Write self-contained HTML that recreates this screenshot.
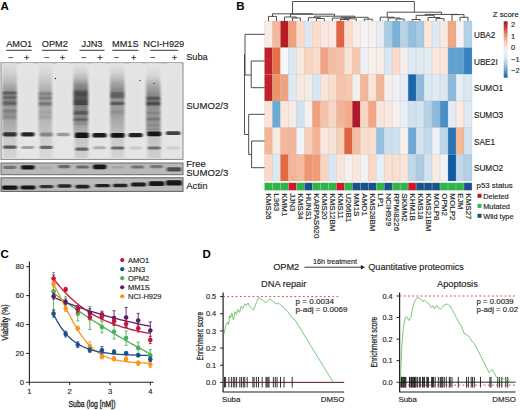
<!DOCTYPE html>
<html><head><meta charset="utf-8"><style>
html,body{margin:0;padding:0;background:#fff;width:520px;height:410px;overflow:hidden}
svg{display:block;font-family:"Liberation Sans", sans-serif}
</style></head><body>
<svg width="520" height="410" viewBox="0 0 520 410">
<rect width="520" height="410" fill="#fff"/>
<text x="0.6" y="9.7" font-size="11.5" text-anchor="start" font-weight="bold" fill="#000"  >A</text>
<text x="236.2" y="9.8" font-size="11.5" text-anchor="start" font-weight="bold" fill="#000"  >B</text>
<text x="0.6" y="258.3" font-size="11.5" text-anchor="start" font-weight="bold" fill="#000"  >C</text>
<text x="202.6" y="258.1" font-size="11.5" text-anchor="start" font-weight="bold" fill="#000"  >D</text>
<text x="19.2" y="47" font-size="9.2" text-anchor="middle" font-weight="normal" fill="#231f20" stroke="#231f20" stroke-width="0.15" >AMO1</text>
<line x1="6.20" y1="50.30" x2="31.70" y2="50.30" stroke="#231f20" stroke-width="0.9" />
<text x="54.8" y="47" font-size="9.2" text-anchor="middle" font-weight="normal" fill="#231f20" stroke="#231f20" stroke-width="0.15" >OPM2</text>
<line x1="41.90" y1="50.30" x2="67.70" y2="50.30" stroke="#231f20" stroke-width="0.9" />
<text x="92" y="47" font-size="9.2" text-anchor="middle" font-weight="normal" fill="#231f20" stroke="#231f20" stroke-width="0.15" >JJN3</text>
<line x1="79.50" y1="50.30" x2="104.50" y2="50.30" stroke="#231f20" stroke-width="0.9" />
<text x="125.3" y="47" font-size="9.2" text-anchor="middle" font-weight="normal" fill="#231f20" stroke="#231f20" stroke-width="0.15" >MM1S</text>
<line x1="112.30" y1="50.30" x2="138.40" y2="50.30" stroke="#231f20" stroke-width="0.9" />
<text x="163.8" y="47" font-size="9.2" text-anchor="middle" font-weight="normal" fill="#231f20" stroke="#231f20" stroke-width="0.15" >NCI-H929</text>
<line x1="150.20" y1="50.30" x2="177.90" y2="50.30" stroke="#231f20" stroke-width="0.9" />
<text x="10.8" y="60.8" font-size="9.2" text-anchor="middle" font-weight="normal" fill="#231f20" stroke="#231f20" stroke-width="0.15" >−</text>
<text x="26.8" y="60.8" font-size="9.2" text-anchor="middle" font-weight="normal" fill="#231f20" stroke="#231f20" stroke-width="0.15" >+</text>
<text x="46.6" y="60.8" font-size="9.2" text-anchor="middle" font-weight="normal" fill="#231f20" stroke="#231f20" stroke-width="0.15" >−</text>
<text x="62.5" y="60.8" font-size="9.2" text-anchor="middle" font-weight="normal" fill="#231f20" stroke="#231f20" stroke-width="0.15" >+</text>
<text x="83.75" y="60.8" font-size="9.2" text-anchor="middle" font-weight="normal" fill="#231f20" stroke="#231f20" stroke-width="0.15" >−</text>
<text x="100" y="60.8" font-size="9.2" text-anchor="middle" font-weight="normal" fill="#231f20" stroke="#231f20" stroke-width="0.15" >+</text>
<text x="116.4" y="60.8" font-size="9.2" text-anchor="middle" font-weight="normal" fill="#231f20" stroke="#231f20" stroke-width="0.15" >−</text>
<text x="133.7" y="60.8" font-size="9.2" text-anchor="middle" font-weight="normal" fill="#231f20" stroke="#231f20" stroke-width="0.15" >+</text>
<text x="152.8" y="60.8" font-size="9.2" text-anchor="middle" font-weight="normal" fill="#231f20" stroke="#231f20" stroke-width="0.15" >−</text>
<text x="174.4" y="60.8" font-size="9.2" text-anchor="middle" font-weight="normal" fill="#231f20" stroke="#231f20" stroke-width="0.15" >+</text>
<text x="186.2" y="59.5" font-size="9.2" text-anchor="start" font-weight="normal" fill="#231f20" stroke="#231f20" stroke-width="0.15" >Suba</text>
<text x="186.2" y="109" font-size="9.6" text-anchor="start" font-weight="normal" fill="#231f20" stroke="#231f20" stroke-width="0.15" >SUMO2/3</text>
<text x="186.2" y="166.6" font-size="9.6" text-anchor="start" font-weight="normal" fill="#231f20" stroke="#231f20" stroke-width="0.15" >Free</text>
<text x="186.2" y="176.3" font-size="9.6" text-anchor="start" font-weight="normal" fill="#231f20" stroke="#231f20" stroke-width="0.15" >SUMO2/3</text>
<text x="186.2" y="188.6" font-size="9.6" text-anchor="start" font-weight="normal" fill="#231f20" stroke="#231f20" stroke-width="0.15" >Actin</text>
<defs><filter id="bl1" x="-50%" y="-50%" width="200%" height="200%"><feGaussianBlur stdDeviation="0.8 0.6"/></filter><filter id="bls" x="-50%" y="-50%" width="200%" height="200%"><feGaussianBlur stdDeviation="1.1 0.4"/></filter><clipPath id="cpm"><rect x="1.5" y="63" width="181" height="96"/></clipPath><clipPath id="cpf"><rect x="1.5" y="163.5" width="181" height="10.8"/></clipPath><clipPath id="cpa"><rect x="1.5" y="178.3" width="181" height="12.5"/></clipPath></defs>
<rect x="1" y="62.8" width="182" height="96.6" fill="#e5e5e5" stroke="#8a8a8a" stroke-width="1"/>
<g clip-path="url(#cpm)">
<g filter="url(#bls)">
<rect x="21.3" y="63.00" width="13" height="2.05" fill="rgb(229,229,229)"/>
<rect x="21.3" y="65.00" width="13" height="2.05" fill="rgb(229,229,229)"/>
<rect x="21.3" y="67.00" width="13" height="2.05" fill="rgb(228,228,228)"/>
<rect x="21.3" y="69.00" width="13" height="2.05" fill="rgb(228,228,228)"/>
<rect x="21.3" y="71.00" width="13" height="2.05" fill="rgb(228,228,228)"/>
<rect x="21.3" y="73.00" width="13" height="2.05" fill="rgb(227,227,227)"/>
<rect x="21.3" y="75.00" width="13" height="2.05" fill="rgb(227,227,227)"/>
<rect x="21.3" y="77.00" width="13" height="2.05" fill="rgb(227,227,227)"/>
<rect x="21.3" y="79.00" width="13" height="2.05" fill="rgb(226,226,226)"/>
<rect x="21.3" y="81.00" width="13" height="2.05" fill="rgb(226,226,226)"/>
<rect x="21.3" y="83.00" width="13" height="2.05" fill="rgb(226,226,226)"/>
<rect x="21.3" y="85.00" width="13" height="2.05" fill="rgb(226,226,226)"/>
<rect x="21.3" y="87.00" width="13" height="2.05" fill="rgb(226,226,226)"/>
<rect x="21.3" y="89.00" width="13" height="2.05" fill="rgb(226,226,226)"/>
<rect x="21.3" y="91.00" width="13" height="2.05" fill="rgb(226,226,226)"/>
<rect x="21.3" y="93.00" width="13" height="2.05" fill="rgb(226,226,226)"/>
<rect x="21.3" y="95.00" width="13" height="2.05" fill="rgb(226,226,226)"/>
<rect x="21.3" y="97.00" width="13" height="2.05" fill="rgb(226,226,226)"/>
<rect x="21.3" y="99.00" width="13" height="2.05" fill="rgb(226,226,226)"/>
<rect x="21.3" y="101.00" width="13" height="2.05" fill="rgb(226,226,226)"/>
<rect x="21.3" y="103.00" width="13" height="2.05" fill="rgb(226,226,226)"/>
<rect x="21.3" y="105.00" width="13" height="2.05" fill="rgb(226,226,226)"/>
<rect x="21.3" y="107.00" width="13" height="2.05" fill="rgb(226,226,226)"/>
<rect x="21.3" y="109.00" width="13" height="2.05" fill="rgb(226,226,226)"/>
<rect x="21.3" y="111.00" width="13" height="2.05" fill="rgb(226,226,226)"/>
<rect x="21.3" y="113.00" width="13" height="2.05" fill="rgb(226,226,226)"/>
<rect x="21.3" y="115.00" width="13" height="2.05" fill="rgb(226,226,226)"/>
<rect x="21.3" y="117.00" width="13" height="2.05" fill="rgb(226,226,226)"/>
<rect x="21.3" y="119.00" width="13" height="2.05" fill="rgb(226,226,226)"/>
<rect x="21.3" y="121.00" width="13" height="2.05" fill="rgb(226,226,226)"/>
<rect x="21.3" y="123.00" width="13" height="2.05" fill="rgb(226,226,226)"/>
<rect x="21.3" y="125.00" width="13" height="2.05" fill="rgb(226,226,226)"/>
<rect x="21.3" y="127.00" width="13" height="2.05" fill="rgb(226,226,226)"/>
<rect x="21.3" y="129.00" width="13" height="2.05" fill="rgb(227,227,227)"/>
<rect x="21.3" y="131.00" width="13" height="2.05" fill="rgb(228,228,228)"/>
</g>
<g filter="url(#bls)">
<rect x="56.8" y="63.00" width="13" height="2.05" fill="rgb(229,229,229)"/>
<rect x="56.8" y="65.00" width="13" height="2.05" fill="rgb(229,229,229)"/>
<rect x="56.8" y="67.00" width="13" height="2.05" fill="rgb(228,228,228)"/>
<rect x="56.8" y="69.00" width="13" height="2.05" fill="rgb(228,228,228)"/>
<rect x="56.8" y="71.00" width="13" height="2.05" fill="rgb(228,228,228)"/>
<rect x="56.8" y="73.00" width="13" height="2.05" fill="rgb(227,227,227)"/>
<rect x="56.8" y="75.00" width="13" height="2.05" fill="rgb(227,227,227)"/>
<rect x="56.8" y="77.00" width="13" height="2.05" fill="rgb(227,227,227)"/>
<rect x="56.8" y="79.00" width="13" height="2.05" fill="rgb(226,226,226)"/>
<rect x="56.8" y="81.00" width="13" height="2.05" fill="rgb(226,226,226)"/>
<rect x="56.8" y="83.00" width="13" height="2.05" fill="rgb(226,226,226)"/>
<rect x="56.8" y="85.00" width="13" height="2.05" fill="rgb(226,226,226)"/>
<rect x="56.8" y="87.00" width="13" height="2.05" fill="rgb(226,226,226)"/>
<rect x="56.8" y="89.00" width="13" height="2.05" fill="rgb(226,226,226)"/>
<rect x="56.8" y="91.00" width="13" height="2.05" fill="rgb(226,226,226)"/>
<rect x="56.8" y="93.00" width="13" height="2.05" fill="rgb(226,226,226)"/>
<rect x="56.8" y="95.00" width="13" height="2.05" fill="rgb(226,226,226)"/>
<rect x="56.8" y="97.00" width="13" height="2.05" fill="rgb(226,226,226)"/>
<rect x="56.8" y="99.00" width="13" height="2.05" fill="rgb(226,226,226)"/>
<rect x="56.8" y="101.00" width="13" height="2.05" fill="rgb(226,226,226)"/>
<rect x="56.8" y="103.00" width="13" height="2.05" fill="rgb(226,226,226)"/>
<rect x="56.8" y="105.00" width="13" height="2.05" fill="rgb(226,226,226)"/>
<rect x="56.8" y="107.00" width="13" height="2.05" fill="rgb(226,226,226)"/>
<rect x="56.8" y="109.00" width="13" height="2.05" fill="rgb(226,226,226)"/>
<rect x="56.8" y="111.00" width="13" height="2.05" fill="rgb(226,226,226)"/>
<rect x="56.8" y="113.00" width="13" height="2.05" fill="rgb(226,226,226)"/>
<rect x="56.8" y="115.00" width="13" height="2.05" fill="rgb(226,226,226)"/>
<rect x="56.8" y="117.00" width="13" height="2.05" fill="rgb(226,226,226)"/>
<rect x="56.8" y="119.00" width="13" height="2.05" fill="rgb(226,226,226)"/>
<rect x="56.8" y="121.00" width="13" height="2.05" fill="rgb(226,226,226)"/>
<rect x="56.8" y="123.00" width="13" height="2.05" fill="rgb(226,226,226)"/>
<rect x="56.8" y="125.00" width="13" height="2.05" fill="rgb(226,226,226)"/>
<rect x="56.8" y="127.00" width="13" height="2.05" fill="rgb(226,226,226)"/>
<rect x="56.8" y="129.00" width="13" height="2.05" fill="rgb(227,227,227)"/>
<rect x="56.8" y="131.00" width="13" height="2.05" fill="rgb(228,228,228)"/>
</g>
<g filter="url(#bls)">
<rect x="93.0" y="63.00" width="13" height="2.05" fill="rgb(229,229,229)"/>
<rect x="93.0" y="65.00" width="13" height="2.05" fill="rgb(229,229,229)"/>
<rect x="93.0" y="67.00" width="13" height="2.05" fill="rgb(228,228,228)"/>
<rect x="93.0" y="69.00" width="13" height="2.05" fill="rgb(228,228,228)"/>
<rect x="93.0" y="71.00" width="13" height="2.05" fill="rgb(228,228,228)"/>
<rect x="93.0" y="73.00" width="13" height="2.05" fill="rgb(227,227,227)"/>
<rect x="93.0" y="75.00" width="13" height="2.05" fill="rgb(227,227,227)"/>
<rect x="93.0" y="77.00" width="13" height="2.05" fill="rgb(227,227,227)"/>
<rect x="93.0" y="79.00" width="13" height="2.05" fill="rgb(226,226,226)"/>
<rect x="93.0" y="81.00" width="13" height="2.05" fill="rgb(226,226,226)"/>
<rect x="93.0" y="83.00" width="13" height="2.05" fill="rgb(226,226,226)"/>
<rect x="93.0" y="85.00" width="13" height="2.05" fill="rgb(226,226,226)"/>
<rect x="93.0" y="87.00" width="13" height="2.05" fill="rgb(226,226,226)"/>
<rect x="93.0" y="89.00" width="13" height="2.05" fill="rgb(226,226,226)"/>
<rect x="93.0" y="91.00" width="13" height="2.05" fill="rgb(226,226,226)"/>
<rect x="93.0" y="93.00" width="13" height="2.05" fill="rgb(226,226,226)"/>
<rect x="93.0" y="95.00" width="13" height="2.05" fill="rgb(226,226,226)"/>
<rect x="93.0" y="97.00" width="13" height="2.05" fill="rgb(226,226,226)"/>
<rect x="93.0" y="99.00" width="13" height="2.05" fill="rgb(226,226,226)"/>
<rect x="93.0" y="101.00" width="13" height="2.05" fill="rgb(226,226,226)"/>
<rect x="93.0" y="103.00" width="13" height="2.05" fill="rgb(226,226,226)"/>
<rect x="93.0" y="105.00" width="13" height="2.05" fill="rgb(226,226,226)"/>
<rect x="93.0" y="107.00" width="13" height="2.05" fill="rgb(226,226,226)"/>
<rect x="93.0" y="109.00" width="13" height="2.05" fill="rgb(226,226,226)"/>
<rect x="93.0" y="111.00" width="13" height="2.05" fill="rgb(226,226,226)"/>
<rect x="93.0" y="113.00" width="13" height="2.05" fill="rgb(226,226,226)"/>
<rect x="93.0" y="115.00" width="13" height="2.05" fill="rgb(226,226,226)"/>
<rect x="93.0" y="117.00" width="13" height="2.05" fill="rgb(226,226,226)"/>
<rect x="93.0" y="119.00" width="13" height="2.05" fill="rgb(226,226,226)"/>
<rect x="93.0" y="121.00" width="13" height="2.05" fill="rgb(226,226,226)"/>
<rect x="93.0" y="123.00" width="13" height="2.05" fill="rgb(226,226,226)"/>
<rect x="93.0" y="125.00" width="13" height="2.05" fill="rgb(226,226,226)"/>
<rect x="93.0" y="127.00" width="13" height="2.05" fill="rgb(226,226,226)"/>
<rect x="93.0" y="129.00" width="13" height="2.05" fill="rgb(227,227,227)"/>
<rect x="93.0" y="131.00" width="13" height="2.05" fill="rgb(228,228,228)"/>
</g>
<g filter="url(#bls)">
<rect x="129.1" y="63.00" width="13" height="2.05" fill="rgb(229,229,229)"/>
<rect x="129.1" y="65.00" width="13" height="2.05" fill="rgb(229,229,229)"/>
<rect x="129.1" y="67.00" width="13" height="2.05" fill="rgb(228,228,228)"/>
<rect x="129.1" y="69.00" width="13" height="2.05" fill="rgb(228,228,228)"/>
<rect x="129.1" y="71.00" width="13" height="2.05" fill="rgb(228,228,228)"/>
<rect x="129.1" y="73.00" width="13" height="2.05" fill="rgb(227,227,227)"/>
<rect x="129.1" y="75.00" width="13" height="2.05" fill="rgb(227,227,227)"/>
<rect x="129.1" y="77.00" width="13" height="2.05" fill="rgb(227,227,227)"/>
<rect x="129.1" y="79.00" width="13" height="2.05" fill="rgb(226,226,226)"/>
<rect x="129.1" y="81.00" width="13" height="2.05" fill="rgb(226,226,226)"/>
<rect x="129.1" y="83.00" width="13" height="2.05" fill="rgb(226,226,226)"/>
<rect x="129.1" y="85.00" width="13" height="2.05" fill="rgb(226,226,226)"/>
<rect x="129.1" y="87.00" width="13" height="2.05" fill="rgb(226,226,226)"/>
<rect x="129.1" y="89.00" width="13" height="2.05" fill="rgb(226,226,226)"/>
<rect x="129.1" y="91.00" width="13" height="2.05" fill="rgb(226,226,226)"/>
<rect x="129.1" y="93.00" width="13" height="2.05" fill="rgb(226,226,226)"/>
<rect x="129.1" y="95.00" width="13" height="2.05" fill="rgb(226,226,226)"/>
<rect x="129.1" y="97.00" width="13" height="2.05" fill="rgb(226,226,226)"/>
<rect x="129.1" y="99.00" width="13" height="2.05" fill="rgb(226,226,226)"/>
<rect x="129.1" y="101.00" width="13" height="2.05" fill="rgb(226,226,226)"/>
<rect x="129.1" y="103.00" width="13" height="2.05" fill="rgb(226,226,226)"/>
<rect x="129.1" y="105.00" width="13" height="2.05" fill="rgb(226,226,226)"/>
<rect x="129.1" y="107.00" width="13" height="2.05" fill="rgb(226,226,226)"/>
<rect x="129.1" y="109.00" width="13" height="2.05" fill="rgb(226,226,226)"/>
<rect x="129.1" y="111.00" width="13" height="2.05" fill="rgb(226,226,226)"/>
<rect x="129.1" y="113.00" width="13" height="2.05" fill="rgb(226,226,226)"/>
<rect x="129.1" y="115.00" width="13" height="2.05" fill="rgb(226,226,226)"/>
<rect x="129.1" y="117.00" width="13" height="2.05" fill="rgb(226,226,226)"/>
<rect x="129.1" y="119.00" width="13" height="2.05" fill="rgb(226,226,226)"/>
<rect x="129.1" y="121.00" width="13" height="2.05" fill="rgb(226,226,226)"/>
<rect x="129.1" y="123.00" width="13" height="2.05" fill="rgb(226,226,226)"/>
<rect x="129.1" y="125.00" width="13" height="2.05" fill="rgb(226,226,226)"/>
<rect x="129.1" y="127.00" width="13" height="2.05" fill="rgb(226,226,226)"/>
<rect x="129.1" y="129.00" width="13" height="2.05" fill="rgb(227,227,227)"/>
<rect x="129.1" y="131.00" width="13" height="2.05" fill="rgb(228,228,228)"/>
</g>
<g filter="url(#bls)">
<rect x="166.7" y="63.00" width="13" height="2.05" fill="rgb(229,229,229)"/>
<rect x="166.7" y="65.00" width="13" height="2.05" fill="rgb(229,229,229)"/>
<rect x="166.7" y="67.00" width="13" height="2.05" fill="rgb(228,228,228)"/>
<rect x="166.7" y="69.00" width="13" height="2.05" fill="rgb(228,228,228)"/>
<rect x="166.7" y="71.00" width="13" height="2.05" fill="rgb(228,228,228)"/>
<rect x="166.7" y="73.00" width="13" height="2.05" fill="rgb(227,227,227)"/>
<rect x="166.7" y="75.00" width="13" height="2.05" fill="rgb(227,227,227)"/>
<rect x="166.7" y="77.00" width="13" height="2.05" fill="rgb(227,227,227)"/>
<rect x="166.7" y="79.00" width="13" height="2.05" fill="rgb(226,226,226)"/>
<rect x="166.7" y="81.00" width="13" height="2.05" fill="rgb(226,226,226)"/>
<rect x="166.7" y="83.00" width="13" height="2.05" fill="rgb(226,226,226)"/>
<rect x="166.7" y="85.00" width="13" height="2.05" fill="rgb(226,226,226)"/>
<rect x="166.7" y="87.00" width="13" height="2.05" fill="rgb(226,226,226)"/>
<rect x="166.7" y="89.00" width="13" height="2.05" fill="rgb(226,226,226)"/>
<rect x="166.7" y="91.00" width="13" height="2.05" fill="rgb(226,226,226)"/>
<rect x="166.7" y="93.00" width="13" height="2.05" fill="rgb(226,226,226)"/>
<rect x="166.7" y="95.00" width="13" height="2.05" fill="rgb(226,226,226)"/>
<rect x="166.7" y="97.00" width="13" height="2.05" fill="rgb(226,226,226)"/>
<rect x="166.7" y="99.00" width="13" height="2.05" fill="rgb(226,226,226)"/>
<rect x="166.7" y="101.00" width="13" height="2.05" fill="rgb(226,226,226)"/>
<rect x="166.7" y="103.00" width="13" height="2.05" fill="rgb(226,226,226)"/>
<rect x="166.7" y="105.00" width="13" height="2.05" fill="rgb(226,226,226)"/>
<rect x="166.7" y="107.00" width="13" height="2.05" fill="rgb(226,226,226)"/>
<rect x="166.7" y="109.00" width="13" height="2.05" fill="rgb(226,226,226)"/>
<rect x="166.7" y="111.00" width="13" height="2.05" fill="rgb(226,226,226)"/>
<rect x="166.7" y="113.00" width="13" height="2.05" fill="rgb(226,226,226)"/>
<rect x="166.7" y="115.00" width="13" height="2.05" fill="rgb(226,226,226)"/>
<rect x="166.7" y="117.00" width="13" height="2.05" fill="rgb(226,226,226)"/>
<rect x="166.7" y="119.00" width="13" height="2.05" fill="rgb(226,226,226)"/>
<rect x="166.7" y="121.00" width="13" height="2.05" fill="rgb(226,226,226)"/>
<rect x="166.7" y="123.00" width="13" height="2.05" fill="rgb(226,226,226)"/>
<rect x="166.7" y="125.00" width="13" height="2.05" fill="rgb(226,226,226)"/>
<rect x="166.7" y="127.00" width="13" height="2.05" fill="rgb(226,226,226)"/>
<rect x="166.7" y="129.00" width="13" height="2.05" fill="rgb(227,227,227)"/>
<rect x="166.7" y="131.00" width="13" height="2.05" fill="rgb(228,228,228)"/>
</g>
<g filter="url(#bls)">
<rect x="2.3" y="63.00" width="14.5" height="0.55" fill="rgb(222,222,222)"/>
<rect x="2.3" y="63.50" width="14.5" height="0.55" fill="rgb(221,221,221)"/>
<rect x="2.3" y="64.00" width="14.5" height="0.55" fill="rgb(220,220,220)"/>
<rect x="2.3" y="64.50" width="14.5" height="0.55" fill="rgb(219,219,219)"/>
<rect x="2.3" y="65.00" width="14.5" height="0.55" fill="rgb(218,218,218)"/>
<rect x="2.3" y="65.50" width="14.5" height="0.55" fill="rgb(217,217,217)"/>
<rect x="2.3" y="66.00" width="14.5" height="0.55" fill="rgb(216,216,216)"/>
<rect x="2.3" y="66.50" width="14.5" height="0.55" fill="rgb(215,215,215)"/>
<rect x="2.3" y="67.00" width="14.5" height="0.55" fill="rgb(214,214,214)"/>
<rect x="2.3" y="67.50" width="14.5" height="0.55" fill="rgb(213,213,213)"/>
<rect x="2.3" y="68.00" width="14.5" height="0.55" fill="rgb(212,212,212)"/>
<rect x="2.3" y="68.50" width="14.5" height="0.55" fill="rgb(211,211,211)"/>
<rect x="2.3" y="69.00" width="14.5" height="0.55" fill="rgb(210,210,210)"/>
<rect x="2.3" y="69.50" width="14.5" height="0.55" fill="rgb(209,209,209)"/>
<rect x="2.3" y="70.00" width="14.5" height="0.55" fill="rgb(208,208,208)"/>
<rect x="2.3" y="70.50" width="14.5" height="0.55" fill="rgb(207,207,207)"/>
<rect x="2.3" y="71.00" width="14.5" height="0.55" fill="rgb(206,206,206)"/>
<rect x="2.3" y="71.50" width="14.5" height="0.55" fill="rgb(205,205,205)"/>
<rect x="2.3" y="72.00" width="14.5" height="0.55" fill="rgb(204,204,204)"/>
<rect x="2.3" y="72.50" width="14.5" height="0.55" fill="rgb(203,203,203)"/>
<rect x="2.3" y="73.00" width="14.5" height="0.55" fill="rgb(201,201,201)"/>
<rect x="2.3" y="73.50" width="14.5" height="0.55" fill="rgb(200,200,200)"/>
<rect x="2.3" y="74.00" width="14.5" height="0.55" fill="rgb(198,198,198)"/>
<rect x="2.3" y="74.50" width="14.5" height="0.55" fill="rgb(197,197,197)"/>
<rect x="2.3" y="75.00" width="14.5" height="0.55" fill="rgb(196,196,196)"/>
<rect x="2.3" y="75.50" width="14.5" height="0.55" fill="rgb(194,194,194)"/>
<rect x="2.3" y="76.00" width="14.5" height="0.55" fill="rgb(193,193,193)"/>
<rect x="2.3" y="76.50" width="14.5" height="0.55" fill="rgb(191,191,191)"/>
<rect x="2.3" y="77.00" width="14.5" height="0.55" fill="rgb(190,190,190)"/>
<rect x="2.3" y="77.50" width="14.5" height="0.55" fill="rgb(188,188,188)"/>
<rect x="2.3" y="78.00" width="14.5" height="0.55" fill="rgb(186,186,186)"/>
<rect x="2.3" y="78.50" width="14.5" height="0.55" fill="rgb(185,185,185)"/>
<rect x="2.3" y="79.00" width="14.5" height="0.55" fill="rgb(183,183,183)"/>
<rect x="2.3" y="79.50" width="14.5" height="0.55" fill="rgb(181,181,181)"/>
<rect x="2.3" y="80.00" width="14.5" height="0.55" fill="rgb(180,180,180)"/>
<rect x="2.3" y="80.50" width="14.5" height="0.55" fill="rgb(178,178,178)"/>
<rect x="2.3" y="81.00" width="14.5" height="0.55" fill="rgb(176,176,176)"/>
<rect x="2.3" y="81.50" width="14.5" height="0.55" fill="rgb(174,174,174)"/>
<rect x="2.3" y="82.00" width="14.5" height="0.55" fill="rgb(171,171,171)"/>
<rect x="2.3" y="82.50" width="14.5" height="0.55" fill="rgb(168,168,168)"/>
<rect x="2.3" y="83.00" width="14.5" height="0.55" fill="rgb(166,166,166)"/>
<rect x="2.3" y="83.50" width="14.5" height="0.55" fill="rgb(164,164,164)"/>
<rect x="2.3" y="84.00" width="14.5" height="0.55" fill="rgb(161,161,161)"/>
<rect x="2.3" y="84.50" width="14.5" height="0.55" fill="rgb(158,158,158)"/>
<rect x="2.3" y="85.00" width="14.5" height="0.55" fill="rgb(156,156,156)"/>
<rect x="2.3" y="85.50" width="14.5" height="0.55" fill="rgb(154,154,154)"/>
<rect x="2.3" y="86.00" width="14.5" height="0.55" fill="rgb(151,151,151)"/>
<rect x="2.3" y="86.50" width="14.5" height="0.55" fill="rgb(148,148,148)"/>
<rect x="2.3" y="87.00" width="14.5" height="0.55" fill="rgb(146,146,146)"/>
<rect x="2.3" y="87.50" width="14.5" height="0.55" fill="rgb(144,144,144)"/>
<rect x="2.3" y="88.00" width="14.5" height="0.55" fill="rgb(141,141,141)"/>
<rect x="2.3" y="88.50" width="14.5" height="0.55" fill="rgb(139,139,139)"/>
<rect x="2.3" y="89.00" width="14.5" height="0.55" fill="rgb(137,137,137)"/>
<rect x="2.3" y="89.50" width="14.5" height="0.55" fill="rgb(135,135,135)"/>
<rect x="2.3" y="90.00" width="14.5" height="0.55" fill="rgb(132,132,132)"/>
<rect x="2.3" y="90.50" width="14.5" height="0.55" fill="rgb(130,130,130)"/>
<rect x="2.3" y="91.00" width="14.5" height="0.55" fill="rgb(107,107,107)"/>
<rect x="2.3" y="91.50" width="14.5" height="0.55" fill="rgb(84,84,84)"/>
<rect x="2.3" y="92.00" width="14.5" height="0.55" fill="rgb(66,66,66)"/>
<rect x="2.3" y="92.50" width="14.5" height="0.55" fill="rgb(57,57,57)"/>
<rect x="2.3" y="93.00" width="14.5" height="0.55" fill="rgb(48,48,48)"/>
<rect x="2.3" y="93.50" width="14.5" height="0.55" fill="rgb(62,62,62)"/>
<rect x="2.3" y="94.00" width="14.5" height="0.55" fill="rgb(76,76,76)"/>
<rect x="2.3" y="94.50" width="14.5" height="0.55" fill="rgb(90,90,90)"/>
<rect x="2.3" y="95.00" width="14.5" height="0.55" fill="rgb(95,95,95)"/>
<rect x="2.3" y="95.50" width="14.5" height="0.55" fill="rgb(100,100,100)"/>
<rect x="2.3" y="96.00" width="14.5" height="0.55" fill="rgb(87,87,87)"/>
<rect x="2.3" y="96.50" width="14.5" height="0.55" fill="rgb(74,74,74)"/>
<rect x="2.3" y="97.00" width="14.5" height="0.55" fill="rgb(61,61,61)"/>
<rect x="2.3" y="97.50" width="14.5" height="0.55" fill="rgb(62,62,62)"/>
<rect x="2.3" y="98.00" width="14.5" height="0.55" fill="rgb(73,73,73)"/>
<rect x="2.3" y="98.50" width="14.5" height="0.55" fill="rgb(84,84,84)"/>
<rect x="2.3" y="99.00" width="14.5" height="0.55" fill="rgb(93,93,93)"/>
<rect x="2.3" y="99.50" width="14.5" height="0.55" fill="rgb(102,102,102)"/>
<rect x="2.3" y="100.00" width="14.5" height="0.55" fill="rgb(110,110,110)"/>
<rect x="2.3" y="100.50" width="14.5" height="0.55" fill="rgb(100,100,100)"/>
<rect x="2.3" y="101.00" width="14.5" height="0.55" fill="rgb(90,90,90)"/>
<rect x="2.3" y="101.50" width="14.5" height="0.55" fill="rgb(80,80,80)"/>
<rect x="2.3" y="102.00" width="14.5" height="0.55" fill="rgb(72,72,72)"/>
<rect x="2.3" y="102.50" width="14.5" height="0.55" fill="rgb(64,64,64)"/>
<rect x="2.3" y="103.00" width="14.5" height="0.55" fill="rgb(56,56,56)"/>
<rect x="2.3" y="103.50" width="14.5" height="0.55" fill="rgb(64,64,64)"/>
<rect x="2.3" y="104.00" width="14.5" height="0.55" fill="rgb(71,71,71)"/>
<rect x="2.3" y="104.50" width="14.5" height="0.55" fill="rgb(79,79,79)"/>
<rect x="2.3" y="105.00" width="14.5" height="0.55" fill="rgb(95,95,95)"/>
<rect x="2.3" y="105.50" width="14.5" height="0.55" fill="rgb(114,114,114)"/>
<rect x="2.3" y="106.00" width="14.5" height="0.55" fill="rgb(126,126,126)"/>
<rect x="2.3" y="106.50" width="14.5" height="0.55" fill="rgb(129,129,129)"/>
<rect x="2.3" y="107.00" width="14.5" height="0.55" fill="rgb(132,132,132)"/>
<rect x="2.3" y="107.50" width="14.5" height="0.55" fill="rgb(135,135,135)"/>
<rect x="2.3" y="108.00" width="14.5" height="0.55" fill="rgb(138,138,138)"/>
<rect x="2.3" y="108.50" width="14.5" height="0.55" fill="rgb(130,130,130)"/>
<rect x="2.3" y="109.00" width="14.5" height="0.55" fill="rgb(122,122,122)"/>
<rect x="2.3" y="109.50" width="14.5" height="0.55" fill="rgb(113,113,113)"/>
<rect x="2.3" y="110.00" width="14.5" height="0.55" fill="rgb(105,105,105)"/>
<rect x="2.3" y="110.50" width="14.5" height="0.55" fill="rgb(101,101,101)"/>
<rect x="2.3" y="111.00" width="14.5" height="0.55" fill="rgb(98,98,98)"/>
<rect x="2.3" y="111.50" width="14.5" height="0.55" fill="rgb(100,100,100)"/>
<rect x="2.3" y="112.00" width="14.5" height="0.55" fill="rgb(106,106,106)"/>
<rect x="2.3" y="112.50" width="14.5" height="0.55" fill="rgb(111,111,111)"/>
<rect x="2.3" y="113.00" width="14.5" height="0.55" fill="rgb(117,117,117)"/>
<rect x="2.3" y="113.50" width="14.5" height="0.55" fill="rgb(123,123,123)"/>
<rect x="2.3" y="114.00" width="14.5" height="0.55" fill="rgb(128,128,128)"/>
<rect x="2.3" y="114.50" width="14.5" height="0.55" fill="rgb(124,124,124)"/>
<rect x="2.3" y="115.00" width="14.5" height="0.55" fill="rgb(121,121,121)"/>
<rect x="2.3" y="115.50" width="14.5" height="0.55" fill="rgb(117,117,117)"/>
<rect x="2.3" y="116.00" width="14.5" height="0.55" fill="rgb(113,113,113)"/>
<rect x="2.3" y="116.50" width="14.5" height="0.55" fill="rgb(110,110,110)"/>
<rect x="2.3" y="117.00" width="14.5" height="0.55" fill="rgb(106,106,106)"/>
<rect x="2.3" y="117.50" width="14.5" height="0.55" fill="rgb(112,112,112)"/>
<rect x="2.3" y="118.00" width="14.5" height="0.55" fill="rgb(119,119,119)"/>
<rect x="2.3" y="118.50" width="14.5" height="0.55" fill="rgb(125,125,125)"/>
<rect x="2.3" y="119.00" width="14.5" height="0.55" fill="rgb(133,133,133)"/>
<rect x="2.3" y="119.50" width="14.5" height="0.55" fill="rgb(142,142,142)"/>
<rect x="2.3" y="120.00" width="14.5" height="0.55" fill="rgb(150,150,150)"/>
<rect x="2.3" y="120.50" width="14.5" height="0.55" fill="rgb(151,151,151)"/>
<rect x="2.3" y="121.00" width="14.5" height="0.55" fill="rgb(152,152,152)"/>
<rect x="2.3" y="121.50" width="14.5" height="0.55" fill="rgb(152,152,152)"/>
<rect x="2.3" y="122.00" width="14.5" height="0.55" fill="rgb(153,153,153)"/>
<rect x="2.3" y="122.50" width="14.5" height="0.55" fill="rgb(154,154,154)"/>
<rect x="2.3" y="123.00" width="14.5" height="0.55" fill="rgb(155,155,155)"/>
<rect x="2.3" y="123.50" width="14.5" height="0.55" fill="rgb(156,156,156)"/>
<rect x="2.3" y="124.00" width="14.5" height="0.55" fill="rgb(157,157,157)"/>
<rect x="2.3" y="124.50" width="14.5" height="0.55" fill="rgb(158,158,158)"/>
<rect x="2.3" y="125.00" width="14.5" height="0.55" fill="rgb(158,158,158)"/>
<rect x="2.3" y="125.50" width="14.5" height="0.55" fill="rgb(159,159,159)"/>
<rect x="2.3" y="126.00" width="14.5" height="0.55" fill="rgb(160,160,160)"/>
<rect x="2.3" y="126.50" width="14.5" height="0.55" fill="rgb(161,161,161)"/>
<rect x="2.3" y="127.00" width="14.5" height="0.55" fill="rgb(162,162,162)"/>
<rect x="2.3" y="127.50" width="14.5" height="0.55" fill="rgb(162,162,162)"/>
<rect x="2.3" y="128.00" width="14.5" height="0.55" fill="rgb(163,163,163)"/>
<rect x="2.3" y="128.50" width="14.5" height="0.55" fill="rgb(164,164,164)"/>
<rect x="2.3" y="129.00" width="14.5" height="0.55" fill="rgb(165,165,165)"/>
<rect x="2.3" y="129.50" width="14.5" height="0.55" fill="rgb(166,166,166)"/>
<rect x="2.3" y="130.00" width="14.5" height="0.55" fill="rgb(166,166,166)"/>
<rect x="2.3" y="130.50" width="14.5" height="0.55" fill="rgb(167,167,167)"/>
<rect x="2.3" y="131.00" width="14.5" height="0.55" fill="rgb(168,168,168)"/>
<rect x="2.3" y="131.50" width="14.5" height="0.55" fill="rgb(169,169,169)"/>
<rect x="2.3" y="132.00" width="14.5" height="0.55" fill="rgb(170,170,170)"/>
<rect x="2.3" y="132.50" width="14.5" height="0.55" fill="rgb(171,171,171)"/>
</g>
<g filter="url(#bls)">
<rect x="38.5" y="63.00" width="13.5" height="0.55" fill="rgb(226,226,226)"/>
<rect x="38.5" y="63.50" width="13.5" height="0.55" fill="rgb(225,225,225)"/>
<rect x="38.5" y="64.00" width="13.5" height="0.55" fill="rgb(224,224,224)"/>
<rect x="38.5" y="64.50" width="13.5" height="0.55" fill="rgb(224,224,224)"/>
<rect x="38.5" y="65.00" width="13.5" height="0.55" fill="rgb(223,223,223)"/>
<rect x="38.5" y="65.50" width="13.5" height="0.55" fill="rgb(222,222,222)"/>
<rect x="38.5" y="66.00" width="13.5" height="0.55" fill="rgb(221,221,221)"/>
<rect x="38.5" y="66.50" width="13.5" height="0.55" fill="rgb(220,220,220)"/>
<rect x="38.5" y="67.00" width="13.5" height="0.55" fill="rgb(220,220,220)"/>
<rect x="38.5" y="67.50" width="13.5" height="0.55" fill="rgb(219,219,219)"/>
<rect x="38.5" y="68.00" width="13.5" height="0.55" fill="rgb(218,218,218)"/>
<rect x="38.5" y="68.50" width="13.5" height="0.55" fill="rgb(217,217,217)"/>
<rect x="38.5" y="69.00" width="13.5" height="0.55" fill="rgb(217,217,217)"/>
<rect x="38.5" y="69.50" width="13.5" height="0.55" fill="rgb(216,216,216)"/>
<rect x="38.5" y="70.00" width="13.5" height="0.55" fill="rgb(215,215,215)"/>
<rect x="38.5" y="70.50" width="13.5" height="0.55" fill="rgb(214,214,214)"/>
<rect x="38.5" y="71.00" width="13.5" height="0.55" fill="rgb(213,213,213)"/>
<rect x="38.5" y="71.50" width="13.5" height="0.55" fill="rgb(212,212,212)"/>
<rect x="38.5" y="72.00" width="13.5" height="0.55" fill="rgb(211,211,211)"/>
<rect x="38.5" y="72.50" width="13.5" height="0.55" fill="rgb(210,210,210)"/>
<rect x="38.5" y="73.00" width="13.5" height="0.55" fill="rgb(209,209,209)"/>
<rect x="38.5" y="73.50" width="13.5" height="0.55" fill="rgb(208,208,208)"/>
<rect x="38.5" y="74.00" width="13.5" height="0.55" fill="rgb(206,206,206)"/>
<rect x="38.5" y="74.50" width="13.5" height="0.55" fill="rgb(205,205,205)"/>
<rect x="38.5" y="75.00" width="13.5" height="0.55" fill="rgb(204,204,204)"/>
<rect x="38.5" y="75.50" width="13.5" height="0.55" fill="rgb(203,203,203)"/>
<rect x="38.5" y="76.00" width="13.5" height="0.55" fill="rgb(202,202,202)"/>
<rect x="38.5" y="76.50" width="13.5" height="0.55" fill="rgb(201,201,201)"/>
<rect x="38.5" y="77.00" width="13.5" height="0.55" fill="rgb(200,200,200)"/>
<rect x="38.5" y="77.50" width="13.5" height="0.55" fill="rgb(198,198,198)"/>
<rect x="38.5" y="78.00" width="13.5" height="0.55" fill="rgb(197,197,197)"/>
<rect x="38.5" y="78.50" width="13.5" height="0.55" fill="rgb(196,196,196)"/>
<rect x="38.5" y="79.00" width="13.5" height="0.55" fill="rgb(194,194,194)"/>
<rect x="38.5" y="79.50" width="13.5" height="0.55" fill="rgb(192,192,192)"/>
<rect x="38.5" y="80.00" width="13.5" height="0.55" fill="rgb(191,191,191)"/>
<rect x="38.5" y="80.50" width="13.5" height="0.55" fill="rgb(190,190,190)"/>
<rect x="38.5" y="81.00" width="13.5" height="0.55" fill="rgb(188,188,188)"/>
<rect x="38.5" y="81.50" width="13.5" height="0.55" fill="rgb(186,186,186)"/>
<rect x="38.5" y="82.00" width="13.5" height="0.55" fill="rgb(185,185,185)"/>
<rect x="38.5" y="82.50" width="13.5" height="0.55" fill="rgb(183,183,183)"/>
<rect x="38.5" y="83.00" width="13.5" height="0.55" fill="rgb(181,181,181)"/>
<rect x="38.5" y="83.50" width="13.5" height="0.55" fill="rgb(179,179,179)"/>
<rect x="38.5" y="84.00" width="13.5" height="0.55" fill="rgb(178,178,178)"/>
<rect x="38.5" y="84.50" width="13.5" height="0.55" fill="rgb(176,176,176)"/>
<rect x="38.5" y="85.00" width="13.5" height="0.55" fill="rgb(174,174,174)"/>
<rect x="38.5" y="85.50" width="13.5" height="0.55" fill="rgb(172,172,172)"/>
<rect x="38.5" y="86.00" width="13.5" height="0.55" fill="rgb(170,170,170)"/>
<rect x="38.5" y="86.50" width="13.5" height="0.55" fill="rgb(169,169,169)"/>
<rect x="38.5" y="87.00" width="13.5" height="0.55" fill="rgb(168,168,168)"/>
<rect x="38.5" y="87.50" width="13.5" height="0.55" fill="rgb(167,167,167)"/>
<rect x="38.5" y="88.00" width="13.5" height="0.55" fill="rgb(166,166,166)"/>
<rect x="38.5" y="88.50" width="13.5" height="0.55" fill="rgb(164,164,164)"/>
<rect x="38.5" y="89.00" width="13.5" height="0.55" fill="rgb(163,163,163)"/>
<rect x="38.5" y="89.50" width="13.5" height="0.55" fill="rgb(162,162,162)"/>
<rect x="38.5" y="90.00" width="13.5" height="0.55" fill="rgb(161,161,161)"/>
<rect x="38.5" y="90.50" width="13.5" height="0.55" fill="rgb(160,160,160)"/>
<rect x="38.5" y="91.00" width="13.5" height="0.55" fill="rgb(150,150,150)"/>
<rect x="38.5" y="91.50" width="13.5" height="0.55" fill="rgb(140,140,140)"/>
<rect x="38.5" y="92.00" width="13.5" height="0.55" fill="rgb(130,130,130)"/>
<rect x="38.5" y="92.50" width="13.5" height="0.55" fill="rgb(120,120,120)"/>
<rect x="38.5" y="93.00" width="13.5" height="0.55" fill="rgb(111,111,111)"/>
<rect x="38.5" y="93.50" width="13.5" height="0.55" fill="rgb(102,102,102)"/>
<rect x="38.5" y="94.00" width="13.5" height="0.55" fill="rgb(101,101,101)"/>
<rect x="38.5" y="94.50" width="13.5" height="0.55" fill="rgb(112,112,112)"/>
<rect x="38.5" y="95.00" width="13.5" height="0.55" fill="rgb(123,123,123)"/>
<rect x="38.5" y="95.50" width="13.5" height="0.55" fill="rgb(128,128,128)"/>
<rect x="38.5" y="96.00" width="13.5" height="0.55" fill="rgb(123,123,123)"/>
<rect x="38.5" y="96.50" width="13.5" height="0.55" fill="rgb(118,118,118)"/>
<rect x="38.5" y="97.00" width="13.5" height="0.55" fill="rgb(108,108,108)"/>
<rect x="38.5" y="97.50" width="13.5" height="0.55" fill="rgb(98,98,98)"/>
<rect x="38.5" y="98.00" width="13.5" height="0.55" fill="rgb(88,88,88)"/>
<rect x="38.5" y="98.50" width="13.5" height="0.55" fill="rgb(100,100,100)"/>
<rect x="38.5" y="99.00" width="13.5" height="0.55" fill="rgb(111,111,111)"/>
<rect x="38.5" y="99.50" width="13.5" height="0.55" fill="rgb(123,123,123)"/>
<rect x="38.5" y="100.00" width="13.5" height="0.55" fill="rgb(129,129,129)"/>
<rect x="38.5" y="100.50" width="13.5" height="0.55" fill="rgb(135,135,135)"/>
<rect x="38.5" y="101.00" width="13.5" height="0.55" fill="rgb(140,140,140)"/>
<rect x="38.5" y="101.50" width="13.5" height="0.55" fill="rgb(125,125,125)"/>
<rect x="38.5" y="102.00" width="13.5" height="0.55" fill="rgb(111,111,111)"/>
<rect x="38.5" y="102.50" width="13.5" height="0.55" fill="rgb(100,100,100)"/>
<rect x="38.5" y="103.00" width="13.5" height="0.55" fill="rgb(91,91,91)"/>
<rect x="38.5" y="103.50" width="13.5" height="0.55" fill="rgb(82,82,82)"/>
<rect x="38.5" y="104.00" width="13.5" height="0.55" fill="rgb(89,89,89)"/>
<rect x="38.5" y="104.50" width="13.5" height="0.55" fill="rgb(100,100,100)"/>
<rect x="38.5" y="105.00" width="13.5" height="0.55" fill="rgb(111,111,111)"/>
<rect x="38.5" y="105.50" width="13.5" height="0.55" fill="rgb(123,123,123)"/>
<rect x="38.5" y="106.00" width="13.5" height="0.55" fill="rgb(137,137,137)"/>
<rect x="38.5" y="106.50" width="13.5" height="0.55" fill="rgb(150,150,150)"/>
<rect x="38.5" y="107.00" width="13.5" height="0.55" fill="rgb(153,153,153)"/>
<rect x="38.5" y="107.50" width="13.5" height="0.55" fill="rgb(157,157,157)"/>
<rect x="38.5" y="108.00" width="13.5" height="0.55" fill="rgb(160,160,160)"/>
<rect x="38.5" y="108.50" width="13.5" height="0.55" fill="rgb(159,159,159)"/>
<rect x="38.5" y="109.00" width="13.5" height="0.55" fill="rgb(157,157,157)"/>
<rect x="38.5" y="109.50" width="13.5" height="0.55" fill="rgb(156,156,156)"/>
<rect x="38.5" y="110.00" width="13.5" height="0.55" fill="rgb(155,155,155)"/>
<rect x="38.5" y="110.50" width="13.5" height="0.55" fill="rgb(153,153,153)"/>
<rect x="38.5" y="111.00" width="13.5" height="0.55" fill="rgb(152,152,152)"/>
<rect x="38.5" y="111.50" width="13.5" height="0.55" fill="rgb(147,147,147)"/>
<rect x="38.5" y="112.00" width="13.5" height="0.55" fill="rgb(143,143,143)"/>
<rect x="38.5" y="112.50" width="13.5" height="0.55" fill="rgb(143,143,143)"/>
<rect x="38.5" y="113.00" width="13.5" height="0.55" fill="rgb(149,149,149)"/>
<rect x="38.5" y="113.50" width="13.5" height="0.55" fill="rgb(155,155,155)"/>
<rect x="38.5" y="114.00" width="13.5" height="0.55" fill="rgb(154,154,154)"/>
<rect x="38.5" y="114.50" width="13.5" height="0.55" fill="rgb(153,153,153)"/>
<rect x="38.5" y="115.00" width="13.5" height="0.55" fill="rgb(152,152,152)"/>
<rect x="38.5" y="115.50" width="13.5" height="0.55" fill="rgb(151,151,151)"/>
<rect x="38.5" y="116.00" width="13.5" height="0.55" fill="rgb(150,150,150)"/>
<rect x="38.5" y="116.50" width="13.5" height="0.55" fill="rgb(147,147,147)"/>
<rect x="38.5" y="117.00" width="13.5" height="0.55" fill="rgb(143,143,143)"/>
<rect x="38.5" y="117.50" width="13.5" height="0.55" fill="rgb(146,146,146)"/>
<rect x="38.5" y="118.00" width="13.5" height="0.55" fill="rgb(152,152,152)"/>
<rect x="38.5" y="118.50" width="13.5" height="0.55" fill="rgb(158,158,158)"/>
<rect x="38.5" y="119.00" width="13.5" height="0.55" fill="rgb(162,162,162)"/>
<rect x="38.5" y="119.50" width="13.5" height="0.55" fill="rgb(164,164,164)"/>
<rect x="38.5" y="120.00" width="13.5" height="0.55" fill="rgb(167,167,167)"/>
<rect x="38.5" y="120.50" width="13.5" height="0.55" fill="rgb(169,169,169)"/>
<rect x="38.5" y="121.00" width="13.5" height="0.55" fill="rgb(172,172,172)"/>
<rect x="38.5" y="121.50" width="13.5" height="0.55" fill="rgb(172,172,172)"/>
<rect x="38.5" y="122.00" width="13.5" height="0.55" fill="rgb(173,173,173)"/>
<rect x="38.5" y="122.50" width="13.5" height="0.55" fill="rgb(173,173,173)"/>
<rect x="38.5" y="123.00" width="13.5" height="0.55" fill="rgb(174,174,174)"/>
<rect x="38.5" y="123.50" width="13.5" height="0.55" fill="rgb(174,174,174)"/>
<rect x="38.5" y="124.00" width="13.5" height="0.55" fill="rgb(175,175,175)"/>
<rect x="38.5" y="124.50" width="13.5" height="0.55" fill="rgb(175,175,175)"/>
<rect x="38.5" y="125.00" width="13.5" height="0.55" fill="rgb(175,175,175)"/>
<rect x="38.5" y="125.50" width="13.5" height="0.55" fill="rgb(176,176,176)"/>
<rect x="38.5" y="126.00" width="13.5" height="0.55" fill="rgb(176,176,176)"/>
<rect x="38.5" y="126.50" width="13.5" height="0.55" fill="rgb(177,177,177)"/>
<rect x="38.5" y="127.00" width="13.5" height="0.55" fill="rgb(177,177,177)"/>
<rect x="38.5" y="127.50" width="13.5" height="0.55" fill="rgb(178,178,178)"/>
<rect x="38.5" y="128.00" width="13.5" height="0.55" fill="rgb(178,178,178)"/>
<rect x="38.5" y="128.50" width="13.5" height="0.55" fill="rgb(178,178,178)"/>
<rect x="38.5" y="129.00" width="13.5" height="0.55" fill="rgb(179,179,179)"/>
<rect x="38.5" y="129.50" width="13.5" height="0.55" fill="rgb(179,179,179)"/>
<rect x="38.5" y="130.00" width="13.5" height="0.55" fill="rgb(180,180,180)"/>
<rect x="38.5" y="130.50" width="13.5" height="0.55" fill="rgb(180,180,180)"/>
<rect x="38.5" y="131.00" width="13.5" height="0.55" fill="rgb(180,180,180)"/>
<rect x="38.5" y="131.50" width="13.5" height="0.55" fill="rgb(181,181,181)"/>
<rect x="38.5" y="132.00" width="13.5" height="0.55" fill="rgb(181,181,181)"/>
<rect x="38.5" y="132.50" width="13.5" height="0.55" fill="rgb(182,182,182)"/>
</g>
<g filter="url(#bls)">
<rect x="73.5" y="63.00" width="14.6" height="0.55" fill="rgb(226,226,226)"/>
<rect x="73.5" y="63.50" width="14.6" height="0.55" fill="rgb(225,225,225)"/>
<rect x="73.5" y="64.00" width="14.6" height="0.55" fill="rgb(224,224,224)"/>
<rect x="73.5" y="64.50" width="14.6" height="0.55" fill="rgb(223,223,223)"/>
<rect x="73.5" y="65.00" width="14.6" height="0.55" fill="rgb(222,222,222)"/>
<rect x="73.5" y="65.50" width="14.6" height="0.55" fill="rgb(221,221,221)"/>
<rect x="73.5" y="66.00" width="14.6" height="0.55" fill="rgb(220,220,220)"/>
<rect x="73.5" y="66.50" width="14.6" height="0.55" fill="rgb(219,219,219)"/>
<rect x="73.5" y="67.00" width="14.6" height="0.55" fill="rgb(218,218,218)"/>
<rect x="73.5" y="67.50" width="14.6" height="0.55" fill="rgb(217,217,217)"/>
<rect x="73.5" y="68.00" width="14.6" height="0.55" fill="rgb(215,215,215)"/>
<rect x="73.5" y="68.50" width="14.6" height="0.55" fill="rgb(214,214,214)"/>
<rect x="73.5" y="69.00" width="14.6" height="0.55" fill="rgb(213,213,213)"/>
<rect x="73.5" y="69.50" width="14.6" height="0.55" fill="rgb(212,212,212)"/>
<rect x="73.5" y="70.00" width="14.6" height="0.55" fill="rgb(211,211,211)"/>
<rect x="73.5" y="70.50" width="14.6" height="0.55" fill="rgb(210,210,210)"/>
<rect x="73.5" y="71.00" width="14.6" height="0.55" fill="rgb(208,208,208)"/>
<rect x="73.5" y="71.50" width="14.6" height="0.55" fill="rgb(206,206,206)"/>
<rect x="73.5" y="72.00" width="14.6" height="0.55" fill="rgb(204,204,204)"/>
<rect x="73.5" y="72.50" width="14.6" height="0.55" fill="rgb(201,201,201)"/>
<rect x="73.5" y="73.00" width="14.6" height="0.55" fill="rgb(199,199,199)"/>
<rect x="73.5" y="73.50" width="14.6" height="0.55" fill="rgb(197,197,197)"/>
<rect x="73.5" y="74.00" width="14.6" height="0.55" fill="rgb(195,195,195)"/>
<rect x="73.5" y="74.50" width="14.6" height="0.55" fill="rgb(192,192,192)"/>
<rect x="73.5" y="75.00" width="14.6" height="0.55" fill="rgb(190,190,190)"/>
<rect x="73.5" y="75.50" width="14.6" height="0.55" fill="rgb(187,187,187)"/>
<rect x="73.5" y="76.00" width="14.6" height="0.55" fill="rgb(184,184,184)"/>
<rect x="73.5" y="76.50" width="14.6" height="0.55" fill="rgb(181,181,181)"/>
<rect x="73.5" y="77.00" width="14.6" height="0.55" fill="rgb(178,178,178)"/>
<rect x="73.5" y="77.50" width="14.6" height="0.55" fill="rgb(174,174,174)"/>
<rect x="73.5" y="78.00" width="14.6" height="0.55" fill="rgb(171,171,171)"/>
<rect x="73.5" y="78.50" width="14.6" height="0.55" fill="rgb(168,168,168)"/>
<rect x="73.5" y="79.00" width="14.6" height="0.55" fill="rgb(165,165,165)"/>
<rect x="73.5" y="79.50" width="14.6" height="0.55" fill="rgb(161,161,161)"/>
<rect x="73.5" y="80.00" width="14.6" height="0.55" fill="rgb(157,157,157)"/>
<rect x="73.5" y="80.50" width="14.6" height="0.55" fill="rgb(152,152,152)"/>
<rect x="73.5" y="81.00" width="14.6" height="0.55" fill="rgb(148,148,148)"/>
<rect x="73.5" y="81.50" width="14.6" height="0.55" fill="rgb(144,144,144)"/>
<rect x="73.5" y="82.00" width="14.6" height="0.55" fill="rgb(140,140,140)"/>
<rect x="73.5" y="82.50" width="14.6" height="0.55" fill="rgb(134,134,134)"/>
<rect x="73.5" y="83.00" width="14.6" height="0.55" fill="rgb(129,129,129)"/>
<rect x="73.5" y="83.50" width="14.6" height="0.55" fill="rgb(124,124,124)"/>
<rect x="73.5" y="84.00" width="14.6" height="0.55" fill="rgb(118,118,118)"/>
<rect x="73.5" y="84.50" width="14.6" height="0.55" fill="rgb(116,116,116)"/>
<rect x="73.5" y="85.00" width="14.6" height="0.55" fill="rgb(114,114,114)"/>
<rect x="73.5" y="85.50" width="14.6" height="0.55" fill="rgb(112,112,112)"/>
<rect x="73.5" y="86.00" width="14.6" height="0.55" fill="rgb(110,110,110)"/>
<rect x="73.5" y="86.50" width="14.6" height="0.55" fill="rgb(107,107,107)"/>
<rect x="73.5" y="87.00" width="14.6" height="0.55" fill="rgb(105,105,105)"/>
<rect x="73.5" y="87.50" width="14.6" height="0.55" fill="rgb(102,102,102)"/>
<rect x="73.5" y="88.00" width="14.6" height="0.55" fill="rgb(100,100,100)"/>
<rect x="73.5" y="88.50" width="14.6" height="0.55" fill="rgb(97,97,97)"/>
<rect x="73.5" y="89.00" width="14.6" height="0.55" fill="rgb(93,93,93)"/>
<rect x="73.5" y="89.50" width="14.6" height="0.55" fill="rgb(84,84,84)"/>
<rect x="73.5" y="90.00" width="14.6" height="0.55" fill="rgb(74,74,74)"/>
<rect x="73.5" y="90.50" width="14.6" height="0.55" fill="rgb(65,65,65)"/>
<rect x="73.5" y="91.00" width="14.6" height="0.55" fill="rgb(56,56,56)"/>
<rect x="73.5" y="91.50" width="14.6" height="0.55" fill="rgb(48,48,48)"/>
<rect x="73.5" y="92.00" width="14.6" height="0.55" fill="rgb(41,41,41)"/>
<rect x="73.5" y="92.50" width="14.6" height="0.55" fill="rgb(35,35,35)"/>
<rect x="73.5" y="93.00" width="14.6" height="0.55" fill="rgb(29,29,29)"/>
<rect x="73.5" y="93.50" width="14.6" height="0.55" fill="rgb(31,31,31)"/>
<rect x="73.5" y="94.00" width="14.6" height="0.55" fill="rgb(34,34,34)"/>
<rect x="73.5" y="94.50" width="14.6" height="0.55" fill="rgb(38,38,38)"/>
<rect x="73.5" y="95.00" width="14.6" height="0.55" fill="rgb(33,33,33)"/>
<rect x="73.5" y="95.50" width="14.6" height="0.55" fill="rgb(29,29,29)"/>
<rect x="73.5" y="96.00" width="14.6" height="0.55" fill="rgb(34,34,34)"/>
<rect x="73.5" y="96.50" width="14.6" height="0.55" fill="rgb(42,42,42)"/>
<rect x="73.5" y="97.00" width="14.6" height="0.55" fill="rgb(49,49,49)"/>
<rect x="73.5" y="97.50" width="14.6" height="0.55" fill="rgb(54,54,54)"/>
<rect x="73.5" y="98.00" width="14.6" height="0.55" fill="rgb(48,48,48)"/>
<rect x="73.5" y="98.50" width="14.6" height="0.55" fill="rgb(43,43,43)"/>
<rect x="73.5" y="99.00" width="14.6" height="0.55" fill="rgb(38,38,38)"/>
<rect x="73.5" y="99.50" width="14.6" height="0.55" fill="rgb(40,40,40)"/>
<rect x="73.5" y="100.00" width="14.6" height="0.55" fill="rgb(41,41,41)"/>
<rect x="73.5" y="100.50" width="14.6" height="0.55" fill="rgb(35,35,35)"/>
<rect x="73.5" y="101.00" width="14.6" height="0.55" fill="rgb(30,30,30)"/>
<rect x="73.5" y="101.50" width="14.6" height="0.55" fill="rgb(28,28,28)"/>
<rect x="73.5" y="102.00" width="14.6" height="0.55" fill="rgb(27,27,27)"/>
<rect x="73.5" y="102.50" width="14.6" height="0.55" fill="rgb(25,25,25)"/>
<rect x="73.5" y="103.00" width="14.6" height="0.55" fill="rgb(24,24,24)"/>
<rect x="73.5" y="103.50" width="14.6" height="0.55" fill="rgb(27,27,27)"/>
<rect x="73.5" y="104.00" width="14.6" height="0.55" fill="rgb(29,29,29)"/>
<rect x="73.5" y="104.50" width="14.6" height="0.55" fill="rgb(31,31,31)"/>
<rect x="73.5" y="105.00" width="14.6" height="0.55" fill="rgb(66,66,66)"/>
<rect x="73.5" y="105.50" width="14.6" height="0.55" fill="rgb(101,101,101)"/>
<rect x="73.5" y="106.00" width="14.6" height="0.55" fill="rgb(102,102,102)"/>
<rect x="73.5" y="106.50" width="14.6" height="0.55" fill="rgb(104,104,104)"/>
<rect x="73.5" y="107.00" width="14.6" height="0.55" fill="rgb(105,105,105)"/>
<rect x="73.5" y="107.50" width="14.6" height="0.55" fill="rgb(107,107,107)"/>
<rect x="73.5" y="108.00" width="14.6" height="0.55" fill="rgb(108,108,108)"/>
<rect x="73.5" y="108.50" width="14.6" height="0.55" fill="rgb(106,106,106)"/>
<rect x="73.5" y="109.00" width="14.6" height="0.55" fill="rgb(104,104,104)"/>
<rect x="73.5" y="109.50" width="14.6" height="0.55" fill="rgb(103,103,103)"/>
<rect x="73.5" y="110.00" width="14.6" height="0.55" fill="rgb(101,101,101)"/>
<rect x="73.5" y="110.50" width="14.6" height="0.55" fill="rgb(87,87,87)"/>
<rect x="73.5" y="111.00" width="14.6" height="0.55" fill="rgb(64,64,64)"/>
<rect x="73.5" y="111.50" width="14.6" height="0.55" fill="rgb(52,52,52)"/>
<rect x="73.5" y="112.00" width="14.6" height="0.55" fill="rgb(47,47,47)"/>
<rect x="73.5" y="112.50" width="14.6" height="0.55" fill="rgb(42,42,42)"/>
<rect x="73.5" y="113.00" width="14.6" height="0.55" fill="rgb(44,44,44)"/>
<rect x="73.5" y="113.50" width="14.6" height="0.55" fill="rgb(51,51,51)"/>
<rect x="73.5" y="114.00" width="14.6" height="0.55" fill="rgb(57,57,57)"/>
<rect x="73.5" y="114.50" width="14.6" height="0.55" fill="rgb(78,78,78)"/>
<rect x="73.5" y="115.00" width="14.6" height="0.55" fill="rgb(108,108,108)"/>
<rect x="73.5" y="115.50" width="14.6" height="0.55" fill="rgb(109,109,109)"/>
<rect x="73.5" y="116.00" width="14.6" height="0.55" fill="rgb(110,110,110)"/>
<rect x="73.5" y="116.50" width="14.6" height="0.55" fill="rgb(111,111,111)"/>
<rect x="73.5" y="117.00" width="14.6" height="0.55" fill="rgb(112,112,112)"/>
<rect x="73.5" y="117.50" width="14.6" height="0.55" fill="rgb(100,100,100)"/>
<rect x="73.5" y="118.00" width="14.6" height="0.55" fill="rgb(89,89,89)"/>
<rect x="73.5" y="118.50" width="14.6" height="0.55" fill="rgb(77,77,77)"/>
<rect x="73.5" y="119.00" width="14.6" height="0.55" fill="rgb(64,64,64)"/>
<rect x="73.5" y="119.50" width="14.6" height="0.55" fill="rgb(51,51,51)"/>
<rect x="73.5" y="120.00" width="14.6" height="0.55" fill="rgb(65,65,65)"/>
<rect x="73.5" y="120.50" width="14.6" height="0.55" fill="rgb(86,86,86)"/>
<rect x="73.5" y="121.00" width="14.6" height="0.55" fill="rgb(98,98,98)"/>
<rect x="73.5" y="121.50" width="14.6" height="0.55" fill="rgb(109,109,109)"/>
<rect x="73.5" y="122.00" width="14.6" height="0.55" fill="rgb(119,119,119)"/>
<rect x="73.5" y="122.50" width="14.6" height="0.55" fill="rgb(130,130,130)"/>
<rect x="73.5" y="123.00" width="14.6" height="0.55" fill="rgb(120,120,120)"/>
<rect x="73.5" y="123.50" width="14.6" height="0.55" fill="rgb(110,110,110)"/>
<rect x="73.5" y="124.00" width="14.6" height="0.55" fill="rgb(116,116,116)"/>
<rect x="73.5" y="124.50" width="14.6" height="0.55" fill="rgb(126,126,126)"/>
<rect x="73.5" y="125.00" width="14.6" height="0.55" fill="rgb(135,135,135)"/>
<rect x="73.5" y="125.50" width="14.6" height="0.55" fill="rgb(145,145,145)"/>
<rect x="73.5" y="126.00" width="14.6" height="0.55" fill="rgb(147,147,147)"/>
<rect x="73.5" y="126.50" width="14.6" height="0.55" fill="rgb(148,148,148)"/>
<rect x="73.5" y="127.00" width="14.6" height="0.55" fill="rgb(150,150,150)"/>
<rect x="73.5" y="127.50" width="14.6" height="0.55" fill="rgb(152,152,152)"/>
<rect x="73.5" y="128.00" width="14.6" height="0.55" fill="rgb(153,153,153)"/>
<rect x="73.5" y="128.50" width="14.6" height="0.55" fill="rgb(155,155,155)"/>
<rect x="73.5" y="129.00" width="14.6" height="0.55" fill="rgb(157,157,157)"/>
<rect x="73.5" y="129.50" width="14.6" height="0.55" fill="rgb(158,158,158)"/>
<rect x="73.5" y="130.00" width="14.6" height="0.55" fill="rgb(160,160,160)"/>
<rect x="73.5" y="130.50" width="14.6" height="0.55" fill="rgb(161,161,161)"/>
<rect x="73.5" y="131.00" width="14.6" height="0.55" fill="rgb(163,163,163)"/>
<rect x="73.5" y="131.50" width="14.6" height="0.55" fill="rgb(164,164,164)"/>
<rect x="73.5" y="132.00" width="14.6" height="0.55" fill="rgb(165,165,165)"/>
<rect x="73.5" y="132.50" width="14.6" height="0.55" fill="rgb(167,167,167)"/>
</g>
<g filter="url(#bls)">
<rect x="110.2" y="63.00" width="14.2" height="0.55" fill="rgb(228,228,228)"/>
<rect x="110.2" y="63.50" width="14.2" height="0.55" fill="rgb(227,227,227)"/>
<rect x="110.2" y="64.00" width="14.2" height="0.55" fill="rgb(226,226,226)"/>
<rect x="110.2" y="64.50" width="14.2" height="0.55" fill="rgb(225,225,225)"/>
<rect x="110.2" y="65.00" width="14.2" height="0.55" fill="rgb(224,224,224)"/>
<rect x="110.2" y="65.50" width="14.2" height="0.55" fill="rgb(223,223,223)"/>
<rect x="110.2" y="66.00" width="14.2" height="0.55" fill="rgb(222,222,222)"/>
<rect x="110.2" y="66.50" width="14.2" height="0.55" fill="rgb(220,220,220)"/>
<rect x="110.2" y="67.00" width="14.2" height="0.55" fill="rgb(219,219,219)"/>
<rect x="110.2" y="67.50" width="14.2" height="0.55" fill="rgb(218,218,218)"/>
<rect x="110.2" y="68.00" width="14.2" height="0.55" fill="rgb(217,217,217)"/>
<rect x="110.2" y="68.50" width="14.2" height="0.55" fill="rgb(216,216,216)"/>
<rect x="110.2" y="69.00" width="14.2" height="0.55" fill="rgb(215,215,215)"/>
<rect x="110.2" y="69.50" width="14.2" height="0.55" fill="rgb(214,214,214)"/>
<rect x="110.2" y="70.00" width="14.2" height="0.55" fill="rgb(213,213,213)"/>
<rect x="110.2" y="70.50" width="14.2" height="0.55" fill="rgb(212,212,212)"/>
<rect x="110.2" y="71.00" width="14.2" height="0.55" fill="rgb(211,211,211)"/>
<rect x="110.2" y="71.50" width="14.2" height="0.55" fill="rgb(210,210,210)"/>
<rect x="110.2" y="72.00" width="14.2" height="0.55" fill="rgb(209,209,209)"/>
<rect x="110.2" y="72.50" width="14.2" height="0.55" fill="rgb(207,207,207)"/>
<rect x="110.2" y="73.00" width="14.2" height="0.55" fill="rgb(205,205,205)"/>
<rect x="110.2" y="73.50" width="14.2" height="0.55" fill="rgb(202,202,202)"/>
<rect x="110.2" y="74.00" width="14.2" height="0.55" fill="rgb(200,200,200)"/>
<rect x="110.2" y="74.50" width="14.2" height="0.55" fill="rgb(197,197,197)"/>
<rect x="110.2" y="75.00" width="14.2" height="0.55" fill="rgb(195,195,195)"/>
<rect x="110.2" y="75.50" width="14.2" height="0.55" fill="rgb(192,192,192)"/>
<rect x="110.2" y="76.00" width="14.2" height="0.55" fill="rgb(190,190,190)"/>
<rect x="110.2" y="76.50" width="14.2" height="0.55" fill="rgb(187,187,187)"/>
<rect x="110.2" y="77.00" width="14.2" height="0.55" fill="rgb(185,185,185)"/>
<rect x="110.2" y="77.50" width="14.2" height="0.55" fill="rgb(182,182,182)"/>
<rect x="110.2" y="78.00" width="14.2" height="0.55" fill="rgb(180,180,180)"/>
<rect x="110.2" y="78.50" width="14.2" height="0.55" fill="rgb(177,177,177)"/>
<rect x="110.2" y="79.00" width="14.2" height="0.55" fill="rgb(173,173,173)"/>
<rect x="110.2" y="79.50" width="14.2" height="0.55" fill="rgb(170,170,170)"/>
<rect x="110.2" y="80.00" width="14.2" height="0.55" fill="rgb(167,167,167)"/>
<rect x="110.2" y="80.50" width="14.2" height="0.55" fill="rgb(163,163,163)"/>
<rect x="110.2" y="81.00" width="14.2" height="0.55" fill="rgb(160,160,160)"/>
<rect x="110.2" y="81.50" width="14.2" height="0.55" fill="rgb(157,157,157)"/>
<rect x="110.2" y="82.00" width="14.2" height="0.55" fill="rgb(153,153,153)"/>
<rect x="110.2" y="82.50" width="14.2" height="0.55" fill="rgb(150,150,150)"/>
<rect x="110.2" y="83.00" width="14.2" height="0.55" fill="rgb(147,147,147)"/>
<rect x="110.2" y="83.50" width="14.2" height="0.55" fill="rgb(143,143,143)"/>
<rect x="110.2" y="84.00" width="14.2" height="0.55" fill="rgb(140,140,140)"/>
<rect x="110.2" y="84.50" width="14.2" height="0.55" fill="rgb(138,138,138)"/>
<rect x="110.2" y="85.00" width="14.2" height="0.55" fill="rgb(136,136,136)"/>
<rect x="110.2" y="85.50" width="14.2" height="0.55" fill="rgb(134,134,134)"/>
<rect x="110.2" y="86.00" width="14.2" height="0.55" fill="rgb(132,132,132)"/>
<rect x="110.2" y="86.50" width="14.2" height="0.55" fill="rgb(131,131,131)"/>
<rect x="110.2" y="87.00" width="14.2" height="0.55" fill="rgb(129,129,129)"/>
<rect x="110.2" y="87.50" width="14.2" height="0.55" fill="rgb(127,127,127)"/>
<rect x="110.2" y="88.00" width="14.2" height="0.55" fill="rgb(125,125,125)"/>
<rect x="110.2" y="88.50" width="14.2" height="0.55" fill="rgb(122,122,122)"/>
<rect x="110.2" y="89.00" width="14.2" height="0.55" fill="rgb(119,119,119)"/>
<rect x="110.2" y="89.50" width="14.2" height="0.55" fill="rgb(116,116,116)"/>
<rect x="110.2" y="90.00" width="14.2" height="0.55" fill="rgb(113,113,113)"/>
<rect x="110.2" y="90.50" width="14.2" height="0.55" fill="rgb(110,110,110)"/>
<rect x="110.2" y="91.00" width="14.2" height="0.55" fill="rgb(107,107,107)"/>
<rect x="110.2" y="91.50" width="14.2" height="0.55" fill="rgb(99,99,99)"/>
<rect x="110.2" y="92.00" width="14.2" height="0.55" fill="rgb(85,85,85)"/>
<rect x="110.2" y="92.50" width="14.2" height="0.55" fill="rgb(70,70,70)"/>
<rect x="110.2" y="93.00" width="14.2" height="0.55" fill="rgb(67,67,67)"/>
<rect x="110.2" y="93.50" width="14.2" height="0.55" fill="rgb(64,64,64)"/>
<rect x="110.2" y="94.00" width="14.2" height="0.55" fill="rgb(61,61,61)"/>
<rect x="110.2" y="94.50" width="14.2" height="0.55" fill="rgb(58,58,58)"/>
<rect x="110.2" y="95.00" width="14.2" height="0.55" fill="rgb(55,55,55)"/>
<rect x="110.2" y="95.50" width="14.2" height="0.55" fill="rgb(58,58,58)"/>
<rect x="110.2" y="96.00" width="14.2" height="0.55" fill="rgb(61,61,61)"/>
<rect x="110.2" y="96.50" width="14.2" height="0.55" fill="rgb(64,64,64)"/>
<rect x="110.2" y="97.00" width="14.2" height="0.55" fill="rgb(67,67,67)"/>
<rect x="110.2" y="97.50" width="14.2" height="0.55" fill="rgb(74,74,74)"/>
<rect x="110.2" y="98.00" width="14.2" height="0.55" fill="rgb(92,92,92)"/>
<rect x="110.2" y="98.50" width="14.2" height="0.55" fill="rgb(110,110,110)"/>
<rect x="110.2" y="99.00" width="14.2" height="0.55" fill="rgb(128,128,128)"/>
<rect x="110.2" y="99.50" width="14.2" height="0.55" fill="rgb(127,127,127)"/>
<rect x="110.2" y="100.00" width="14.2" height="0.55" fill="rgb(126,126,126)"/>
<rect x="110.2" y="100.50" width="14.2" height="0.55" fill="rgb(126,126,126)"/>
<rect x="110.2" y="101.00" width="14.2" height="0.55" fill="rgb(125,125,125)"/>
<rect x="110.2" y="101.50" width="14.2" height="0.55" fill="rgb(93,93,93)"/>
<rect x="110.2" y="102.00" width="14.2" height="0.55" fill="rgb(73,73,73)"/>
<rect x="110.2" y="102.50" width="14.2" height="0.55" fill="rgb(61,61,61)"/>
<rect x="110.2" y="103.00" width="14.2" height="0.55" fill="rgb(49,49,49)"/>
<rect x="110.2" y="103.50" width="14.2" height="0.55" fill="rgb(46,46,46)"/>
<rect x="110.2" y="104.00" width="14.2" height="0.55" fill="rgb(56,56,56)"/>
<rect x="110.2" y="104.50" width="14.2" height="0.55" fill="rgb(66,66,66)"/>
<rect x="110.2" y="105.00" width="14.2" height="0.55" fill="rgb(94,94,94)"/>
<rect x="110.2" y="105.50" width="14.2" height="0.55" fill="rgb(135,135,135)"/>
<rect x="110.2" y="106.00" width="14.2" height="0.55" fill="rgb(136,136,136)"/>
<rect x="110.2" y="106.50" width="14.2" height="0.55" fill="rgb(136,136,136)"/>
<rect x="110.2" y="107.00" width="14.2" height="0.55" fill="rgb(137,137,137)"/>
<rect x="110.2" y="107.50" width="14.2" height="0.55" fill="rgb(137,137,137)"/>
<rect x="110.2" y="108.00" width="14.2" height="0.55" fill="rgb(138,138,138)"/>
<rect x="110.2" y="108.50" width="14.2" height="0.55" fill="rgb(136,136,136)"/>
<rect x="110.2" y="109.00" width="14.2" height="0.55" fill="rgb(133,133,133)"/>
<rect x="110.2" y="109.50" width="14.2" height="0.55" fill="rgb(131,131,131)"/>
<rect x="110.2" y="110.00" width="14.2" height="0.55" fill="rgb(129,129,129)"/>
<rect x="110.2" y="110.50" width="14.2" height="0.55" fill="rgb(126,126,126)"/>
<rect x="110.2" y="111.00" width="14.2" height="0.55" fill="rgb(124,124,124)"/>
<rect x="110.2" y="111.50" width="14.2" height="0.55" fill="rgb(121,121,121)"/>
<rect x="110.2" y="112.00" width="14.2" height="0.55" fill="rgb(118,118,118)"/>
<rect x="110.2" y="112.50" width="14.2" height="0.55" fill="rgb(121,121,121)"/>
<rect x="110.2" y="113.00" width="14.2" height="0.55" fill="rgb(125,125,125)"/>
<rect x="110.2" y="113.50" width="14.2" height="0.55" fill="rgb(128,128,128)"/>
<rect x="110.2" y="114.00" width="14.2" height="0.55" fill="rgb(132,132,132)"/>
<rect x="110.2" y="114.50" width="14.2" height="0.55" fill="rgb(135,135,135)"/>
<rect x="110.2" y="115.00" width="14.2" height="0.55" fill="rgb(137,137,137)"/>
<rect x="110.2" y="115.50" width="14.2" height="0.55" fill="rgb(139,139,139)"/>
<rect x="110.2" y="116.00" width="14.2" height="0.55" fill="rgb(141,141,141)"/>
<rect x="110.2" y="116.50" width="14.2" height="0.55" fill="rgb(144,144,144)"/>
<rect x="110.2" y="117.00" width="14.2" height="0.55" fill="rgb(146,146,146)"/>
<rect x="110.2" y="117.50" width="14.2" height="0.55" fill="rgb(148,148,148)"/>
<rect x="110.2" y="118.00" width="14.2" height="0.55" fill="rgb(150,150,150)"/>
<rect x="110.2" y="118.50" width="14.2" height="0.55" fill="rgb(151,151,151)"/>
<rect x="110.2" y="119.00" width="14.2" height="0.55" fill="rgb(151,151,151)"/>
<rect x="110.2" y="119.50" width="14.2" height="0.55" fill="rgb(152,152,152)"/>
<rect x="110.2" y="120.00" width="14.2" height="0.55" fill="rgb(152,152,152)"/>
<rect x="110.2" y="120.50" width="14.2" height="0.55" fill="rgb(153,153,153)"/>
<rect x="110.2" y="121.00" width="14.2" height="0.55" fill="rgb(154,154,154)"/>
<rect x="110.2" y="121.50" width="14.2" height="0.55" fill="rgb(154,154,154)"/>
<rect x="110.2" y="122.00" width="14.2" height="0.55" fill="rgb(155,155,155)"/>
<rect x="110.2" y="122.50" width="14.2" height="0.55" fill="rgb(156,156,156)"/>
<rect x="110.2" y="123.00" width="14.2" height="0.55" fill="rgb(158,158,158)"/>
<rect x="110.2" y="123.50" width="14.2" height="0.55" fill="rgb(159,159,159)"/>
<rect x="110.2" y="124.00" width="14.2" height="0.55" fill="rgb(160,160,160)"/>
<rect x="110.2" y="124.50" width="14.2" height="0.55" fill="rgb(161,161,161)"/>
<rect x="110.2" y="125.00" width="14.2" height="0.55" fill="rgb(162,162,162)"/>
<rect x="110.2" y="125.50" width="14.2" height="0.55" fill="rgb(164,164,164)"/>
<rect x="110.2" y="126.00" width="14.2" height="0.55" fill="rgb(165,165,165)"/>
<rect x="110.2" y="126.50" width="14.2" height="0.55" fill="rgb(166,166,166)"/>
<rect x="110.2" y="127.00" width="14.2" height="0.55" fill="rgb(167,167,167)"/>
<rect x="110.2" y="127.50" width="14.2" height="0.55" fill="rgb(168,168,168)"/>
<rect x="110.2" y="128.00" width="14.2" height="0.55" fill="rgb(169,169,169)"/>
<rect x="110.2" y="128.50" width="14.2" height="0.55" fill="rgb(170,170,170)"/>
<rect x="110.2" y="129.00" width="14.2" height="0.55" fill="rgb(171,171,171)"/>
<rect x="110.2" y="129.50" width="14.2" height="0.55" fill="rgb(172,172,172)"/>
<rect x="110.2" y="130.00" width="14.2" height="0.55" fill="rgb(172,172,172)"/>
<rect x="110.2" y="130.50" width="14.2" height="0.55" fill="rgb(173,173,173)"/>
<rect x="110.2" y="131.00" width="14.2" height="0.55" fill="rgb(174,174,174)"/>
<rect x="110.2" y="131.50" width="14.2" height="0.55" fill="rgb(175,175,175)"/>
<rect x="110.2" y="132.00" width="14.2" height="0.55" fill="rgb(176,176,176)"/>
<rect x="110.2" y="132.50" width="14.2" height="0.55" fill="rgb(177,177,177)"/>
</g>
<g filter="url(#bls)">
<rect x="146.2" y="63.00" width="14.2" height="0.55" fill="rgb(229,229,229)"/>
<rect x="146.2" y="63.50" width="14.2" height="0.55" fill="rgb(228,228,228)"/>
<rect x="146.2" y="64.00" width="14.2" height="0.55" fill="rgb(228,228,228)"/>
<rect x="146.2" y="64.50" width="14.2" height="0.55" fill="rgb(227,227,227)"/>
<rect x="146.2" y="65.00" width="14.2" height="0.55" fill="rgb(226,226,226)"/>
<rect x="146.2" y="65.50" width="14.2" height="0.55" fill="rgb(226,226,226)"/>
<rect x="146.2" y="66.00" width="14.2" height="0.55" fill="rgb(225,225,225)"/>
<rect x="146.2" y="66.50" width="14.2" height="0.55" fill="rgb(225,225,225)"/>
<rect x="146.2" y="67.00" width="14.2" height="0.55" fill="rgb(224,224,224)"/>
<rect x="146.2" y="67.50" width="14.2" height="0.55" fill="rgb(223,223,223)"/>
<rect x="146.2" y="68.00" width="14.2" height="0.55" fill="rgb(223,223,223)"/>
<rect x="146.2" y="68.50" width="14.2" height="0.55" fill="rgb(222,222,222)"/>
<rect x="146.2" y="69.00" width="14.2" height="0.55" fill="rgb(221,221,221)"/>
<rect x="146.2" y="69.50" width="14.2" height="0.55" fill="rgb(221,221,221)"/>
<rect x="146.2" y="70.00" width="14.2" height="0.55" fill="rgb(220,220,220)"/>
<rect x="146.2" y="70.50" width="14.2" height="0.55" fill="rgb(219,219,219)"/>
<rect x="146.2" y="71.00" width="14.2" height="0.55" fill="rgb(219,219,219)"/>
<rect x="146.2" y="71.50" width="14.2" height="0.55" fill="rgb(218,218,218)"/>
<rect x="146.2" y="72.00" width="14.2" height="0.55" fill="rgb(218,218,218)"/>
<rect x="146.2" y="72.50" width="14.2" height="0.55" fill="rgb(217,217,217)"/>
<rect x="146.2" y="73.00" width="14.2" height="0.55" fill="rgb(216,216,216)"/>
<rect x="146.2" y="73.50" width="14.2" height="0.55" fill="rgb(216,216,216)"/>
<rect x="146.2" y="74.00" width="14.2" height="0.55" fill="rgb(215,215,215)"/>
<rect x="146.2" y="74.50" width="14.2" height="0.55" fill="rgb(213,213,213)"/>
<rect x="146.2" y="75.00" width="14.2" height="0.55" fill="rgb(211,211,211)"/>
<rect x="146.2" y="75.50" width="14.2" height="0.55" fill="rgb(209,209,209)"/>
<rect x="146.2" y="76.00" width="14.2" height="0.55" fill="rgb(207,207,207)"/>
<rect x="146.2" y="76.50" width="14.2" height="0.55" fill="rgb(205,205,205)"/>
<rect x="146.2" y="77.00" width="14.2" height="0.55" fill="rgb(203,203,203)"/>
<rect x="146.2" y="77.50" width="14.2" height="0.55" fill="rgb(201,201,201)"/>
<rect x="146.2" y="78.00" width="14.2" height="0.55" fill="rgb(199,199,199)"/>
<rect x="146.2" y="78.50" width="14.2" height="0.55" fill="rgb(197,197,197)"/>
<rect x="146.2" y="79.00" width="14.2" height="0.55" fill="rgb(195,195,195)"/>
<rect x="146.2" y="79.50" width="14.2" height="0.55" fill="rgb(192,192,192)"/>
<rect x="146.2" y="80.00" width="14.2" height="0.55" fill="rgb(188,188,188)"/>
<rect x="146.2" y="80.50" width="14.2" height="0.55" fill="rgb(184,184,184)"/>
<rect x="146.2" y="81.00" width="14.2" height="0.55" fill="rgb(181,181,181)"/>
<rect x="146.2" y="81.50" width="14.2" height="0.55" fill="rgb(178,178,178)"/>
<rect x="146.2" y="82.00" width="14.2" height="0.55" fill="rgb(174,174,174)"/>
<rect x="146.2" y="82.50" width="14.2" height="0.55" fill="rgb(170,170,170)"/>
<rect x="146.2" y="83.00" width="14.2" height="0.55" fill="rgb(167,167,167)"/>
<rect x="146.2" y="83.50" width="14.2" height="0.55" fill="rgb(164,164,164)"/>
<rect x="146.2" y="84.00" width="14.2" height="0.55" fill="rgb(160,160,160)"/>
<rect x="146.2" y="84.50" width="14.2" height="0.55" fill="rgb(158,158,158)"/>
<rect x="146.2" y="85.00" width="14.2" height="0.55" fill="rgb(155,155,155)"/>
<rect x="146.2" y="85.50" width="14.2" height="0.55" fill="rgb(152,152,152)"/>
<rect x="146.2" y="86.00" width="14.2" height="0.55" fill="rgb(150,150,150)"/>
<rect x="146.2" y="86.50" width="14.2" height="0.55" fill="rgb(148,148,148)"/>
<rect x="146.2" y="87.00" width="14.2" height="0.55" fill="rgb(145,145,145)"/>
<rect x="146.2" y="87.50" width="14.2" height="0.55" fill="rgb(142,142,142)"/>
<rect x="146.2" y="88.00" width="14.2" height="0.55" fill="rgb(140,140,140)"/>
<rect x="146.2" y="88.50" width="14.2" height="0.55" fill="rgb(138,138,138)"/>
<rect x="146.2" y="89.00" width="14.2" height="0.55" fill="rgb(136,136,136)"/>
<rect x="146.2" y="89.50" width="14.2" height="0.55" fill="rgb(134,134,134)"/>
<rect x="146.2" y="90.00" width="14.2" height="0.55" fill="rgb(132,132,132)"/>
<rect x="146.2" y="90.50" width="14.2" height="0.55" fill="rgb(131,131,131)"/>
<rect x="146.2" y="91.00" width="14.2" height="0.55" fill="rgb(129,129,129)"/>
<rect x="146.2" y="91.50" width="14.2" height="0.55" fill="rgb(127,127,127)"/>
<rect x="146.2" y="92.00" width="14.2" height="0.55" fill="rgb(125,125,125)"/>
<rect x="146.2" y="92.50" width="14.2" height="0.55" fill="rgb(123,123,123)"/>
<rect x="146.2" y="93.00" width="14.2" height="0.55" fill="rgb(121,121,121)"/>
<rect x="146.2" y="93.50" width="14.2" height="0.55" fill="rgb(119,119,119)"/>
<rect x="146.2" y="94.00" width="14.2" height="0.55" fill="rgb(116,116,116)"/>
<rect x="146.2" y="94.50" width="14.2" height="0.55" fill="rgb(114,114,114)"/>
<rect x="146.2" y="95.00" width="14.2" height="0.55" fill="rgb(112,112,112)"/>
<rect x="146.2" y="95.50" width="14.2" height="0.55" fill="rgb(110,110,110)"/>
<rect x="146.2" y="96.00" width="14.2" height="0.55" fill="rgb(94,94,94)"/>
<rect x="146.2" y="96.50" width="14.2" height="0.55" fill="rgb(80,80,80)"/>
<rect x="146.2" y="97.00" width="14.2" height="0.55" fill="rgb(66,66,66)"/>
<rect x="146.2" y="97.50" width="14.2" height="0.55" fill="rgb(53,53,53)"/>
<rect x="146.2" y="98.00" width="14.2" height="0.55" fill="rgb(40,40,40)"/>
<rect x="146.2" y="98.50" width="14.2" height="0.55" fill="rgb(47,47,47)"/>
<rect x="146.2" y="99.00" width="14.2" height="0.55" fill="rgb(55,55,55)"/>
<rect x="146.2" y="99.50" width="14.2" height="0.55" fill="rgb(62,62,62)"/>
<rect x="146.2" y="100.00" width="14.2" height="0.55" fill="rgb(76,76,76)"/>
<rect x="146.2" y="100.50" width="14.2" height="0.55" fill="rgb(95,95,95)"/>
<rect x="146.2" y="101.00" width="14.2" height="0.55" fill="rgb(80,80,80)"/>
<rect x="146.2" y="101.50" width="14.2" height="0.55" fill="rgb(64,64,64)"/>
<rect x="146.2" y="102.00" width="14.2" height="0.55" fill="rgb(51,51,51)"/>
<rect x="146.2" y="102.50" width="14.2" height="0.55" fill="rgb(41,41,41)"/>
<rect x="146.2" y="103.00" width="14.2" height="0.55" fill="rgb(32,32,32)"/>
<rect x="146.2" y="103.50" width="14.2" height="0.55" fill="rgb(22,22,22)"/>
<rect x="146.2" y="104.00" width="14.2" height="0.55" fill="rgb(32,32,32)"/>
<rect x="146.2" y="104.50" width="14.2" height="0.55" fill="rgb(43,43,43)"/>
<rect x="146.2" y="105.00" width="14.2" height="0.55" fill="rgb(53,53,53)"/>
<rect x="146.2" y="105.50" width="14.2" height="0.55" fill="rgb(92,92,92)"/>
<rect x="146.2" y="106.00" width="14.2" height="0.55" fill="rgb(120,120,120)"/>
<rect x="146.2" y="106.50" width="14.2" height="0.55" fill="rgb(121,121,121)"/>
<rect x="146.2" y="107.00" width="14.2" height="0.55" fill="rgb(122,122,122)"/>
<rect x="146.2" y="107.50" width="14.2" height="0.55" fill="rgb(123,123,123)"/>
<rect x="146.2" y="108.00" width="14.2" height="0.55" fill="rgb(124,124,124)"/>
<rect x="146.2" y="108.50" width="14.2" height="0.55" fill="rgb(125,125,125)"/>
<rect x="146.2" y="109.00" width="14.2" height="0.55" fill="rgb(126,126,126)"/>
<rect x="146.2" y="109.50" width="14.2" height="0.55" fill="rgb(127,127,127)"/>
<rect x="146.2" y="110.00" width="14.2" height="0.55" fill="rgb(128,128,128)"/>
<rect x="146.2" y="110.50" width="14.2" height="0.55" fill="rgb(125,125,125)"/>
<rect x="146.2" y="111.00" width="14.2" height="0.55" fill="rgb(122,122,122)"/>
<rect x="146.2" y="111.50" width="14.2" height="0.55" fill="rgb(118,118,118)"/>
<rect x="146.2" y="112.00" width="14.2" height="0.55" fill="rgb(115,115,115)"/>
<rect x="146.2" y="112.50" width="14.2" height="0.55" fill="rgb(105,105,105)"/>
<rect x="146.2" y="113.00" width="14.2" height="0.55" fill="rgb(95,95,95)"/>
<rect x="146.2" y="113.50" width="14.2" height="0.55" fill="rgb(106,106,106)"/>
<rect x="146.2" y="114.00" width="14.2" height="0.55" fill="rgb(118,118,118)"/>
<rect x="146.2" y="114.50" width="14.2" height="0.55" fill="rgb(121,121,121)"/>
<rect x="146.2" y="115.00" width="14.2" height="0.55" fill="rgb(124,124,124)"/>
<rect x="146.2" y="115.50" width="14.2" height="0.55" fill="rgb(127,127,127)"/>
<rect x="146.2" y="116.00" width="14.2" height="0.55" fill="rgb(130,130,130)"/>
<rect x="146.2" y="116.50" width="14.2" height="0.55" fill="rgb(122,122,122)"/>
<rect x="146.2" y="117.00" width="14.2" height="0.55" fill="rgb(115,115,115)"/>
<rect x="146.2" y="117.50" width="14.2" height="0.55" fill="rgb(108,108,108)"/>
<rect x="146.2" y="118.00" width="14.2" height="0.55" fill="rgb(100,100,100)"/>
<rect x="146.2" y="118.50" width="14.2" height="0.55" fill="rgb(90,90,90)"/>
<rect x="146.2" y="119.00" width="14.2" height="0.55" fill="rgb(80,80,80)"/>
<rect x="146.2" y="119.50" width="14.2" height="0.55" fill="rgb(91,91,91)"/>
<rect x="146.2" y="120.00" width="14.2" height="0.55" fill="rgb(101,101,101)"/>
<rect x="146.2" y="120.50" width="14.2" height="0.55" fill="rgb(111,111,111)"/>
<rect x="146.2" y="121.00" width="14.2" height="0.55" fill="rgb(117,117,117)"/>
<rect x="146.2" y="121.50" width="14.2" height="0.55" fill="rgb(124,124,124)"/>
<rect x="146.2" y="122.00" width="14.2" height="0.55" fill="rgb(130,130,130)"/>
<rect x="146.2" y="122.50" width="14.2" height="0.55" fill="rgb(127,127,127)"/>
<rect x="146.2" y="123.00" width="14.2" height="0.55" fill="rgb(124,124,124)"/>
<rect x="146.2" y="123.50" width="14.2" height="0.55" fill="rgb(120,120,120)"/>
<rect x="146.2" y="124.00" width="14.2" height="0.55" fill="rgb(117,117,117)"/>
<rect x="146.2" y="124.50" width="14.2" height="0.55" fill="rgb(114,114,114)"/>
<rect x="146.2" y="125.00" width="14.2" height="0.55" fill="rgb(111,111,111)"/>
<rect x="146.2" y="125.50" width="14.2" height="0.55" fill="rgb(109,109,109)"/>
<rect x="146.2" y="126.00" width="14.2" height="0.55" fill="rgb(117,117,117)"/>
<rect x="146.2" y="126.50" width="14.2" height="0.55" fill="rgb(124,124,124)"/>
<rect x="146.2" y="127.00" width="14.2" height="0.55" fill="rgb(132,132,132)"/>
<rect x="146.2" y="127.50" width="14.2" height="0.55" fill="rgb(129,129,129)"/>
<rect x="146.2" y="128.00" width="14.2" height="0.55" fill="rgb(125,125,125)"/>
<rect x="146.2" y="128.50" width="14.2" height="0.55" fill="rgb(122,122,122)"/>
<rect x="146.2" y="129.00" width="14.2" height="0.55" fill="rgb(118,118,118)"/>
<rect x="146.2" y="129.50" width="14.2" height="0.55" fill="rgb(115,115,115)"/>
<rect x="146.2" y="130.00" width="14.2" height="0.55" fill="rgb(125,125,125)"/>
<rect x="146.2" y="130.50" width="14.2" height="0.55" fill="rgb(135,135,135)"/>
<rect x="146.2" y="131.00" width="14.2" height="0.55" fill="rgb(145,145,145)"/>
<rect x="146.2" y="131.50" width="14.2" height="0.55" fill="rgb(149,149,149)"/>
<rect x="146.2" y="132.00" width="14.2" height="0.55" fill="rgb(152,152,152)"/>
<rect x="146.2" y="132.50" width="14.2" height="0.55" fill="rgb(156,156,156)"/>
</g>
<g filter="url(#bls)">
<rect x="3.1" y="133.00" width="13.5" height="1.05" fill="rgb(200,200,200)"/>
<rect x="3.1" y="134.00" width="13.5" height="1.05" fill="rgb(200,200,200)"/>
<rect x="3.1" y="135.00" width="13.5" height="1.05" fill="rgb(201,201,201)"/>
<rect x="3.1" y="136.00" width="13.5" height="1.05" fill="rgb(201,201,201)"/>
<rect x="3.1" y="137.00" width="13.5" height="1.05" fill="rgb(202,202,202)"/>
<rect x="3.1" y="138.00" width="13.5" height="1.05" fill="rgb(202,202,202)"/>
<rect x="3.1" y="139.00" width="13.5" height="1.05" fill="rgb(202,202,202)"/>
<rect x="3.1" y="140.00" width="13.5" height="1.05" fill="rgb(203,203,203)"/>
<rect x="3.1" y="141.00" width="13.5" height="1.05" fill="rgb(203,203,203)"/>
<rect x="3.1" y="142.00" width="13.5" height="1.05" fill="rgb(204,204,204)"/>
<rect x="3.1" y="143.00" width="13.5" height="1.05" fill="rgb(204,204,204)"/>
<rect x="3.1" y="144.00" width="13.5" height="1.05" fill="rgb(205,205,205)"/>
<rect x="3.1" y="145.00" width="13.5" height="1.05" fill="rgb(205,205,205)"/>
<rect x="3.1" y="146.00" width="13.5" height="1.05" fill="rgb(206,206,206)"/>
<rect x="3.1" y="147.00" width="13.5" height="1.05" fill="rgb(206,206,206)"/>
<rect x="3.1" y="148.00" width="13.5" height="1.05" fill="rgb(207,207,207)"/>
<rect x="3.1" y="149.00" width="13.5" height="1.05" fill="rgb(208,208,208)"/>
<rect x="3.1" y="150.00" width="13.5" height="1.05" fill="rgb(209,209,209)"/>
<rect x="3.1" y="151.00" width="13.5" height="1.05" fill="rgb(209,209,209)"/>
<rect x="3.1" y="152.00" width="13.5" height="1.05" fill="rgb(210,210,210)"/>
<rect x="3.1" y="153.00" width="13.5" height="1.05" fill="rgb(210,210,210)"/>
<rect x="3.1" y="154.00" width="13.5" height="1.05" fill="rgb(211,211,211)"/>
<rect x="3.1" y="155.00" width="13.5" height="1.05" fill="rgb(211,211,211)"/>
<rect x="3.1" y="156.00" width="13.5" height="1.05" fill="rgb(211,211,211)"/>
<rect x="3.1" y="157.00" width="13.5" height="1.05" fill="rgb(212,212,212)"/>
</g>
<g filter="url(#bls)">
<rect x="39.8" y="133.00" width="12.5" height="1.05" fill="rgb(205,205,205)"/>
<rect x="39.8" y="134.00" width="12.5" height="1.05" fill="rgb(205,205,205)"/>
<rect x="39.8" y="135.00" width="12.5" height="1.05" fill="rgb(206,206,206)"/>
<rect x="39.8" y="136.00" width="12.5" height="1.05" fill="rgb(206,206,206)"/>
<rect x="39.8" y="137.00" width="12.5" height="1.05" fill="rgb(207,207,207)"/>
<rect x="39.8" y="138.00" width="12.5" height="1.05" fill="rgb(207,207,207)"/>
<rect x="39.8" y="139.00" width="12.5" height="1.05" fill="rgb(208,208,208)"/>
<rect x="39.8" y="140.00" width="12.5" height="1.05" fill="rgb(208,208,208)"/>
<rect x="39.8" y="141.00" width="12.5" height="1.05" fill="rgb(208,208,208)"/>
<rect x="39.8" y="142.00" width="12.5" height="1.05" fill="rgb(209,209,209)"/>
<rect x="39.8" y="143.00" width="12.5" height="1.05" fill="rgb(209,209,209)"/>
<rect x="39.8" y="144.00" width="12.5" height="1.05" fill="rgb(210,210,210)"/>
<rect x="39.8" y="145.00" width="12.5" height="1.05" fill="rgb(210,210,210)"/>
<rect x="39.8" y="146.00" width="12.5" height="1.05" fill="rgb(211,211,211)"/>
<rect x="39.8" y="147.00" width="12.5" height="1.05" fill="rgb(211,211,211)"/>
<rect x="39.8" y="148.00" width="12.5" height="1.05" fill="rgb(212,212,212)"/>
<rect x="39.8" y="149.00" width="12.5" height="1.05" fill="rgb(213,213,213)"/>
<rect x="39.8" y="150.00" width="12.5" height="1.05" fill="rgb(214,214,214)"/>
<rect x="39.8" y="151.00" width="12.5" height="1.05" fill="rgb(214,214,214)"/>
<rect x="39.8" y="152.00" width="12.5" height="1.05" fill="rgb(215,215,215)"/>
<rect x="39.8" y="153.00" width="12.5" height="1.05" fill="rgb(215,215,215)"/>
<rect x="39.8" y="154.00" width="12.5" height="1.05" fill="rgb(216,216,216)"/>
<rect x="39.8" y="155.00" width="12.5" height="1.05" fill="rgb(216,216,216)"/>
<rect x="39.8" y="156.00" width="12.5" height="1.05" fill="rgb(216,216,216)"/>
<rect x="39.8" y="157.00" width="12.5" height="1.05" fill="rgb(217,217,217)"/>
</g>
<g filter="url(#bls)">
<rect x="74.8" y="133.00" width="13.5" height="1.05" fill="rgb(195,195,195)"/>
<rect x="74.8" y="134.00" width="13.5" height="1.05" fill="rgb(195,195,195)"/>
<rect x="74.8" y="135.00" width="13.5" height="1.05" fill="rgb(196,196,196)"/>
<rect x="74.8" y="136.00" width="13.5" height="1.05" fill="rgb(196,196,196)"/>
<rect x="74.8" y="137.00" width="13.5" height="1.05" fill="rgb(197,197,197)"/>
<rect x="74.8" y="138.00" width="13.5" height="1.05" fill="rgb(197,197,197)"/>
<rect x="74.8" y="139.00" width="13.5" height="1.05" fill="rgb(198,198,198)"/>
<rect x="74.8" y="140.00" width="13.5" height="1.05" fill="rgb(198,198,198)"/>
<rect x="74.8" y="141.00" width="13.5" height="1.05" fill="rgb(198,198,198)"/>
<rect x="74.8" y="142.00" width="13.5" height="1.05" fill="rgb(199,199,199)"/>
<rect x="74.8" y="143.00" width="13.5" height="1.05" fill="rgb(199,199,199)"/>
<rect x="74.8" y="144.00" width="13.5" height="1.05" fill="rgb(200,200,200)"/>
<rect x="74.8" y="145.00" width="13.5" height="1.05" fill="rgb(200,200,200)"/>
<rect x="74.8" y="146.00" width="13.5" height="1.05" fill="rgb(201,201,201)"/>
<rect x="74.8" y="147.00" width="13.5" height="1.05" fill="rgb(201,201,201)"/>
<rect x="74.8" y="148.00" width="13.5" height="1.05" fill="rgb(202,202,202)"/>
<rect x="74.8" y="149.00" width="13.5" height="1.05" fill="rgb(203,203,203)"/>
<rect x="74.8" y="150.00" width="13.5" height="1.05" fill="rgb(204,204,204)"/>
<rect x="74.8" y="151.00" width="13.5" height="1.05" fill="rgb(204,204,204)"/>
<rect x="74.8" y="152.00" width="13.5" height="1.05" fill="rgb(205,205,205)"/>
<rect x="74.8" y="153.00" width="13.5" height="1.05" fill="rgb(205,205,205)"/>
<rect x="74.8" y="154.00" width="13.5" height="1.05" fill="rgb(206,206,206)"/>
<rect x="74.8" y="155.00" width="13.5" height="1.05" fill="rgb(206,206,206)"/>
<rect x="74.8" y="156.00" width="13.5" height="1.05" fill="rgb(206,206,206)"/>
<rect x="74.8" y="157.00" width="13.5" height="1.05" fill="rgb(207,207,207)"/>
</g>
<g filter="url(#bls)">
<rect x="110.9" y="133.00" width="13.3" height="1.05" fill="rgb(200,200,200)"/>
<rect x="110.9" y="134.00" width="13.3" height="1.05" fill="rgb(200,200,200)"/>
<rect x="110.9" y="135.00" width="13.3" height="1.05" fill="rgb(201,201,201)"/>
<rect x="110.9" y="136.00" width="13.3" height="1.05" fill="rgb(201,201,201)"/>
<rect x="110.9" y="137.00" width="13.3" height="1.05" fill="rgb(202,202,202)"/>
<rect x="110.9" y="138.00" width="13.3" height="1.05" fill="rgb(202,202,202)"/>
<rect x="110.9" y="139.00" width="13.3" height="1.05" fill="rgb(202,202,202)"/>
<rect x="110.9" y="140.00" width="13.3" height="1.05" fill="rgb(203,203,203)"/>
<rect x="110.9" y="141.00" width="13.3" height="1.05" fill="rgb(203,203,203)"/>
<rect x="110.9" y="142.00" width="13.3" height="1.05" fill="rgb(204,204,204)"/>
<rect x="110.9" y="143.00" width="13.3" height="1.05" fill="rgb(204,204,204)"/>
<rect x="110.9" y="144.00" width="13.3" height="1.05" fill="rgb(205,205,205)"/>
<rect x="110.9" y="145.00" width="13.3" height="1.05" fill="rgb(205,205,205)"/>
<rect x="110.9" y="146.00" width="13.3" height="1.05" fill="rgb(206,206,206)"/>
<rect x="110.9" y="147.00" width="13.3" height="1.05" fill="rgb(206,206,206)"/>
<rect x="110.9" y="148.00" width="13.3" height="1.05" fill="rgb(207,207,207)"/>
<rect x="110.9" y="149.00" width="13.3" height="1.05" fill="rgb(208,208,208)"/>
<rect x="110.9" y="150.00" width="13.3" height="1.05" fill="rgb(209,209,209)"/>
<rect x="110.9" y="151.00" width="13.3" height="1.05" fill="rgb(209,209,209)"/>
<rect x="110.9" y="152.00" width="13.3" height="1.05" fill="rgb(210,210,210)"/>
<rect x="110.9" y="153.00" width="13.3" height="1.05" fill="rgb(210,210,210)"/>
<rect x="110.9" y="154.00" width="13.3" height="1.05" fill="rgb(211,211,211)"/>
<rect x="110.9" y="155.00" width="13.3" height="1.05" fill="rgb(211,211,211)"/>
<rect x="110.9" y="156.00" width="13.3" height="1.05" fill="rgb(211,211,211)"/>
<rect x="110.9" y="157.00" width="13.3" height="1.05" fill="rgb(212,212,212)"/>
</g>
<g filter="url(#bls)">
<rect x="147.5" y="133.00" width="13.3" height="1.05" fill="rgb(195,195,195)"/>
<rect x="147.5" y="134.00" width="13.3" height="1.05" fill="rgb(195,195,195)"/>
<rect x="147.5" y="135.00" width="13.3" height="1.05" fill="rgb(196,196,196)"/>
<rect x="147.5" y="136.00" width="13.3" height="1.05" fill="rgb(196,196,196)"/>
<rect x="147.5" y="137.00" width="13.3" height="1.05" fill="rgb(197,197,197)"/>
<rect x="147.5" y="138.00" width="13.3" height="1.05" fill="rgb(197,197,197)"/>
<rect x="147.5" y="139.00" width="13.3" height="1.05" fill="rgb(198,198,198)"/>
<rect x="147.5" y="140.00" width="13.3" height="1.05" fill="rgb(198,198,198)"/>
<rect x="147.5" y="141.00" width="13.3" height="1.05" fill="rgb(198,198,198)"/>
<rect x="147.5" y="142.00" width="13.3" height="1.05" fill="rgb(199,199,199)"/>
<rect x="147.5" y="143.00" width="13.3" height="1.05" fill="rgb(199,199,199)"/>
<rect x="147.5" y="144.00" width="13.3" height="1.05" fill="rgb(200,200,200)"/>
<rect x="147.5" y="145.00" width="13.3" height="1.05" fill="rgb(200,200,200)"/>
<rect x="147.5" y="146.00" width="13.3" height="1.05" fill="rgb(201,201,201)"/>
<rect x="147.5" y="147.00" width="13.3" height="1.05" fill="rgb(201,201,201)"/>
<rect x="147.5" y="148.00" width="13.3" height="1.05" fill="rgb(202,202,202)"/>
<rect x="147.5" y="149.00" width="13.3" height="1.05" fill="rgb(203,203,203)"/>
<rect x="147.5" y="150.00" width="13.3" height="1.05" fill="rgb(204,204,204)"/>
<rect x="147.5" y="151.00" width="13.3" height="1.05" fill="rgb(204,204,204)"/>
<rect x="147.5" y="152.00" width="13.3" height="1.05" fill="rgb(205,205,205)"/>
<rect x="147.5" y="153.00" width="13.3" height="1.05" fill="rgb(205,205,205)"/>
<rect x="147.5" y="154.00" width="13.3" height="1.05" fill="rgb(206,206,206)"/>
<rect x="147.5" y="155.00" width="13.3" height="1.05" fill="rgb(206,206,206)"/>
<rect x="147.5" y="156.00" width="13.3" height="1.05" fill="rgb(206,206,206)"/>
<rect x="147.5" y="157.00" width="13.3" height="1.05" fill="rgb(207,207,207)"/>
</g>
<rect x="2.80" y="132.20" width="14" height="4.2" rx="1.6" fill="rgb(50,50,50)" opacity="1" filter="url(#bl1)"/>
<rect x="21.05" y="132.20" width="13.5" height="4.2" rx="1.6" fill="rgb(40,40,40)" opacity="1" filter="url(#bl1)"/>
<rect x="39.70" y="132.60" width="13" height="3.8" rx="1.6" fill="rgb(135,135,135)" opacity="1" filter="url(#bl1)"/>
<rect x="56.80" y="132.70" width="13" height="3.6" rx="1.6" fill="rgb(155,155,155)" opacity="1" filter="url(#bl1)"/>
<rect x="74.80" y="132.40" width="14" height="5.6" rx="1.6" fill="rgb(22,22,22)" opacity="1" filter="url(#bl1)"/>
<rect x="92.50" y="133.10" width="14" height="4.4" rx="1.6" fill="rgb(28,28,28)" opacity="1" filter="url(#bl1)"/>
<rect x="110.60" y="132.90" width="14" height="4.8" rx="1.6" fill="rgb(25,25,25)" opacity="1" filter="url(#bl1)"/>
<rect x="128.60" y="133.10" width="14" height="4.2" rx="1.6" fill="rgb(35,35,35)" opacity="1" filter="url(#bl1)"/>
<rect x="147.20" y="131.60" width="14" height="4.6" rx="1.6" fill="rgb(22,22,22)" opacity="1" filter="url(#bl1)"/>
<rect x="165.95" y="131.30" width="14.5" height="3.8" rx="1.6" fill="rgb(65,65,65)" opacity="1" filter="url(#bl1)"/>
<rect x="3.05" y="145.60" width="13.5" height="3.2" rx="1.6" fill="rgb(90,90,90)" opacity="1" filter="url(#bl1)"/>
<rect x="21.30" y="146.10" width="13" height="2.8" rx="1.6" fill="rgb(160,160,160)" opacity="1" filter="url(#bl1)"/>
<rect x="39.70" y="145.70" width="13" height="3.2" rx="1.6" fill="rgb(105,105,105)" opacity="1" filter="url(#bl1)"/>
<rect x="75.30" y="147.60" width="13" height="3.2" rx="1.6" fill="rgb(100,100,100)" opacity="1" filter="url(#bl1)"/>
<rect x="93.00" y="146.30" width="13" height="3" rx="1.6" fill="rgb(175,175,175)" opacity="1" filter="url(#bl1)"/>
<rect x="110.95" y="146.40" width="13.3" height="3.2" rx="1.6" fill="rgb(105,105,105)" opacity="1" filter="url(#bl1)"/>
<rect x="129.10" y="146.50" width="13" height="3" rx="1.6" fill="rgb(200,200,200)" opacity="1" filter="url(#bl1)"/>
<rect x="147.55" y="146.40" width="13.3" height="3.2" rx="1.6" fill="rgb(110,110,110)" opacity="1" filter="url(#bl1)"/>
<rect x="166.70" y="146.50" width="13" height="3" rx="1.6" fill="rgb(205,205,205)" opacity="1" filter="url(#bl1)"/>
<circle cx="55.5" cy="78.5" r="0.65" fill="#1a1a1a"/>
<circle cx="140" cy="80.6" r="0.65" fill="#1a1a1a"/>
<circle cx="154" cy="83.3" r="0.65" fill="#1a1a1a"/>
</g>
<rect x="1" y="163" width="182" height="11.7" fill="#b9b9b9" stroke="#6a6a6a" stroke-width="1"/>
<g clip-path="url(#cpf)">
<rect x="3.30" y="165.70" width="13" height="3.2" rx="1.6" fill="rgb(115,115,115)" opacity="1" filter="url(#bl1)"/>
<rect x="21.05" y="165.20" width="13.5" height="4.2" rx="1.6" fill="rgb(25,25,25)" opacity="1" filter="url(#bl1)"/>
<rect x="40.20" y="166.45" width="12" height="2.5" rx="1.6" fill="rgb(168,168,168)" opacity="1" filter="url(#bl1)"/>
<rect x="58.20" y="165.00" width="12" height="3.2" rx="1.6" fill="rgb(105,105,105)" opacity="1" filter="url(#bl1)"/>
<rect x="76.00" y="165.40" width="13" height="3.2" rx="1.6" fill="rgb(105,105,105)" opacity="1" filter="url(#bl1)"/>
<rect x="92.95" y="164.60" width="13.5" height="4.6" rx="1.6" fill="rgb(22,22,22)" opacity="1" filter="url(#bl1)"/>
<rect x="112.00" y="165.95" width="12" height="2.5" rx="1.6" fill="rgb(162,162,162)" opacity="1" filter="url(#bl1)"/>
<rect x="131.00" y="165.40" width="13" height="3.2" rx="1.6" fill="rgb(112,112,112)" opacity="1" filter="url(#bl1)"/>
<rect x="150.00" y="165.00" width="13" height="3.2" rx="1.6" fill="rgb(120,120,120)" opacity="1" filter="url(#bl1)"/>
<rect x="166.75" y="167.20" width="14.5" height="4.2" rx="1.6" fill="rgb(75,75,75)" opacity="1" filter="url(#bl1)"/>
</g>
<rect x="1" y="177.8" width="182" height="13.6" fill="#bababa" stroke="#5e5e5e" stroke-width="1"/>
<g clip-path="url(#cpa)">
<rect x="1.80" y="185.50" width="16" height="4.2" rx="1.6" fill="rgb(22,22,22)" opacity="1" filter="url(#bl1)"/>
<rect x="20.50" y="185.40" width="15" height="4.0" rx="1.6" fill="rgb(25,25,25)" opacity="1" filter="url(#bl1)"/>
<rect x="39.50" y="185.00" width="14" height="3.2" rx="1.6" fill="rgb(50,50,50)" opacity="1" filter="url(#bl1)"/>
<rect x="57.50" y="184.15" width="14" height="3.5" rx="1.6" fill="rgb(40,40,40)" opacity="1" filter="url(#bl1)"/>
<rect x="75.50" y="184.85" width="14" height="3.7" rx="1.6" fill="rgb(35,35,35)" opacity="1" filter="url(#bl1)"/>
<rect x="95.00" y="184.05" width="15" height="3.3" rx="1.6" fill="rgb(35,35,35)" opacity="1" filter="url(#bl1)"/>
<rect x="113.05" y="183.75" width="14.5" height="3.5" rx="1.6" fill="rgb(35,35,35)" opacity="1" filter="url(#bl1)"/>
<rect x="131.00" y="182.45" width="15" height="4.1" rx="1.6" fill="rgb(28,28,28)" opacity="1" filter="url(#bl1)"/>
<rect x="148.85" y="181.20" width="15.5" height="4.8" rx="1.6" fill="rgb(22,22,22)" opacity="1" filter="url(#bl1)"/>
<rect x="166.00" y="180.20" width="16" height="5.4" rx="1.6" fill="rgb(18,18,18)" opacity="1" filter="url(#bl1)"/>
</g>
<rect x="264.50" y="21.00" width="7.98" height="26.67" fill="#f7ebe6" stroke="#a8a8a8" stroke-opacity="0.35" stroke-width="0.5"/>
<rect x="272.48" y="21.00" width="7.98" height="26.67" fill="#f6b89a" stroke="#a8a8a8" stroke-opacity="0.35" stroke-width="0.5"/>
<rect x="280.46" y="21.00" width="7.98" height="26.67" fill="#b71b25" stroke="#a8a8a8" stroke-opacity="0.35" stroke-width="0.5"/>
<rect x="288.44" y="21.00" width="7.98" height="26.67" fill="#f3a07e" stroke="#a8a8a8" stroke-opacity="0.35" stroke-width="0.5"/>
<rect x="296.42" y="21.00" width="7.98" height="26.67" fill="#fbd9c8" stroke="#a8a8a8" stroke-opacity="0.35" stroke-width="0.5"/>
<rect x="304.40" y="21.00" width="7.98" height="26.67" fill="#dde8f3" stroke="#a8a8a8" stroke-opacity="0.35" stroke-width="0.5"/>
<rect x="312.38" y="21.00" width="7.98" height="26.67" fill="#fcdccb" stroke="#a8a8a8" stroke-opacity="0.35" stroke-width="0.5"/>
<rect x="320.36" y="21.00" width="7.98" height="26.67" fill="#fae6dc" stroke="#a8a8a8" stroke-opacity="0.35" stroke-width="0.5"/>
<rect x="328.34" y="21.00" width="7.98" height="26.67" fill="#f9e9e1" stroke="#a8a8a8" stroke-opacity="0.35" stroke-width="0.5"/>
<rect x="336.32" y="21.00" width="7.98" height="26.67" fill="#e0643f" stroke="#a8a8a8" stroke-opacity="0.35" stroke-width="0.5"/>
<rect x="344.30" y="21.00" width="7.98" height="26.67" fill="#fbdccd" stroke="#a8a8a8" stroke-opacity="0.35" stroke-width="0.5"/>
<rect x="352.28" y="21.00" width="7.98" height="26.67" fill="#f7ece7" stroke="#a8a8a8" stroke-opacity="0.35" stroke-width="0.5"/>
<rect x="360.26" y="21.00" width="7.98" height="26.67" fill="#f5f3f3" stroke="#a8a8a8" stroke-opacity="0.35" stroke-width="0.5"/>
<rect x="368.24" y="21.00" width="7.98" height="26.67" fill="#f6f0ee" stroke="#a8a8a8" stroke-opacity="0.35" stroke-width="0.5"/>
<rect x="376.22" y="21.00" width="7.98" height="26.67" fill="#e4edf4" stroke="#a8a8a8" stroke-opacity="0.35" stroke-width="0.5"/>
<rect x="384.20" y="21.00" width="7.98" height="26.67" fill="#a9cbe3" stroke="#a8a8a8" stroke-opacity="0.35" stroke-width="0.5"/>
<rect x="392.18" y="21.00" width="7.98" height="26.67" fill="#79b1d8" stroke="#a8a8a8" stroke-opacity="0.35" stroke-width="0.5"/>
<rect x="400.16" y="21.00" width="7.98" height="26.67" fill="#b6d3e8" stroke="#a8a8a8" stroke-opacity="0.35" stroke-width="0.5"/>
<rect x="408.14" y="21.00" width="7.98" height="26.67" fill="#94c0df" stroke="#a8a8a8" stroke-opacity="0.35" stroke-width="0.5"/>
<rect x="416.12" y="21.00" width="7.98" height="26.67" fill="#a7cae3" stroke="#a8a8a8" stroke-opacity="0.35" stroke-width="0.5"/>
<rect x="424.10" y="21.00" width="7.98" height="26.67" fill="#fbe8dd" stroke="#a8a8a8" stroke-opacity="0.35" stroke-width="0.5"/>
<rect x="432.08" y="21.00" width="7.98" height="26.67" fill="#dde9f3" stroke="#a8a8a8" stroke-opacity="0.35" stroke-width="0.5"/>
<rect x="440.06" y="21.00" width="7.98" height="26.67" fill="#fae9e0" stroke="#a8a8a8" stroke-opacity="0.35" stroke-width="0.5"/>
<rect x="448.04" y="21.00" width="7.98" height="26.67" fill="#f3a785" stroke="#a8a8a8" stroke-opacity="0.35" stroke-width="0.5"/>
<rect x="456.02" y="21.00" width="7.98" height="26.67" fill="#f6f4f4" stroke="#a8a8a8" stroke-opacity="0.35" stroke-width="0.5"/>
<rect x="464.00" y="21.00" width="7.98" height="26.67" fill="#b1d1e7" stroke="#a8a8a8" stroke-opacity="0.35" stroke-width="0.5"/>
<rect x="264.50" y="47.67" width="7.98" height="26.67" fill="#c0212a" stroke="#a8a8a8" stroke-opacity="0.35" stroke-width="0.5"/>
<rect x="272.48" y="47.67" width="7.98" height="26.67" fill="#e86e44" stroke="#a8a8a8" stroke-opacity="0.35" stroke-width="0.5"/>
<rect x="280.46" y="47.67" width="7.98" height="26.67" fill="#f7f7f7" stroke="#a8a8a8" stroke-opacity="0.35" stroke-width="0.5"/>
<rect x="288.44" y="47.67" width="7.98" height="26.67" fill="#dbe8f3" stroke="#a8a8a8" stroke-opacity="0.35" stroke-width="0.5"/>
<rect x="296.42" y="47.67" width="7.98" height="26.67" fill="#f7e8e0" stroke="#a8a8a8" stroke-opacity="0.35" stroke-width="0.5"/>
<rect x="304.40" y="47.67" width="7.98" height="26.67" fill="#fbd2bd" stroke="#a8a8a8" stroke-opacity="0.35" stroke-width="0.5"/>
<rect x="312.38" y="47.67" width="7.98" height="26.67" fill="#f9dccd" stroke="#a8a8a8" stroke-opacity="0.35" stroke-width="0.5"/>
<rect x="320.36" y="47.67" width="7.98" height="26.67" fill="#f1a283" stroke="#a8a8a8" stroke-opacity="0.35" stroke-width="0.5"/>
<rect x="328.34" y="47.67" width="7.98" height="26.67" fill="#f5bda3" stroke="#a8a8a8" stroke-opacity="0.35" stroke-width="0.5"/>
<rect x="336.32" y="47.67" width="7.98" height="26.67" fill="#f6c1a8" stroke="#a8a8a8" stroke-opacity="0.35" stroke-width="0.5"/>
<rect x="344.30" y="47.67" width="7.98" height="26.67" fill="#f9e3d8" stroke="#a8a8a8" stroke-opacity="0.35" stroke-width="0.5"/>
<rect x="352.28" y="47.67" width="7.98" height="26.67" fill="#f7c6ad" stroke="#a8a8a8" stroke-opacity="0.35" stroke-width="0.5"/>
<rect x="360.26" y="47.67" width="7.98" height="26.67" fill="#eef1f5" stroke="#a8a8a8" stroke-opacity="0.35" stroke-width="0.5"/>
<rect x="368.24" y="47.67" width="7.98" height="26.67" fill="#f8eeea" stroke="#a8a8a8" stroke-opacity="0.35" stroke-width="0.5"/>
<rect x="376.22" y="47.67" width="7.98" height="26.67" fill="#f8ede8" stroke="#a8a8a8" stroke-opacity="0.35" stroke-width="0.5"/>
<rect x="384.20" y="47.67" width="7.98" height="26.67" fill="#d8e7f2" stroke="#a8a8a8" stroke-opacity="0.35" stroke-width="0.5"/>
<rect x="392.18" y="47.67" width="7.98" height="26.67" fill="#fbdac9" stroke="#a8a8a8" stroke-opacity="0.35" stroke-width="0.5"/>
<rect x="400.16" y="47.67" width="7.98" height="26.67" fill="#f7efed" stroke="#a8a8a8" stroke-opacity="0.35" stroke-width="0.5"/>
<rect x="408.14" y="47.67" width="7.98" height="26.67" fill="#dde9f3" stroke="#a8a8a8" stroke-opacity="0.35" stroke-width="0.5"/>
<rect x="416.12" y="47.67" width="7.98" height="26.67" fill="#dfeaf3" stroke="#a8a8a8" stroke-opacity="0.35" stroke-width="0.5"/>
<rect x="424.10" y="47.67" width="7.98" height="26.67" fill="#e2ecf3" stroke="#a8a8a8" stroke-opacity="0.35" stroke-width="0.5"/>
<rect x="432.08" y="47.67" width="7.98" height="26.67" fill="#fae8de" stroke="#a8a8a8" stroke-opacity="0.35" stroke-width="0.5"/>
<rect x="440.06" y="47.67" width="7.98" height="26.67" fill="#f9e5da" stroke="#a8a8a8" stroke-opacity="0.35" stroke-width="0.5"/>
<rect x="448.04" y="47.67" width="7.98" height="26.67" fill="#5fa2d1" stroke="#a8a8a8" stroke-opacity="0.35" stroke-width="0.5"/>
<rect x="456.02" y="47.67" width="7.98" height="26.67" fill="#5fa2d1" stroke="#a8a8a8" stroke-opacity="0.35" stroke-width="0.5"/>
<rect x="464.00" y="47.67" width="7.98" height="26.67" fill="#3783c1" stroke="#a8a8a8" stroke-opacity="0.35" stroke-width="0.5"/>
<rect x="264.50" y="74.34" width="7.98" height="26.67" fill="#c0212a" stroke="#a8a8a8" stroke-opacity="0.35" stroke-width="0.5"/>
<rect x="272.48" y="74.34" width="7.98" height="26.67" fill="#ee9268" stroke="#a8a8a8" stroke-opacity="0.35" stroke-width="0.5"/>
<rect x="280.46" y="74.34" width="7.98" height="26.67" fill="#f1a283" stroke="#a8a8a8" stroke-opacity="0.35" stroke-width="0.5"/>
<rect x="288.44" y="74.34" width="7.98" height="26.67" fill="#dde9f3" stroke="#a8a8a8" stroke-opacity="0.35" stroke-width="0.5"/>
<rect x="296.42" y="74.34" width="7.98" height="26.67" fill="#f7e8e0" stroke="#a8a8a8" stroke-opacity="0.35" stroke-width="0.5"/>
<rect x="304.40" y="74.34" width="7.98" height="26.67" fill="#f5ebe6" stroke="#a8a8a8" stroke-opacity="0.35" stroke-width="0.5"/>
<rect x="312.38" y="74.34" width="7.98" height="26.67" fill="#d6e6f2" stroke="#a8a8a8" stroke-opacity="0.35" stroke-width="0.5"/>
<rect x="320.36" y="74.34" width="7.98" height="26.67" fill="#fbe5da" stroke="#a8a8a8" stroke-opacity="0.35" stroke-width="0.5"/>
<rect x="328.34" y="74.34" width="7.98" height="26.67" fill="#f9ddce" stroke="#a8a8a8" stroke-opacity="0.35" stroke-width="0.5"/>
<rect x="336.32" y="74.34" width="7.98" height="26.67" fill="#f7c3aa" stroke="#a8a8a8" stroke-opacity="0.35" stroke-width="0.5"/>
<rect x="344.30" y="74.34" width="7.98" height="26.67" fill="#f7c8b0" stroke="#a8a8a8" stroke-opacity="0.35" stroke-width="0.5"/>
<rect x="352.28" y="74.34" width="7.98" height="26.67" fill="#f5eeea" stroke="#a8a8a8" stroke-opacity="0.35" stroke-width="0.5"/>
<rect x="360.26" y="74.34" width="7.98" height="26.67" fill="#f4b799" stroke="#a8a8a8" stroke-opacity="0.35" stroke-width="0.5"/>
<rect x="368.24" y="74.34" width="7.98" height="26.67" fill="#fae3d7" stroke="#a8a8a8" stroke-opacity="0.35" stroke-width="0.5"/>
<rect x="376.22" y="74.34" width="7.98" height="26.67" fill="#f4b496" stroke="#a8a8a8" stroke-opacity="0.35" stroke-width="0.5"/>
<rect x="384.20" y="74.34" width="7.98" height="26.67" fill="#f6efec" stroke="#a8a8a8" stroke-opacity="0.35" stroke-width="0.5"/>
<rect x="392.18" y="74.34" width="7.98" height="26.67" fill="#f0f1f4" stroke="#a8a8a8" stroke-opacity="0.35" stroke-width="0.5"/>
<rect x="400.16" y="74.34" width="7.98" height="26.67" fill="#e6edf4" stroke="#a8a8a8" stroke-opacity="0.35" stroke-width="0.5"/>
<rect x="408.14" y="74.34" width="7.98" height="26.67" fill="#1c66ab" stroke="#a8a8a8" stroke-opacity="0.35" stroke-width="0.5"/>
<rect x="416.12" y="74.34" width="7.98" height="26.67" fill="#8ebbdc" stroke="#a8a8a8" stroke-opacity="0.35" stroke-width="0.5"/>
<rect x="424.10" y="74.34" width="7.98" height="26.67" fill="#dae8f2" stroke="#a8a8a8" stroke-opacity="0.35" stroke-width="0.5"/>
<rect x="432.08" y="74.34" width="7.98" height="26.67" fill="#e0ebf3" stroke="#a8a8a8" stroke-opacity="0.35" stroke-width="0.5"/>
<rect x="440.06" y="74.34" width="7.98" height="26.67" fill="#d9e7f2" stroke="#a8a8a8" stroke-opacity="0.35" stroke-width="0.5"/>
<rect x="448.04" y="74.34" width="7.98" height="26.67" fill="#8dbadc" stroke="#a8a8a8" stroke-opacity="0.35" stroke-width="0.5"/>
<rect x="456.02" y="74.34" width="7.98" height="26.67" fill="#e7eef5" stroke="#a8a8a8" stroke-opacity="0.35" stroke-width="0.5"/>
<rect x="464.00" y="74.34" width="7.98" height="26.67" fill="#dbe8f3" stroke="#a8a8a8" stroke-opacity="0.35" stroke-width="0.5"/>
<rect x="264.50" y="101.01" width="7.98" height="26.67" fill="#fbe3d6" stroke="#a8a8a8" stroke-opacity="0.35" stroke-width="0.5"/>
<rect x="272.48" y="101.01" width="7.98" height="26.67" fill="#6aaad6" stroke="#a8a8a8" stroke-opacity="0.35" stroke-width="0.5"/>
<rect x="280.46" y="101.01" width="7.98" height="26.67" fill="#fbe6dc" stroke="#a8a8a8" stroke-opacity="0.35" stroke-width="0.5"/>
<rect x="288.44" y="101.01" width="7.98" height="26.67" fill="#f8ebe5" stroke="#a8a8a8" stroke-opacity="0.35" stroke-width="0.5"/>
<rect x="296.42" y="101.01" width="7.98" height="26.67" fill="#cfe2f1" stroke="#a8a8a8" stroke-opacity="0.35" stroke-width="0.5"/>
<rect x="304.40" y="101.01" width="7.98" height="26.67" fill="#f6f1ef" stroke="#a8a8a8" stroke-opacity="0.35" stroke-width="0.5"/>
<rect x="312.38" y="101.01" width="7.98" height="26.67" fill="#f2a07c" stroke="#a8a8a8" stroke-opacity="0.35" stroke-width="0.5"/>
<rect x="320.36" y="101.01" width="7.98" height="26.67" fill="#f7c2a8" stroke="#a8a8a8" stroke-opacity="0.35" stroke-width="0.5"/>
<rect x="328.34" y="101.01" width="7.98" height="26.67" fill="#f9d6c3" stroke="#a8a8a8" stroke-opacity="0.35" stroke-width="0.5"/>
<rect x="336.32" y="101.01" width="7.98" height="26.67" fill="#f4b496" stroke="#a8a8a8" stroke-opacity="0.35" stroke-width="0.5"/>
<rect x="344.30" y="101.01" width="7.98" height="26.67" fill="#f3ab8a" stroke="#a8a8a8" stroke-opacity="0.35" stroke-width="0.5"/>
<rect x="352.28" y="101.01" width="7.98" height="26.67" fill="#b2182b" stroke="#a8a8a8" stroke-opacity="0.35" stroke-width="0.5"/>
<rect x="360.26" y="101.01" width="7.98" height="26.67" fill="#f9d6c3" stroke="#a8a8a8" stroke-opacity="0.35" stroke-width="0.5"/>
<rect x="368.24" y="101.01" width="7.98" height="26.67" fill="#f4a582" stroke="#a8a8a8" stroke-opacity="0.35" stroke-width="0.5"/>
<rect x="376.22" y="101.01" width="7.98" height="26.67" fill="#f9e5db" stroke="#a8a8a8" stroke-opacity="0.35" stroke-width="0.5"/>
<rect x="384.20" y="101.01" width="7.98" height="26.67" fill="#f8e8e0" stroke="#a8a8a8" stroke-opacity="0.35" stroke-width="0.5"/>
<rect x="392.18" y="101.01" width="7.98" height="26.67" fill="#f6f0ee" stroke="#a8a8a8" stroke-opacity="0.35" stroke-width="0.5"/>
<rect x="400.16" y="101.01" width="7.98" height="26.67" fill="#e8eff5" stroke="#a8a8a8" stroke-opacity="0.35" stroke-width="0.5"/>
<rect x="408.14" y="101.01" width="7.98" height="26.67" fill="#cfe2f0" stroke="#a8a8a8" stroke-opacity="0.35" stroke-width="0.5"/>
<rect x="416.12" y="101.01" width="7.98" height="26.67" fill="#d3e4f1" stroke="#a8a8a8" stroke-opacity="0.35" stroke-width="0.5"/>
<rect x="424.10" y="101.01" width="7.98" height="26.67" fill="#b4d2e7" stroke="#a8a8a8" stroke-opacity="0.35" stroke-width="0.5"/>
<rect x="432.08" y="101.01" width="7.98" height="26.67" fill="#8dbadc" stroke="#a8a8a8" stroke-opacity="0.35" stroke-width="0.5"/>
<rect x="440.06" y="101.01" width="7.98" height="26.67" fill="#4a8fc6" stroke="#a8a8a8" stroke-opacity="0.35" stroke-width="0.5"/>
<rect x="448.04" y="101.01" width="7.98" height="26.67" fill="#e4edf5" stroke="#a8a8a8" stroke-opacity="0.35" stroke-width="0.5"/>
<rect x="456.02" y="101.01" width="7.98" height="26.67" fill="#faeae2" stroke="#a8a8a8" stroke-opacity="0.35" stroke-width="0.5"/>
<rect x="464.00" y="101.01" width="7.98" height="26.67" fill="#dde9f3" stroke="#a8a8a8" stroke-opacity="0.35" stroke-width="0.5"/>
<rect x="264.50" y="127.68" width="7.98" height="26.67" fill="#f4b496" stroke="#a8a8a8" stroke-opacity="0.35" stroke-width="0.5"/>
<rect x="272.48" y="127.68" width="7.98" height="26.67" fill="#f9e8e0" stroke="#a8a8a8" stroke-opacity="0.35" stroke-width="0.5"/>
<rect x="280.46" y="127.68" width="7.98" height="26.67" fill="#f5b89b" stroke="#a8a8a8" stroke-opacity="0.35" stroke-width="0.5"/>
<rect x="288.44" y="127.68" width="7.98" height="26.67" fill="#f4b496" stroke="#a8a8a8" stroke-opacity="0.35" stroke-width="0.5"/>
<rect x="296.42" y="127.68" width="7.98" height="26.67" fill="#f0f3f7" stroke="#a8a8a8" stroke-opacity="0.35" stroke-width="0.5"/>
<rect x="304.40" y="127.68" width="7.98" height="26.67" fill="#f9cfb9" stroke="#a8a8a8" stroke-opacity="0.35" stroke-width="0.5"/>
<rect x="312.38" y="127.68" width="7.98" height="26.67" fill="#f4b496" stroke="#a8a8a8" stroke-opacity="0.35" stroke-width="0.5"/>
<rect x="320.36" y="127.68" width="7.98" height="26.67" fill="#f9e6dc" stroke="#a8a8a8" stroke-opacity="0.35" stroke-width="0.5"/>
<rect x="328.34" y="127.68" width="7.98" height="26.67" fill="#f9e3d6" stroke="#a8a8a8" stroke-opacity="0.35" stroke-width="0.5"/>
<rect x="336.32" y="127.68" width="7.98" height="26.67" fill="#f8cfb9" stroke="#a8a8a8" stroke-opacity="0.35" stroke-width="0.5"/>
<rect x="344.30" y="127.68" width="7.98" height="26.67" fill="#e0643f" stroke="#a8a8a8" stroke-opacity="0.35" stroke-width="0.5"/>
<rect x="352.28" y="127.68" width="7.98" height="26.67" fill="#f5bea3" stroke="#a8a8a8" stroke-opacity="0.35" stroke-width="0.5"/>
<rect x="360.26" y="127.68" width="7.98" height="26.67" fill="#f9dccd" stroke="#a8a8a8" stroke-opacity="0.35" stroke-width="0.5"/>
<rect x="368.24" y="127.68" width="7.98" height="26.67" fill="#fbe0d2" stroke="#a8a8a8" stroke-opacity="0.35" stroke-width="0.5"/>
<rect x="376.22" y="127.68" width="7.98" height="26.67" fill="#95c0df" stroke="#a8a8a8" stroke-opacity="0.35" stroke-width="0.5"/>
<rect x="384.20" y="127.68" width="7.98" height="26.67" fill="#cce0ef" stroke="#a8a8a8" stroke-opacity="0.35" stroke-width="0.5"/>
<rect x="392.18" y="127.68" width="7.98" height="26.67" fill="#cfe2f0" stroke="#a8a8a8" stroke-opacity="0.35" stroke-width="0.5"/>
<rect x="400.16" y="127.68" width="7.98" height="26.67" fill="#f7f0ee" stroke="#a8a8a8" stroke-opacity="0.35" stroke-width="0.5"/>
<rect x="408.14" y="127.68" width="7.98" height="26.67" fill="#6ea9d4" stroke="#a8a8a8" stroke-opacity="0.35" stroke-width="0.5"/>
<rect x="416.12" y="127.68" width="7.98" height="26.67" fill="#d3e4f1" stroke="#a8a8a8" stroke-opacity="0.35" stroke-width="0.5"/>
<rect x="424.10" y="127.68" width="7.98" height="26.67" fill="#c4dbec" stroke="#a8a8a8" stroke-opacity="0.35" stroke-width="0.5"/>
<rect x="432.08" y="127.68" width="7.98" height="26.67" fill="#eef1f6" stroke="#a8a8a8" stroke-opacity="0.35" stroke-width="0.5"/>
<rect x="440.06" y="127.68" width="7.98" height="26.67" fill="#bcd7ea" stroke="#a8a8a8" stroke-opacity="0.35" stroke-width="0.5"/>
<rect x="448.04" y="127.68" width="7.98" height="26.67" fill="#2a74b4" stroke="#a8a8a8" stroke-opacity="0.35" stroke-width="0.5"/>
<rect x="456.02" y="127.68" width="7.98" height="26.67" fill="#f6b898" stroke="#a8a8a8" stroke-opacity="0.35" stroke-width="0.5"/>
<rect x="464.00" y="127.68" width="7.98" height="26.67" fill="#d3e4f1" stroke="#a8a8a8" stroke-opacity="0.35" stroke-width="0.5"/>
<rect x="264.50" y="154.35" width="7.98" height="26.67" fill="#fad9c6" stroke="#a8a8a8" stroke-opacity="0.35" stroke-width="0.5"/>
<rect x="272.48" y="154.35" width="7.98" height="26.67" fill="#dce9f3" stroke="#a8a8a8" stroke-opacity="0.35" stroke-width="0.5"/>
<rect x="280.46" y="154.35" width="7.98" height="26.67" fill="#e3673f" stroke="#a8a8a8" stroke-opacity="0.35" stroke-width="0.5"/>
<rect x="288.44" y="154.35" width="7.98" height="26.67" fill="#f4b496" stroke="#a8a8a8" stroke-opacity="0.35" stroke-width="0.5"/>
<rect x="296.42" y="154.35" width="7.98" height="26.67" fill="#f5bb9e" stroke="#a8a8a8" stroke-opacity="0.35" stroke-width="0.5"/>
<rect x="304.40" y="154.35" width="7.98" height="26.67" fill="#ef9670" stroke="#a8a8a8" stroke-opacity="0.35" stroke-width="0.5"/>
<rect x="312.38" y="154.35" width="7.98" height="26.67" fill="#f09c76" stroke="#a8a8a8" stroke-opacity="0.35" stroke-width="0.5"/>
<rect x="320.36" y="154.35" width="7.98" height="26.67" fill="#f9d4be" stroke="#a8a8a8" stroke-opacity="0.35" stroke-width="0.5"/>
<rect x="328.34" y="154.35" width="7.98" height="26.67" fill="#d8e7f2" stroke="#a8a8a8" stroke-opacity="0.35" stroke-width="0.5"/>
<rect x="336.32" y="154.35" width="7.98" height="26.67" fill="#f9e5db" stroke="#a8a8a8" stroke-opacity="0.35" stroke-width="0.5"/>
<rect x="344.30" y="154.35" width="7.98" height="26.67" fill="#f5f0ee" stroke="#a8a8a8" stroke-opacity="0.35" stroke-width="0.5"/>
<rect x="352.28" y="154.35" width="7.98" height="26.67" fill="#fae6dd" stroke="#a8a8a8" stroke-opacity="0.35" stroke-width="0.5"/>
<rect x="360.26" y="154.35" width="7.98" height="26.67" fill="#f2f2f3" stroke="#a8a8a8" stroke-opacity="0.35" stroke-width="0.5"/>
<rect x="368.24" y="154.35" width="7.98" height="26.67" fill="#fbd8c4" stroke="#a8a8a8" stroke-opacity="0.35" stroke-width="0.5"/>
<rect x="376.22" y="154.35" width="7.98" height="26.67" fill="#e6eff6" stroke="#a8a8a8" stroke-opacity="0.35" stroke-width="0.5"/>
<rect x="384.20" y="154.35" width="7.98" height="26.67" fill="#fae0d2" stroke="#a8a8a8" stroke-opacity="0.35" stroke-width="0.5"/>
<rect x="392.18" y="154.35" width="7.98" height="26.67" fill="#f9dfd1" stroke="#a8a8a8" stroke-opacity="0.35" stroke-width="0.5"/>
<rect x="400.16" y="154.35" width="7.98" height="26.67" fill="#f9e4d9" stroke="#a8a8a8" stroke-opacity="0.35" stroke-width="0.5"/>
<rect x="408.14" y="154.35" width="7.98" height="26.67" fill="#c0d9eb" stroke="#a8a8a8" stroke-opacity="0.35" stroke-width="0.5"/>
<rect x="416.12" y="154.35" width="7.98" height="26.67" fill="#abcce4" stroke="#a8a8a8" stroke-opacity="0.35" stroke-width="0.5"/>
<rect x="424.10" y="154.35" width="7.98" height="26.67" fill="#d1e3f0" stroke="#a8a8a8" stroke-opacity="0.35" stroke-width="0.5"/>
<rect x="432.08" y="154.35" width="7.98" height="26.67" fill="#f9ebe4" stroke="#a8a8a8" stroke-opacity="0.35" stroke-width="0.5"/>
<rect x="440.06" y="154.35" width="7.98" height="26.67" fill="#eff2f6" stroke="#a8a8a8" stroke-opacity="0.35" stroke-width="0.5"/>
<rect x="448.04" y="154.35" width="7.98" height="26.67" fill="#115ba3" stroke="#a8a8a8" stroke-opacity="0.35" stroke-width="0.5"/>
<rect x="456.02" y="154.35" width="7.98" height="26.67" fill="#c0d8eb" stroke="#a8a8a8" stroke-opacity="0.35" stroke-width="0.5"/>
<rect x="464.00" y="154.35" width="7.98" height="26.67" fill="#b2d1e6" stroke="#a8a8a8" stroke-opacity="0.35" stroke-width="0.5"/>
<rect x="264.50" y="182.8" width="7.98" height="7.5" fill="#2fb34a" stroke="#b0d8b8" stroke-opacity="0.6" stroke-width="0.5"/>
<rect x="272.48" y="182.8" width="7.98" height="7.5" fill="#2fb34a" stroke="#b0d8b8" stroke-opacity="0.6" stroke-width="0.5"/>
<rect x="280.46" y="182.8" width="7.98" height="7.5" fill="#2fb34a" stroke="#b0d8b8" stroke-opacity="0.6" stroke-width="0.5"/>
<rect x="288.44" y="182.8" width="7.98" height="7.5" fill="#d2152b" stroke="#b0d8b8" stroke-opacity="0.6" stroke-width="0.5"/>
<rect x="296.42" y="182.8" width="7.98" height="7.5" fill="#2fb34a" stroke="#b0d8b8" stroke-opacity="0.6" stroke-width="0.5"/>
<rect x="304.40" y="182.8" width="7.98" height="7.5" fill="#1c4f8a" stroke="#b0d8b8" stroke-opacity="0.6" stroke-width="0.5"/>
<rect x="312.38" y="182.8" width="7.98" height="7.5" fill="#2fb34a" stroke="#b0d8b8" stroke-opacity="0.6" stroke-width="0.5"/>
<rect x="320.36" y="182.8" width="7.98" height="7.5" fill="#2fb34a" stroke="#b0d8b8" stroke-opacity="0.6" stroke-width="0.5"/>
<rect x="328.34" y="182.8" width="7.98" height="7.5" fill="#2fb34a" stroke="#b0d8b8" stroke-opacity="0.6" stroke-width="0.5"/>
<rect x="336.32" y="182.8" width="7.98" height="7.5" fill="#d2152b" stroke="#b0d8b8" stroke-opacity="0.6" stroke-width="0.5"/>
<rect x="344.30" y="182.8" width="7.98" height="7.5" fill="#2fb34a" stroke="#b0d8b8" stroke-opacity="0.6" stroke-width="0.5"/>
<rect x="352.28" y="182.8" width="7.98" height="7.5" fill="#1c4f8a" stroke="#b0d8b8" stroke-opacity="0.6" stroke-width="0.5"/>
<rect x="360.26" y="182.8" width="7.98" height="7.5" fill="#1c4f8a" stroke="#b0d8b8" stroke-opacity="0.6" stroke-width="0.5"/>
<rect x="368.24" y="182.8" width="7.98" height="7.5" fill="#1c4f8a" stroke="#b0d8b8" stroke-opacity="0.6" stroke-width="0.5"/>
<rect x="376.22" y="182.8" width="7.98" height="7.5" fill="#2fb34a" stroke="#b0d8b8" stroke-opacity="0.6" stroke-width="0.5"/>
<rect x="384.20" y="182.8" width="7.98" height="7.5" fill="#1c4f8a" stroke="#b0d8b8" stroke-opacity="0.6" stroke-width="0.5"/>
<rect x="392.18" y="182.8" width="7.98" height="7.5" fill="#2fb34a" stroke="#b0d8b8" stroke-opacity="0.6" stroke-width="0.5"/>
<rect x="400.16" y="182.8" width="7.98" height="7.5" fill="#2fb34a" stroke="#b0d8b8" stroke-opacity="0.6" stroke-width="0.5"/>
<rect x="408.14" y="182.8" width="7.98" height="7.5" fill="#d2152b" stroke="#b0d8b8" stroke-opacity="0.6" stroke-width="0.5"/>
<rect x="416.12" y="182.8" width="7.98" height="7.5" fill="#1c4f8a" stroke="#b0d8b8" stroke-opacity="0.6" stroke-width="0.5"/>
<rect x="424.10" y="182.8" width="7.98" height="7.5" fill="#1c4f8a" stroke="#b0d8b8" stroke-opacity="0.6" stroke-width="0.5"/>
<rect x="432.08" y="182.8" width="7.98" height="7.5" fill="#1c4f8a" stroke="#b0d8b8" stroke-opacity="0.6" stroke-width="0.5"/>
<rect x="440.06" y="182.8" width="7.98" height="7.5" fill="#2fb34a" stroke="#b0d8b8" stroke-opacity="0.6" stroke-width="0.5"/>
<rect x="448.04" y="182.8" width="7.98" height="7.5" fill="#2fb34a" stroke="#b0d8b8" stroke-opacity="0.6" stroke-width="0.5"/>
<rect x="456.02" y="182.8" width="7.98" height="7.5" fill="#2fb34a" stroke="#b0d8b8" stroke-opacity="0.6" stroke-width="0.5"/>
<rect x="464.00" y="182.8" width="7.98" height="7.5" fill="#1c4f8a" stroke="#b0d8b8" stroke-opacity="0.6" stroke-width="0.5"/>
<text x="474.0" y="37.935" font-size="8.2" text-anchor="start" font-weight="normal" fill="#231f20" stroke="#231f20" stroke-width="0.15" >UBA2</text>
<text x="474.0" y="64.605" font-size="8.2" text-anchor="start" font-weight="normal" fill="#231f20" stroke="#231f20" stroke-width="0.15" >UBE2I</text>
<text x="474.0" y="91.275" font-size="8.2" text-anchor="start" font-weight="normal" fill="#231f20" stroke="#231f20" stroke-width="0.15" >SUMO1</text>
<text x="474.0" y="117.945" font-size="8.2" text-anchor="start" font-weight="normal" fill="#231f20" stroke="#231f20" stroke-width="0.15" >SUMO3</text>
<text x="474.0" y="144.615" font-size="8.2" text-anchor="start" font-weight="normal" fill="#231f20" stroke="#231f20" stroke-width="0.15" >SAE1</text>
<text x="474.0" y="171.28500000000003" font-size="8.2" text-anchor="start" font-weight="normal" fill="#231f20" stroke="#231f20" stroke-width="0.15" >SUMO2</text>
<text transform="translate(266.09,193.3) rotate(90)" font-size="8.0" fill="#231f20" stroke="#231f20" stroke-width="0.15">KMS26</text>
<text transform="translate(274.07,193.3) rotate(90)" font-size="8.0" fill="#231f20" stroke="#231f20" stroke-width="0.15">L363</text>
<text transform="translate(282.05,193.3) rotate(90)" font-size="8.0" fill="#231f20" stroke="#231f20" stroke-width="0.15">KMM1</text>
<text transform="translate(290.03,193.3) rotate(90)" font-size="8.0" fill="#231f20" stroke="#231f20" stroke-width="0.15">JJN3</text>
<text transform="translate(298.01,193.3) rotate(90)" font-size="8.0" fill="#231f20" stroke="#231f20" stroke-width="0.15">KMS34</text>
<text transform="translate(305.99,193.3) rotate(90)" font-size="8.0" fill="#231f20" stroke="#231f20" stroke-width="0.15">HUNS1</text>
<text transform="translate(313.97,193.3) rotate(90)" font-size="8.0" fill="#231f20" stroke="#231f20" stroke-width="0.15">KARPAS620</text>
<text transform="translate(321.95,193.3) rotate(90)" font-size="8.0" fill="#231f20" stroke="#231f20" stroke-width="0.15">KMS20</text>
<text transform="translate(329.93,193.3) rotate(90)" font-size="8.0" fill="#231f20" stroke="#231f20" stroke-width="0.15">KMS12BM</text>
<text transform="translate(337.91,193.3) rotate(90)" font-size="8.0" fill="#231f20" stroke="#231f20" stroke-width="0.15">KMS11</text>
<text transform="translate(345.89,193.3) rotate(90)" font-size="8.0" fill="#231f20" stroke="#231f20" stroke-width="0.15">U266B1</text>
<text transform="translate(353.87,193.3) rotate(90)" font-size="8.0" fill="#231f20" stroke="#231f20" stroke-width="0.15">MM1S</text>
<text transform="translate(361.85,193.3) rotate(90)" font-size="8.0" fill="#231f20" stroke="#231f20" stroke-width="0.15">AMO1</text>
<text transform="translate(369.83,193.3) rotate(90)" font-size="8.0" fill="#231f20" stroke="#231f20" stroke-width="0.15">KMS28BM</text>
<text transform="translate(377.81,193.3) rotate(90)" font-size="8.0" fill="#231f20" stroke="#231f20" stroke-width="0.15">LP1</text>
<text transform="translate(385.79,193.3) rotate(90)" font-size="8.0" fill="#231f20" stroke="#231f20" stroke-width="0.15">NCIH929</text>
<text transform="translate(393.77,193.3) rotate(90)" font-size="8.0" fill="#231f20" stroke="#231f20" stroke-width="0.15">RPMI8226</text>
<text transform="translate(401.75,193.3) rotate(90)" font-size="8.0" fill="#231f20" stroke="#231f20" stroke-width="0.15">SKMM2</text>
<text transform="translate(409.73,193.3) rotate(90)" font-size="8.0" fill="#231f20" stroke="#231f20" stroke-width="0.15">KHM1B</text>
<text transform="translate(417.71,193.3) rotate(90)" font-size="8.0" fill="#231f20" stroke="#231f20" stroke-width="0.15">KMS18</text>
<text transform="translate(425.69,193.3) rotate(90)" font-size="8.0" fill="#231f20" stroke="#231f20" stroke-width="0.15">KMS21BM</text>
<text transform="translate(433.67,193.3) rotate(90)" font-size="8.0" fill="#231f20" stroke="#231f20" stroke-width="0.15">MOLP8</text>
<text transform="translate(441.65,193.3) rotate(90)" font-size="8.0" fill="#231f20" stroke="#231f20" stroke-width="0.15">OPM2</text>
<text transform="translate(449.63,193.3) rotate(90)" font-size="8.0" fill="#231f20" stroke="#231f20" stroke-width="0.15">MOLP2</text>
<text transform="translate(457.61,193.3) rotate(90)" font-size="8.0" fill="#231f20" stroke="#231f20" stroke-width="0.15">EJM</text>
<text transform="translate(465.59,193.3) rotate(90)" font-size="8.0" fill="#231f20" stroke="#231f20" stroke-width="0.15">KMS27</text>
<defs><linearGradient id="zg" x1="0" y1="0" x2="0" y2="1"><stop offset="0" stop-color="#a1162a"/><stop offset="0.1" stop-color="#c43a3a"/><stop offset="0.22" stop-color="#e8856a"/><stop offset="0.36" stop-color="#f7c6b2"/><stop offset="0.48" stop-color="#f7ece8"/><stop offset="0.6" stop-color="#e6eff6"/><stop offset="0.72" stop-color="#bcd6ea"/><stop offset="0.83" stop-color="#7db1d5"/><stop offset="0.93" stop-color="#3a86bb"/><stop offset="1" stop-color="#1b5f92"/></linearGradient></defs>
<rect x="503.7" y="21.3" width="3.9" height="56.4" fill="url(#zg)"/>
<text x="492.8" y="16.9" font-size="7.8" text-anchor="start" font-weight="normal" fill="#231f20" stroke="#231f20" stroke-width="0.15" >Z score</text>
<text x="511.1" y="27.3" font-size="7.4" text-anchor="start" font-weight="normal" fill="#231f20" stroke="#231f20" stroke-width="0.15" >2</text>
<text x="511.1" y="38.7" font-size="7.4" text-anchor="start" font-weight="normal" fill="#231f20" stroke="#231f20" stroke-width="0.15" >1</text>
<text x="511.1" y="50.1" font-size="7.4" text-anchor="start" font-weight="normal" fill="#231f20" stroke="#231f20" stroke-width="0.15" >0</text>
<text x="511.1" y="61.5" font-size="7.4" text-anchor="start" font-weight="normal" fill="#231f20" stroke="#231f20" stroke-width="0.15" >−1</text>
<text x="511.1" y="72.9" font-size="7.4" text-anchor="start" font-weight="normal" fill="#231f20" stroke="#231f20" stroke-width="0.15" >−2</text>
<text x="476.6" y="187.8" font-size="7.85" text-anchor="start" font-weight="normal" fill="#231f20" stroke="#231f20" stroke-width="0.15" >p53 status</text>
<rect x="477.5" y="193.8" width="4" height="4" fill="#b5172f"/>
<text x="483.2" y="198.5" font-size="7.4" text-anchor="start" font-weight="normal" fill="#231f20" stroke="#231f20" stroke-width="0.15" >Deleted</text>
<rect x="477.5" y="203.9" width="4" height="4" fill="#3cb44b"/>
<text x="483.2" y="208.6" font-size="7.4" text-anchor="start" font-weight="normal" fill="#231f20" stroke="#231f20" stroke-width="0.15" >Mutated</text>
<rect x="477.5" y="213.8" width="4" height="4" fill="#1f4e79"/>
<text x="483.2" y="218.5" font-size="7.4" text-anchor="start" font-weight="normal" fill="#231f20" stroke="#231f20" stroke-width="0.15" >Wild type</text>
<line x1="244.50" y1="54.70" x2="244.50" y2="134.50" stroke="#3a3a3a" stroke-width="0.9" />
<line x1="245.00" y1="34.30" x2="245.00" y2="75.00" stroke="#3a3a3a" stroke-width="0.9" />
<line x1="245.00" y1="34.30" x2="264.60" y2="34.30" stroke="#3a3a3a" stroke-width="0.9" />
<line x1="245.00" y1="75.00" x2="251.20" y2="75.00" stroke="#3a3a3a" stroke-width="0.9" />
<line x1="251.20" y1="61.00" x2="251.20" y2="87.70" stroke="#3a3a3a" stroke-width="0.9" />
<line x1="251.20" y1="61.00" x2="264.60" y2="61.00" stroke="#3a3a3a" stroke-width="0.9" />
<line x1="251.20" y1="87.70" x2="264.60" y2="87.70" stroke="#3a3a3a" stroke-width="0.9" />
<line x1="244.50" y1="134.50" x2="248.70" y2="134.50" stroke="#3a3a3a" stroke-width="0.9" />
<line x1="248.70" y1="114.30" x2="248.70" y2="154.40" stroke="#3a3a3a" stroke-width="0.9" />
<line x1="248.70" y1="114.30" x2="264.60" y2="114.30" stroke="#3a3a3a" stroke-width="0.9" />
<line x1="248.70" y1="154.40" x2="251.60" y2="154.40" stroke="#3a3a3a" stroke-width="0.9" />
<line x1="251.60" y1="141.00" x2="251.60" y2="167.70" stroke="#3a3a3a" stroke-width="0.9" />
<line x1="251.60" y1="141.00" x2="264.60" y2="141.00" stroke="#3a3a3a" stroke-width="0.9" />
<line x1="251.60" y1="167.70" x2="264.60" y2="167.70" stroke="#3a3a3a" stroke-width="0.9" />
<line x1="244.50" y1="54.70" x2="245.00" y2="54.70" stroke="#3a3a3a" stroke-width="0.9" />
<line x1="268.49" y1="16.40" x2="276.47" y2="16.40" stroke="#3a3a3a" stroke-width="0.9" />
<line x1="268.49" y1="16.40" x2="268.49" y2="21.00" stroke="#3a3a3a" stroke-width="0.9" />
<line x1="276.47" y1="16.40" x2="276.47" y2="21.00" stroke="#3a3a3a" stroke-width="0.9" />
<line x1="292.43" y1="18.00" x2="300.41" y2="18.00" stroke="#3a3a3a" stroke-width="0.9" />
<line x1="292.43" y1="18.00" x2="292.43" y2="21.00" stroke="#3a3a3a" stroke-width="0.9" />
<line x1="300.41" y1="18.00" x2="300.41" y2="21.00" stroke="#3a3a3a" stroke-width="0.9" />
<line x1="284.45" y1="17.00" x2="296.42" y2="17.00" stroke="#3a3a3a" stroke-width="0.9" />
<line x1="284.45" y1="17.00" x2="284.45" y2="21.00" stroke="#3a3a3a" stroke-width="0.9" />
<line x1="296.42" y1="17.00" x2="296.42" y2="18.00" stroke="#3a3a3a" stroke-width="0.9" />
<line x1="316.37" y1="18.50" x2="324.35" y2="18.50" stroke="#3a3a3a" stroke-width="0.9" />
<line x1="316.37" y1="18.50" x2="316.37" y2="21.00" stroke="#3a3a3a" stroke-width="0.9" />
<line x1="324.35" y1="18.50" x2="324.35" y2="21.00" stroke="#3a3a3a" stroke-width="0.9" />
<line x1="308.39" y1="17.70" x2="320.36" y2="17.70" stroke="#3a3a3a" stroke-width="0.9" />
<line x1="308.39" y1="17.70" x2="308.39" y2="21.00" stroke="#3a3a3a" stroke-width="0.9" />
<line x1="320.36" y1="17.70" x2="320.36" y2="18.50" stroke="#3a3a3a" stroke-width="0.9" />
<line x1="340.31" y1="19.50" x2="348.29" y2="19.50" stroke="#3a3a3a" stroke-width="0.9" />
<line x1="340.31" y1="19.50" x2="340.31" y2="21.00" stroke="#3a3a3a" stroke-width="0.9" />
<line x1="348.29" y1="19.50" x2="348.29" y2="21.00" stroke="#3a3a3a" stroke-width="0.9" />
<line x1="344.30" y1="18.80" x2="356.27" y2="18.80" stroke="#3a3a3a" stroke-width="0.9" />
<line x1="344.30" y1="18.80" x2="344.30" y2="19.50" stroke="#3a3a3a" stroke-width="0.9" />
<line x1="356.27" y1="18.80" x2="356.27" y2="21.00" stroke="#3a3a3a" stroke-width="0.9" />
<line x1="332.33" y1="18.10" x2="350.28" y2="18.10" stroke="#3a3a3a" stroke-width="0.9" />
<line x1="332.33" y1="18.10" x2="332.33" y2="21.00" stroke="#3a3a3a" stroke-width="0.9" />
<line x1="350.28" y1="18.10" x2="350.28" y2="18.80" stroke="#3a3a3a" stroke-width="0.9" />
<line x1="364.25" y1="19.20" x2="372.23" y2="19.20" stroke="#3a3a3a" stroke-width="0.9" />
<line x1="364.25" y1="19.20" x2="364.25" y2="21.00" stroke="#3a3a3a" stroke-width="0.9" />
<line x1="372.23" y1="19.20" x2="372.23" y2="21.00" stroke="#3a3a3a" stroke-width="0.9" />
<line x1="341.31" y1="17.30" x2="368.24" y2="17.30" stroke="#3a3a3a" stroke-width="0.9" />
<line x1="341.31" y1="17.30" x2="341.31" y2="18.10" stroke="#3a3a3a" stroke-width="0.9" />
<line x1="368.24" y1="17.30" x2="368.24" y2="19.20" stroke="#3a3a3a" stroke-width="0.9" />
<line x1="314.38" y1="16.20" x2="354.77" y2="16.20" stroke="#3a3a3a" stroke-width="0.9" />
<line x1="314.38" y1="16.20" x2="314.38" y2="17.70" stroke="#3a3a3a" stroke-width="0.9" />
<line x1="354.77" y1="16.20" x2="354.77" y2="17.30" stroke="#3a3a3a" stroke-width="0.9" />
<line x1="290.44" y1="14.20" x2="334.57" y2="14.20" stroke="#3a3a3a" stroke-width="0.9" />
<line x1="290.44" y1="14.20" x2="290.44" y2="17.00" stroke="#3a3a3a" stroke-width="0.9" />
<line x1="334.57" y1="14.20" x2="334.57" y2="16.20" stroke="#3a3a3a" stroke-width="0.9" />
<line x1="272.48" y1="13.80" x2="312.50" y2="13.80" stroke="#3a3a3a" stroke-width="0.9" />
<line x1="272.48" y1="13.80" x2="272.48" y2="16.40" stroke="#3a3a3a" stroke-width="0.9" />
<line x1="312.50" y1="13.80" x2="312.50" y2="14.20" stroke="#3a3a3a" stroke-width="0.9" />
<line x1="396.17" y1="19.00" x2="404.15" y2="19.00" stroke="#3a3a3a" stroke-width="0.9" />
<line x1="396.17" y1="19.00" x2="396.17" y2="21.00" stroke="#3a3a3a" stroke-width="0.9" />
<line x1="404.15" y1="19.00" x2="404.15" y2="21.00" stroke="#3a3a3a" stroke-width="0.9" />
<line x1="388.19" y1="18.00" x2="400.16" y2="18.00" stroke="#3a3a3a" stroke-width="0.9" />
<line x1="388.19" y1="18.00" x2="388.19" y2="21.00" stroke="#3a3a3a" stroke-width="0.9" />
<line x1="400.16" y1="18.00" x2="400.16" y2="19.00" stroke="#3a3a3a" stroke-width="0.9" />
<line x1="380.21" y1="17.20" x2="394.17" y2="17.20" stroke="#3a3a3a" stroke-width="0.9" />
<line x1="380.21" y1="17.20" x2="380.21" y2="21.00" stroke="#3a3a3a" stroke-width="0.9" />
<line x1="394.17" y1="17.20" x2="394.17" y2="18.00" stroke="#3a3a3a" stroke-width="0.9" />
<line x1="412.13" y1="19.50" x2="420.11" y2="19.50" stroke="#3a3a3a" stroke-width="0.9" />
<line x1="412.13" y1="19.50" x2="412.13" y2="21.00" stroke="#3a3a3a" stroke-width="0.9" />
<line x1="420.11" y1="19.50" x2="420.11" y2="21.00" stroke="#3a3a3a" stroke-width="0.9" />
<line x1="436.07" y1="18.60" x2="444.05" y2="18.60" stroke="#3a3a3a" stroke-width="0.9" />
<line x1="436.07" y1="18.60" x2="436.07" y2="21.00" stroke="#3a3a3a" stroke-width="0.9" />
<line x1="444.05" y1="18.60" x2="444.05" y2="21.00" stroke="#3a3a3a" stroke-width="0.9" />
<line x1="428.09" y1="17.50" x2="440.06" y2="17.50" stroke="#3a3a3a" stroke-width="0.9" />
<line x1="428.09" y1="17.50" x2="428.09" y2="21.00" stroke="#3a3a3a" stroke-width="0.9" />
<line x1="440.06" y1="17.50" x2="440.06" y2="18.60" stroke="#3a3a3a" stroke-width="0.9" />
<line x1="416.12" y1="15.30" x2="434.08" y2="15.30" stroke="#3a3a3a" stroke-width="0.9" />
<line x1="416.12" y1="15.30" x2="416.12" y2="19.50" stroke="#3a3a3a" stroke-width="0.9" />
<line x1="434.08" y1="15.30" x2="434.08" y2="17.50" stroke="#3a3a3a" stroke-width="0.9" />
<line x1="460.01" y1="17.30" x2="467.99" y2="17.30" stroke="#3a3a3a" stroke-width="0.9" />
<line x1="460.01" y1="17.30" x2="460.01" y2="21.00" stroke="#3a3a3a" stroke-width="0.9" />
<line x1="467.99" y1="17.30" x2="467.99" y2="21.00" stroke="#3a3a3a" stroke-width="0.9" />
<line x1="452.03" y1="14.60" x2="464.00" y2="14.60" stroke="#3a3a3a" stroke-width="0.9" />
<line x1="452.03" y1="14.60" x2="452.03" y2="21.00" stroke="#3a3a3a" stroke-width="0.9" />
<line x1="464.00" y1="14.60" x2="464.00" y2="17.30" stroke="#3a3a3a" stroke-width="0.9" />
<line x1="425.10" y1="14.40" x2="458.01" y2="14.40" stroke="#3a3a3a" stroke-width="0.9" />
<line x1="425.10" y1="14.40" x2="425.10" y2="15.30" stroke="#3a3a3a" stroke-width="0.9" />
<line x1="458.01" y1="14.40" x2="458.01" y2="14.60" stroke="#3a3a3a" stroke-width="0.9" />
<line x1="387.19" y1="12.20" x2="441.56" y2="12.20" stroke="#3a3a3a" stroke-width="0.9" />
<line x1="387.19" y1="12.20" x2="387.19" y2="17.20" stroke="#3a3a3a" stroke-width="0.9" />
<line x1="441.56" y1="12.20" x2="441.56" y2="14.40" stroke="#3a3a3a" stroke-width="0.9" />
<line x1="292.49" y1="1.50" x2="414.37" y2="1.50" stroke="#3a3a3a" stroke-width="0.9" />
<line x1="292.49" y1="1.50" x2="292.49" y2="13.80" stroke="#3a3a3a" stroke-width="0.9" />
<line x1="414.37" y1="1.50" x2="414.37" y2="12.20" stroke="#3a3a3a" stroke-width="0.9" />
<line x1="29.40" y1="261.50" x2="29.40" y2="382.80" stroke="#231f20" stroke-width="1.1" />
<line x1="28.90" y1="382.30" x2="153.50" y2="382.30" stroke="#231f20" stroke-width="1.1" />
<line x1="26.20" y1="382.30" x2="29.40" y2="382.30" stroke="#231f20" stroke-width="1" />
<text x="24.0" y="385.0" font-size="7.6" text-anchor="end" font-weight="normal" fill="#231f20" stroke="#231f20" stroke-width="0.15" >0</text>
<line x1="26.20" y1="353.40" x2="29.40" y2="353.40" stroke="#231f20" stroke-width="1" />
<text x="24.0" y="356.1" font-size="7.6" text-anchor="end" font-weight="normal" fill="#231f20" stroke="#231f20" stroke-width="0.15" >20</text>
<line x1="26.20" y1="324.50" x2="29.40" y2="324.50" stroke="#231f20" stroke-width="1" />
<text x="24.0" y="327.2" font-size="7.6" text-anchor="end" font-weight="normal" fill="#231f20" stroke="#231f20" stroke-width="0.15" >40</text>
<line x1="26.20" y1="295.60" x2="29.40" y2="295.60" stroke="#231f20" stroke-width="1" />
<text x="24.0" y="298.3" font-size="7.6" text-anchor="end" font-weight="normal" fill="#231f20" stroke="#231f20" stroke-width="0.15" >60</text>
<line x1="26.20" y1="266.70" x2="29.40" y2="266.70" stroke="#231f20" stroke-width="1" />
<text x="24.0" y="269.4" font-size="7.6" text-anchor="end" font-weight="normal" fill="#231f20" stroke="#231f20" stroke-width="0.15" >80</text>
<line x1="29.40" y1="382.30" x2="29.40" y2="385.30" stroke="#231f20" stroke-width="1" />
<text x="29.4" y="394.3" font-size="7.6" text-anchor="middle" font-weight="normal" fill="#231f20" stroke="#231f20" stroke-width="0.15" >1</text>
<line x1="69.70" y1="382.30" x2="69.70" y2="385.30" stroke="#231f20" stroke-width="1" />
<text x="69.69999999999999" y="394.3" font-size="7.6" text-anchor="middle" font-weight="normal" fill="#231f20" stroke="#231f20" stroke-width="0.15" >2</text>
<line x1="110.00" y1="382.30" x2="110.00" y2="385.30" stroke="#231f20" stroke-width="1" />
<text x="110.0" y="394.3" font-size="7.6" text-anchor="middle" font-weight="normal" fill="#231f20" stroke="#231f20" stroke-width="0.15" >3</text>
<line x1="150.30" y1="382.30" x2="150.30" y2="385.30" stroke="#231f20" stroke-width="1" />
<text x="150.29999999999998" y="394.3" font-size="7.6" text-anchor="middle" font-weight="normal" fill="#231f20" stroke="#231f20" stroke-width="0.15" >4</text>
<text transform="translate(92,407.1) scale(0.83,1)" font-size="8.3" text-anchor="middle" fill="#231f20" stroke="#231f20" stroke-width="0.3">Suba (log [nM])</text>
<text transform="translate(7.6,322.5) rotate(-90) scale(0.83,1)" font-size="8.3" text-anchor="middle" fill="#231f20" stroke="#231f20" stroke-width="0.3">Viability (%)</text>
<path d="M53.58,293.13 L55.22,294.35 L56.86,295.56 L58.50,296.76 L60.14,297.95 L61.78,299.14 L63.42,300.32 L65.06,301.50 L66.69,302.66 L68.33,303.82 L69.97,304.98 L71.61,306.12 L73.25,307.26 L74.89,308.40 L76.53,309.52 L78.17,310.64 L79.81,311.76 L81.45,312.86 L83.09,313.96 L84.73,315.06 L86.37,316.14 L88.01,317.23 L89.65,318.30 L91.28,319.37 L92.92,320.43 L94.56,321.49 L96.20,322.54 L97.84,323.58 L99.48,324.62 L101.12,325.65 L102.76,326.67 L104.40,327.69 L106.04,328.70 L107.68,329.71 L109.32,330.71 L110.96,331.71 L112.60,332.70 L114.23,333.68 L115.87,334.66 L117.51,335.63 L119.15,336.60 L120.79,337.56 L122.43,338.51 L124.07,339.46 L125.71,340.41 L127.35,341.34 L128.99,342.28 L130.63,343.20 L132.27,344.13 L133.91,345.04 L135.55,345.95 L137.19,346.86 L138.82,347.76 L140.46,348.65 L142.10,349.54 L143.74,350.43 L145.38,351.31 L147.02,352.18 L148.66,353.05 L150.30,353.91" fill="none" stroke="#4cb151" stroke-width="1.3"/>
<path d="M53.58,297.27 L55.22,297.98 L56.86,298.69 L58.50,299.38 L60.14,300.06 L61.78,300.74 L63.42,301.40 L65.06,302.06 L66.69,302.70 L68.33,303.34 L69.97,303.97 L71.61,304.59 L73.25,305.20 L74.89,305.81 L76.53,306.40 L78.17,306.99 L79.81,307.57 L81.45,308.14 L83.09,308.71 L84.73,309.26 L86.37,309.81 L88.01,310.35 L89.65,310.89 L91.28,311.41 L92.92,311.93 L94.56,312.45 L96.20,312.95 L97.84,313.45 L99.48,313.94 L101.12,314.43 L102.76,314.91 L104.40,315.38 L106.04,315.84 L107.68,316.30 L109.32,316.76 L110.96,317.20 L112.60,317.65 L114.23,318.08 L115.87,318.51 L117.51,318.93 L119.15,319.35 L120.79,319.76 L122.43,320.17 L124.07,320.57 L125.71,320.97 L127.35,321.36 L128.99,321.74 L130.63,322.12 L132.27,322.49 L133.91,322.86 L135.55,323.23 L137.19,323.59 L138.82,323.94 L140.46,324.29 L142.10,324.64 L143.74,324.98 L145.38,325.31 L147.02,325.64 L148.66,325.97 L150.30,326.29" fill="none" stroke="#5a1d6a" stroke-width="1.3"/>
<path d="M53.58,278.75 L55.22,280.91 L56.86,282.99 L58.50,285.01 L60.14,286.95 L61.78,288.82 L63.42,290.64 L65.06,292.39 L66.69,294.07 L68.33,295.70 L69.97,297.28 L71.61,298.80 L73.25,300.27 L74.89,301.68 L76.53,303.05 L78.17,304.37 L79.81,305.65 L81.45,306.88 L83.09,308.07 L84.73,309.22 L86.37,310.33 L88.01,311.40 L89.65,312.43 L91.28,313.43 L92.92,314.39 L94.56,315.32 L96.20,316.22 L97.84,317.09 L99.48,317.92 L101.12,318.73 L102.76,319.51 L104.40,320.26 L106.04,320.99 L107.68,321.69 L109.32,322.37 L110.96,323.03 L112.60,323.66 L114.23,324.27 L115.87,324.86 L117.51,325.43 L119.15,325.98 L120.79,326.51 L122.43,327.02 L124.07,327.52 L125.71,327.99 L127.35,328.46 L128.99,328.90 L130.63,329.33 L132.27,329.75 L133.91,330.15 L135.55,330.53 L137.19,330.91 L138.82,331.27 L140.46,331.62 L142.10,331.95 L143.74,332.28 L145.38,332.59 L147.02,332.89 L148.66,333.18 L150.30,333.47" fill="none" stroke="#c4173d" stroke-width="1.3"/>
<path d="M53.58,284.27 L55.22,287.25 L56.86,290.32 L58.50,293.47 L60.14,296.67 L61.78,299.91 L63.42,303.18 L65.06,306.44 L66.69,309.69 L68.33,312.90 L69.97,316.06 L71.61,319.14 L73.25,322.14 L74.89,325.04 L76.53,327.83 L78.17,330.50 L79.81,333.04 L81.45,335.45 L83.09,337.72 L84.73,339.86 L86.37,341.86 L88.01,343.73 L89.65,345.46 L91.28,347.07 L92.92,348.55 L94.56,349.92 L96.20,351.18 L97.84,352.33 L99.48,353.39 L101.12,354.36 L102.76,355.24 L104.40,356.04 L106.04,356.77 L107.68,357.43 L109.32,358.03 L110.96,358.57 L112.60,359.06 L114.23,359.51 L115.87,359.91 L117.51,360.27 L119.15,360.60 L120.79,360.89 L122.43,361.16 L124.07,361.40 L125.71,361.61 L127.35,361.81 L128.99,361.98 L130.63,362.14 L132.27,362.28 L133.91,362.41 L135.55,362.52 L137.19,362.62 L138.82,362.71 L140.46,362.80 L142.10,362.87 L143.74,362.94 L145.38,363.00 L147.02,363.05 L148.66,363.10 L150.30,363.14" fill="none" stroke="#f5951f" stroke-width="1.3"/>
<path d="M53.58,314.05 L55.22,317.45 L56.86,320.58 L58.50,323.44 L60.14,326.08 L61.78,328.50 L63.42,330.72 L65.06,332.76 L66.69,334.64 L68.33,336.36 L69.97,337.94 L71.61,339.39 L73.25,340.72 L74.89,341.95 L76.53,343.07 L78.17,344.10 L79.81,345.05 L81.45,345.92 L83.09,346.72 L84.73,347.45 L86.37,348.13 L88.01,348.75 L89.65,349.32 L91.28,349.84 L92.92,350.32 L94.56,350.76 L96.20,351.16 L97.84,351.53 L99.48,351.87 L101.12,352.19 L102.76,352.48 L104.40,352.74 L106.04,352.98 L107.68,353.21 L109.32,353.41 L110.96,353.60 L112.60,353.77 L114.23,353.93 L115.87,354.07 L117.51,354.21 L119.15,354.33 L120.79,354.44 L122.43,354.55 L124.07,354.64 L125.71,354.73 L127.35,354.81 L128.99,354.88 L130.63,354.95 L132.27,355.01 L133.91,355.07 L135.55,355.12 L137.19,355.17 L138.82,355.21 L140.46,355.25 L142.10,355.29 L143.74,355.33 L145.38,355.36 L147.02,355.39 L148.66,355.41 L150.30,355.44" fill="none" stroke="#1f4f8a" stroke-width="1.3"/>
<line x1="53.58" y1="272.48" x2="53.58" y2="310.05" stroke="#4cb151" stroke-width="0.9" />
<line x1="52.08" y1="272.48" x2="55.08" y2="272.48" stroke="#4cb151" stroke-width="0.9" />
<line x1="52.08" y1="310.05" x2="55.08" y2="310.05" stroke="#4cb151" stroke-width="0.9" />
<circle cx="53.58" cy="291.26" r="2.3" fill="#4cb151"/>
<line x1="65.67" y1="296.76" x2="65.67" y2="308.32" stroke="#4cb151" stroke-width="0.9" />
<line x1="64.17" y1="296.76" x2="67.17" y2="296.76" stroke="#4cb151" stroke-width="0.9" />
<line x1="64.17" y1="308.32" x2="67.17" y2="308.32" stroke="#4cb151" stroke-width="0.9" />
<circle cx="65.67" cy="302.54" r="2.3" fill="#4cb151"/>
<line x1="77.76" y1="306.44" x2="77.76" y2="320.89" stroke="#4cb151" stroke-width="0.9" />
<line x1="76.26" y1="306.44" x2="79.26" y2="306.44" stroke="#4cb151" stroke-width="0.9" />
<line x1="76.26" y1="320.89" x2="79.26" y2="320.89" stroke="#4cb151" stroke-width="0.9" />
<circle cx="77.76" cy="313.66" r="2.3" fill="#4cb151"/>
<line x1="89.85" y1="306.44" x2="89.85" y2="329.56" stroke="#4cb151" stroke-width="0.9" />
<line x1="88.35" y1="306.44" x2="91.35" y2="306.44" stroke="#4cb151" stroke-width="0.9" />
<line x1="88.35" y1="329.56" x2="91.35" y2="329.56" stroke="#4cb151" stroke-width="0.9" />
<circle cx="89.85" cy="318.00" r="2.3" fill="#4cb151"/>
<line x1="101.94" y1="321.18" x2="101.94" y2="332.74" stroke="#4cb151" stroke-width="0.9" />
<line x1="100.44" y1="321.18" x2="103.44" y2="321.18" stroke="#4cb151" stroke-width="0.9" />
<line x1="100.44" y1="332.74" x2="103.44" y2="332.74" stroke="#4cb151" stroke-width="0.9" />
<circle cx="101.94" cy="326.96" r="2.3" fill="#4cb151"/>
<line x1="114.03" y1="324.50" x2="114.03" y2="338.95" stroke="#4cb151" stroke-width="0.9" />
<line x1="112.53" y1="324.50" x2="115.53" y2="324.50" stroke="#4cb151" stroke-width="0.9" />
<line x1="112.53" y1="338.95" x2="115.53" y2="338.95" stroke="#4cb151" stroke-width="0.9" />
<circle cx="114.03" cy="331.73" r="2.3" fill="#4cb151"/>
<line x1="126.12" y1="330.86" x2="126.12" y2="345.31" stroke="#4cb151" stroke-width="0.9" />
<line x1="124.62" y1="330.86" x2="127.62" y2="330.86" stroke="#4cb151" stroke-width="0.9" />
<line x1="124.62" y1="345.31" x2="127.62" y2="345.31" stroke="#4cb151" stroke-width="0.9" />
<circle cx="126.12" cy="338.08" r="2.3" fill="#4cb151"/>
<line x1="138.21" y1="342.13" x2="138.21" y2="353.69" stroke="#4cb151" stroke-width="0.9" />
<line x1="136.71" y1="342.13" x2="139.71" y2="342.13" stroke="#4cb151" stroke-width="0.9" />
<line x1="136.71" y1="353.69" x2="139.71" y2="353.69" stroke="#4cb151" stroke-width="0.9" />
<circle cx="138.21" cy="347.91" r="2.3" fill="#4cb151"/>
<line x1="150.30" y1="349.64" x2="150.30" y2="361.20" stroke="#4cb151" stroke-width="0.9" />
<line x1="148.80" y1="349.64" x2="151.80" y2="349.64" stroke="#4cb151" stroke-width="0.9" />
<line x1="148.80" y1="361.20" x2="151.80" y2="361.20" stroke="#4cb151" stroke-width="0.9" />
<circle cx="150.30" cy="355.42" r="2.3" fill="#4cb151"/>
<line x1="53.58" y1="293.29" x2="53.58" y2="299.07" stroke="#5a1d6a" stroke-width="0.9" />
<line x1="52.08" y1="293.29" x2="55.08" y2="293.29" stroke="#5a1d6a" stroke-width="0.9" />
<line x1="52.08" y1="299.07" x2="55.08" y2="299.07" stroke="#5a1d6a" stroke-width="0.9" />
<circle cx="53.58" cy="296.18" r="2.3" fill="#5a1d6a"/>
<line x1="65.67" y1="299.07" x2="65.67" y2="304.85" stroke="#5a1d6a" stroke-width="0.9" />
<line x1="64.17" y1="299.07" x2="67.17" y2="299.07" stroke="#5a1d6a" stroke-width="0.9" />
<line x1="64.17" y1="304.85" x2="67.17" y2="304.85" stroke="#5a1d6a" stroke-width="0.9" />
<circle cx="65.67" cy="301.96" r="2.3" fill="#5a1d6a"/>
<line x1="77.76" y1="305.72" x2="77.76" y2="311.50" stroke="#5a1d6a" stroke-width="0.9" />
<line x1="76.26" y1="305.72" x2="79.26" y2="305.72" stroke="#5a1d6a" stroke-width="0.9" />
<line x1="76.26" y1="311.50" x2="79.26" y2="311.50" stroke="#5a1d6a" stroke-width="0.9" />
<circle cx="77.76" cy="308.61" r="2.3" fill="#5a1d6a"/>
<line x1="89.85" y1="308.61" x2="89.85" y2="317.27" stroke="#5a1d6a" stroke-width="0.9" />
<line x1="88.35" y1="308.61" x2="91.35" y2="308.61" stroke="#5a1d6a" stroke-width="0.9" />
<line x1="88.35" y1="317.27" x2="91.35" y2="317.27" stroke="#5a1d6a" stroke-width="0.9" />
<circle cx="89.85" cy="312.94" r="2.3" fill="#5a1d6a"/>
<line x1="101.94" y1="311.21" x2="101.94" y2="318.43" stroke="#5a1d6a" stroke-width="0.9" />
<line x1="100.44" y1="311.21" x2="103.44" y2="311.21" stroke="#5a1d6a" stroke-width="0.9" />
<line x1="100.44" y1="318.43" x2="103.44" y2="318.43" stroke="#5a1d6a" stroke-width="0.9" />
<circle cx="101.94" cy="314.82" r="2.3" fill="#5a1d6a"/>
<line x1="114.03" y1="310.77" x2="114.03" y2="325.22" stroke="#5a1d6a" stroke-width="0.9" />
<line x1="112.53" y1="310.77" x2="115.53" y2="310.77" stroke="#5a1d6a" stroke-width="0.9" />
<line x1="112.53" y1="325.22" x2="115.53" y2="325.22" stroke="#5a1d6a" stroke-width="0.9" />
<circle cx="114.03" cy="318.00" r="2.3" fill="#5a1d6a"/>
<line x1="126.12" y1="307.45" x2="126.12" y2="327.68" stroke="#5a1d6a" stroke-width="0.9" />
<line x1="124.62" y1="307.45" x2="127.62" y2="307.45" stroke="#5a1d6a" stroke-width="0.9" />
<line x1="124.62" y1="327.68" x2="127.62" y2="327.68" stroke="#5a1d6a" stroke-width="0.9" />
<circle cx="126.12" cy="317.56" r="2.3" fill="#5a1d6a"/>
<line x1="138.21" y1="313.37" x2="138.21" y2="327.82" stroke="#5a1d6a" stroke-width="0.9" />
<line x1="136.71" y1="313.37" x2="139.71" y2="313.37" stroke="#5a1d6a" stroke-width="0.9" />
<line x1="136.71" y1="327.82" x2="139.71" y2="327.82" stroke="#5a1d6a" stroke-width="0.9" />
<circle cx="138.21" cy="320.60" r="2.3" fill="#5a1d6a"/>
<line x1="150.30" y1="321.90" x2="150.30" y2="339.24" stroke="#5a1d6a" stroke-width="0.9" />
<line x1="148.80" y1="321.90" x2="151.80" y2="321.90" stroke="#5a1d6a" stroke-width="0.9" />
<line x1="148.80" y1="339.24" x2="151.80" y2="339.24" stroke="#5a1d6a" stroke-width="0.9" />
<circle cx="150.30" cy="330.57" r="2.3" fill="#5a1d6a"/>
<line x1="53.58" y1="274.94" x2="53.58" y2="282.16" stroke="#c4173d" stroke-width="0.9" />
<line x1="52.08" y1="274.94" x2="55.08" y2="274.94" stroke="#c4173d" stroke-width="0.9" />
<line x1="52.08" y1="282.16" x2="55.08" y2="282.16" stroke="#c4173d" stroke-width="0.9" />
<circle cx="53.58" cy="278.55" r="2.3" fill="#c4173d"/>
<line x1="65.67" y1="287.36" x2="65.67" y2="291.70" stroke="#c4173d" stroke-width="0.9" />
<line x1="64.17" y1="287.36" x2="67.17" y2="287.36" stroke="#c4173d" stroke-width="0.9" />
<line x1="64.17" y1="291.70" x2="67.17" y2="291.70" stroke="#c4173d" stroke-width="0.9" />
<circle cx="65.67" cy="289.53" r="2.3" fill="#c4173d"/>
<line x1="77.76" y1="306.44" x2="77.76" y2="312.22" stroke="#c4173d" stroke-width="0.9" />
<line x1="76.26" y1="306.44" x2="79.26" y2="306.44" stroke="#c4173d" stroke-width="0.9" />
<line x1="76.26" y1="312.22" x2="79.26" y2="312.22" stroke="#c4173d" stroke-width="0.9" />
<circle cx="77.76" cy="309.33" r="2.3" fill="#c4173d"/>
<line x1="89.85" y1="314.10" x2="89.85" y2="319.88" stroke="#c4173d" stroke-width="0.9" />
<line x1="88.35" y1="314.10" x2="91.35" y2="314.10" stroke="#c4173d" stroke-width="0.9" />
<line x1="88.35" y1="319.88" x2="91.35" y2="319.88" stroke="#c4173d" stroke-width="0.9" />
<circle cx="89.85" cy="316.99" r="2.3" fill="#c4173d"/>
<line x1="101.94" y1="312.65" x2="101.94" y2="319.88" stroke="#c4173d" stroke-width="0.9" />
<line x1="100.44" y1="312.65" x2="103.44" y2="312.65" stroke="#c4173d" stroke-width="0.9" />
<line x1="100.44" y1="319.88" x2="103.44" y2="319.88" stroke="#c4173d" stroke-width="0.9" />
<circle cx="101.94" cy="316.26" r="2.3" fill="#c4173d"/>
<line x1="114.03" y1="318.43" x2="114.03" y2="324.21" stroke="#c4173d" stroke-width="0.9" />
<line x1="112.53" y1="318.43" x2="115.53" y2="318.43" stroke="#c4173d" stroke-width="0.9" />
<line x1="112.53" y1="324.21" x2="115.53" y2="324.21" stroke="#c4173d" stroke-width="0.9" />
<circle cx="114.03" cy="321.32" r="2.3" fill="#c4173d"/>
<line x1="126.12" y1="321.18" x2="126.12" y2="326.96" stroke="#c4173d" stroke-width="0.9" />
<line x1="124.62" y1="321.18" x2="127.62" y2="321.18" stroke="#c4173d" stroke-width="0.9" />
<line x1="124.62" y1="326.96" x2="127.62" y2="326.96" stroke="#c4173d" stroke-width="0.9" />
<circle cx="126.12" cy="324.07" r="2.3" fill="#c4173d"/>
<line x1="138.21" y1="324.79" x2="138.21" y2="332.01" stroke="#c4173d" stroke-width="0.9" />
<line x1="136.71" y1="324.79" x2="139.71" y2="324.79" stroke="#c4173d" stroke-width="0.9" />
<line x1="136.71" y1="332.01" x2="139.71" y2="332.01" stroke="#c4173d" stroke-width="0.9" />
<circle cx="138.21" cy="328.40" r="2.3" fill="#c4173d"/>
<line x1="150.30" y1="336.35" x2="150.30" y2="343.57" stroke="#c4173d" stroke-width="0.9" />
<line x1="148.80" y1="336.35" x2="151.80" y2="336.35" stroke="#c4173d" stroke-width="0.9" />
<line x1="148.80" y1="343.57" x2="151.80" y2="343.57" stroke="#c4173d" stroke-width="0.9" />
<circle cx="150.30" cy="339.96" r="2.3" fill="#c4173d"/>
<line x1="53.58" y1="281.15" x2="53.58" y2="286.93" stroke="#f5951f" stroke-width="0.9" />
<line x1="52.08" y1="281.15" x2="55.08" y2="281.15" stroke="#f5951f" stroke-width="0.9" />
<line x1="52.08" y1="286.93" x2="55.08" y2="286.93" stroke="#f5951f" stroke-width="0.9" />
<circle cx="53.58" cy="284.04" r="2.3" fill="#f5951f"/>
<line x1="65.67" y1="305.72" x2="65.67" y2="311.50" stroke="#f5951f" stroke-width="0.9" />
<line x1="64.17" y1="305.72" x2="67.17" y2="305.72" stroke="#f5951f" stroke-width="0.9" />
<line x1="64.17" y1="311.50" x2="67.17" y2="311.50" stroke="#f5951f" stroke-width="0.9" />
<circle cx="65.67" cy="308.61" r="2.3" fill="#f5951f"/>
<line x1="77.76" y1="326.09" x2="77.76" y2="330.42" stroke="#f5951f" stroke-width="0.9" />
<line x1="76.26" y1="326.09" x2="79.26" y2="326.09" stroke="#f5951f" stroke-width="0.9" />
<line x1="76.26" y1="330.42" x2="79.26" y2="330.42" stroke="#f5951f" stroke-width="0.9" />
<circle cx="77.76" cy="328.26" r="2.3" fill="#f5951f"/>
<line x1="89.85" y1="341.84" x2="89.85" y2="350.51" stroke="#f5951f" stroke-width="0.9" />
<line x1="88.35" y1="341.84" x2="91.35" y2="341.84" stroke="#f5951f" stroke-width="0.9" />
<line x1="88.35" y1="350.51" x2="91.35" y2="350.51" stroke="#f5951f" stroke-width="0.9" />
<circle cx="89.85" cy="346.18" r="2.3" fill="#f5951f"/>
<line x1="101.94" y1="354.56" x2="101.94" y2="358.89" stroke="#f5951f" stroke-width="0.9" />
<line x1="100.44" y1="354.56" x2="103.44" y2="354.56" stroke="#f5951f" stroke-width="0.9" />
<line x1="100.44" y1="358.89" x2="103.44" y2="358.89" stroke="#f5951f" stroke-width="0.9" />
<circle cx="101.94" cy="356.72" r="2.3" fill="#f5951f"/>
<line x1="114.03" y1="356.58" x2="114.03" y2="360.91" stroke="#f5951f" stroke-width="0.9" />
<line x1="112.53" y1="356.58" x2="115.53" y2="356.58" stroke="#f5951f" stroke-width="0.9" />
<line x1="112.53" y1="360.91" x2="115.53" y2="360.91" stroke="#f5951f" stroke-width="0.9" />
<circle cx="114.03" cy="358.75" r="2.3" fill="#f5951f"/>
<line x1="126.12" y1="356.87" x2="126.12" y2="361.20" stroke="#f5951f" stroke-width="0.9" />
<line x1="124.62" y1="356.87" x2="127.62" y2="356.87" stroke="#f5951f" stroke-width="0.9" />
<line x1="124.62" y1="361.20" x2="127.62" y2="361.20" stroke="#f5951f" stroke-width="0.9" />
<circle cx="126.12" cy="359.04" r="2.3" fill="#f5951f"/>
<line x1="138.21" y1="360.91" x2="138.21" y2="365.25" stroke="#f5951f" stroke-width="0.9" />
<line x1="136.71" y1="360.91" x2="139.71" y2="360.91" stroke="#f5951f" stroke-width="0.9" />
<line x1="136.71" y1="365.25" x2="139.71" y2="365.25" stroke="#f5951f" stroke-width="0.9" />
<circle cx="138.21" cy="363.08" r="2.3" fill="#f5951f"/>
<line x1="150.30" y1="361.64" x2="150.30" y2="367.42" stroke="#f5951f" stroke-width="0.9" />
<line x1="148.80" y1="361.64" x2="151.80" y2="361.64" stroke="#f5951f" stroke-width="0.9" />
<line x1="148.80" y1="367.42" x2="151.80" y2="367.42" stroke="#f5951f" stroke-width="0.9" />
<circle cx="150.30" cy="364.53" r="2.3" fill="#f5951f"/>
<line x1="53.58" y1="310.05" x2="53.58" y2="317.27" stroke="#1f4f8a" stroke-width="0.9" />
<line x1="52.08" y1="310.05" x2="55.08" y2="310.05" stroke="#1f4f8a" stroke-width="0.9" />
<line x1="52.08" y1="317.27" x2="55.08" y2="317.27" stroke="#1f4f8a" stroke-width="0.9" />
<circle cx="53.58" cy="313.66" r="2.3" fill="#1f4f8a"/>
<line x1="65.67" y1="331.15" x2="65.67" y2="336.93" stroke="#1f4f8a" stroke-width="0.9" />
<line x1="64.17" y1="331.15" x2="67.17" y2="331.15" stroke="#1f4f8a" stroke-width="0.9" />
<line x1="64.17" y1="336.93" x2="67.17" y2="336.93" stroke="#1f4f8a" stroke-width="0.9" />
<circle cx="65.67" cy="334.04" r="2.3" fill="#1f4f8a"/>
<line x1="77.76" y1="341.84" x2="77.76" y2="347.62" stroke="#1f4f8a" stroke-width="0.9" />
<line x1="76.26" y1="341.84" x2="79.26" y2="341.84" stroke="#1f4f8a" stroke-width="0.9" />
<line x1="76.26" y1="347.62" x2="79.26" y2="347.62" stroke="#1f4f8a" stroke-width="0.9" />
<circle cx="77.76" cy="344.73" r="2.3" fill="#1f4f8a"/>
<line x1="89.85" y1="347.91" x2="89.85" y2="352.24" stroke="#1f4f8a" stroke-width="0.9" />
<line x1="88.35" y1="347.91" x2="91.35" y2="347.91" stroke="#1f4f8a" stroke-width="0.9" />
<line x1="88.35" y1="352.24" x2="91.35" y2="352.24" stroke="#1f4f8a" stroke-width="0.9" />
<circle cx="89.85" cy="350.08" r="2.3" fill="#1f4f8a"/>
<line x1="101.94" y1="346.61" x2="101.94" y2="353.83" stroke="#1f4f8a" stroke-width="0.9" />
<line x1="100.44" y1="346.61" x2="103.44" y2="346.61" stroke="#1f4f8a" stroke-width="0.9" />
<line x1="100.44" y1="353.83" x2="103.44" y2="353.83" stroke="#1f4f8a" stroke-width="0.9" />
<circle cx="101.94" cy="350.22" r="2.3" fill="#1f4f8a"/>
<line x1="114.03" y1="349.79" x2="114.03" y2="354.12" stroke="#1f4f8a" stroke-width="0.9" />
<line x1="112.53" y1="349.79" x2="115.53" y2="349.79" stroke="#1f4f8a" stroke-width="0.9" />
<line x1="112.53" y1="354.12" x2="115.53" y2="354.12" stroke="#1f4f8a" stroke-width="0.9" />
<circle cx="114.03" cy="351.95" r="2.3" fill="#1f4f8a"/>
<line x1="126.12" y1="351.81" x2="126.12" y2="354.70" stroke="#1f4f8a" stroke-width="0.9" />
<line x1="124.62" y1="351.81" x2="127.62" y2="351.81" stroke="#1f4f8a" stroke-width="0.9" />
<line x1="124.62" y1="354.70" x2="127.62" y2="354.70" stroke="#1f4f8a" stroke-width="0.9" />
<circle cx="126.12" cy="353.26" r="2.3" fill="#1f4f8a"/>
<line x1="138.21" y1="353.83" x2="138.21" y2="356.72" stroke="#1f4f8a" stroke-width="0.9" />
<line x1="136.71" y1="353.83" x2="139.71" y2="353.83" stroke="#1f4f8a" stroke-width="0.9" />
<line x1="136.71" y1="356.72" x2="139.71" y2="356.72" stroke="#1f4f8a" stroke-width="0.9" />
<circle cx="138.21" cy="355.28" r="2.3" fill="#1f4f8a"/>
<line x1="150.30" y1="357.01" x2="150.30" y2="361.35" stroke="#1f4f8a" stroke-width="0.9" />
<line x1="148.80" y1="357.01" x2="151.80" y2="357.01" stroke="#1f4f8a" stroke-width="0.9" />
<line x1="148.80" y1="361.35" x2="151.80" y2="361.35" stroke="#1f4f8a" stroke-width="0.9" />
<circle cx="150.30" cy="359.18" r="2.3" fill="#1f4f8a"/>
<circle cx="122.2" cy="260.10" r="2.1" fill="#c4173d"/>
<text x="128.0" y="263.20000000000005" font-size="7.5" text-anchor="start" font-weight="normal" fill="#231f20" stroke="#231f20" stroke-width="0.15" >AMO1</text>
<circle cx="122.2" cy="269.15" r="2.1" fill="#1f4f8a"/>
<text x="128.0" y="272.25000000000006" font-size="7.5" text-anchor="start" font-weight="normal" fill="#231f20" stroke="#231f20" stroke-width="0.15" >JJN3</text>
<circle cx="122.2" cy="278.20" r="2.1" fill="#4cb151"/>
<text x="128.0" y="281.30000000000007" font-size="7.5" text-anchor="start" font-weight="normal" fill="#231f20" stroke="#231f20" stroke-width="0.15" >OPM2</text>
<circle cx="122.2" cy="287.25" r="2.1" fill="#5a1d6a"/>
<text x="128.0" y="290.35" font-size="7.5" text-anchor="start" font-weight="normal" fill="#231f20" stroke="#231f20" stroke-width="0.15" >MM1S</text>
<circle cx="122.2" cy="296.30" r="2.1" fill="#f5951f"/>
<text x="128.0" y="299.40000000000003" font-size="7.5" text-anchor="start" font-weight="normal" fill="#231f20" stroke="#231f20" stroke-width="0.15" >NCI-H929</text>
<text x="273.2" y="270.1" font-size="9.2" text-anchor="start" font-weight="normal" fill="#231f20" stroke="#231f20" stroke-width="0.15" >OPM2</text>
<line x1="304.40" y1="267.20" x2="361.50" y2="267.20" stroke="#231f20" stroke-width="0.9" />
<path d="M360.9,265.1 L365,267.2 L360.9,269.4 Z" fill="#231f20"/>
<text x="335" y="263.9" font-size="7.1" text-anchor="middle" font-weight="normal" fill="#231f20" stroke="#231f20" stroke-width="0.15" >16h treatment</text>
<text x="368.3" y="270" font-size="9.1" text-anchor="start" font-weight="normal" fill="#231f20" stroke="#231f20" stroke-width="0.15" >Quantitative proteomics</text>
<text x="283.7" y="287.1" font-size="9.3" text-anchor="middle" font-weight="normal" fill="#231f20" stroke="#231f20" stroke-width="0.15" >DNA repair</text>
<text x="457.4" y="287.1" font-size="9.3" text-anchor="middle" font-weight="normal" fill="#231f20" stroke="#231f20" stroke-width="0.15" >Apoptosis</text>
<line x1="223.10" y1="292.40" x2="223.10" y2="392.00" stroke="#231f20" stroke-width="1.2" />
<line x1="222.60" y1="392.00" x2="344.20" y2="392.00" stroke="#231f20" stroke-width="1.2" />
<line x1="220.10" y1="382.40" x2="223.10" y2="382.40" stroke="#231f20" stroke-width="1" />
<text x="216.2" y="385.0" font-size="7.4" text-anchor="end" font-weight="normal" fill="#231f20" stroke="#231f20" stroke-width="0.15" >0.0</text>
<line x1="220.10" y1="365.24" x2="223.10" y2="365.24" stroke="#231f20" stroke-width="1" />
<text x="216.2" y="367.84" font-size="7.4" text-anchor="end" font-weight="normal" fill="#231f20" stroke="#231f20" stroke-width="0.15" >0.1</text>
<line x1="220.10" y1="348.08" x2="223.10" y2="348.08" stroke="#231f20" stroke-width="1" />
<text x="216.2" y="350.68" font-size="7.4" text-anchor="end" font-weight="normal" fill="#231f20" stroke="#231f20" stroke-width="0.15" >0.2</text>
<line x1="220.10" y1="330.92" x2="223.10" y2="330.92" stroke="#231f20" stroke-width="1" />
<text x="216.2" y="333.52" font-size="7.4" text-anchor="end" font-weight="normal" fill="#231f20" stroke="#231f20" stroke-width="0.15" >0.3</text>
<line x1="220.10" y1="313.76" x2="223.10" y2="313.76" stroke="#231f20" stroke-width="1" />
<text x="216.2" y="316.36" font-size="7.4" text-anchor="end" font-weight="normal" fill="#231f20" stroke="#231f20" stroke-width="0.15" >0.4</text>
<line x1="220.10" y1="296.60" x2="223.10" y2="296.60" stroke="#231f20" stroke-width="1" />
<text x="216.2" y="299.2" font-size="7.4" text-anchor="end" font-weight="normal" fill="#231f20" stroke="#231f20" stroke-width="0.15" >0.5</text>
<line x1="224.50" y1="376.90" x2="224.50" y2="387.50" stroke="#1a1a1a" stroke-width="0.9" />
<line x1="225.60" y1="376.90" x2="225.60" y2="387.50" stroke="#1a1a1a" stroke-width="0.9" />
<line x1="228.90" y1="376.90" x2="228.90" y2="387.50" stroke="#1a1a1a" stroke-width="0.9" />
<line x1="231.40" y1="376.90" x2="231.40" y2="387.50" stroke="#1a1a1a" stroke-width="0.9" />
<line x1="233.30" y1="376.90" x2="233.30" y2="387.50" stroke="#1a1a1a" stroke-width="0.9" />
<line x1="234.80" y1="376.90" x2="234.80" y2="387.50" stroke="#1a1a1a" stroke-width="0.9" />
<line x1="236.60" y1="376.90" x2="236.60" y2="387.50" stroke="#1a1a1a" stroke-width="0.9" />
<line x1="239.80" y1="376.90" x2="239.80" y2="387.50" stroke="#1a1a1a" stroke-width="0.9" />
<line x1="241.40" y1="376.90" x2="241.40" y2="387.50" stroke="#1a1a1a" stroke-width="0.9" />
<line x1="243.30" y1="376.90" x2="243.30" y2="387.50" stroke="#1a1a1a" stroke-width="0.9" />
<line x1="244.80" y1="376.90" x2="244.80" y2="387.50" stroke="#1a1a1a" stroke-width="0.9" />
<line x1="247.20" y1="376.90" x2="247.20" y2="387.50" stroke="#1a1a1a" stroke-width="0.9" />
<line x1="252.90" y1="376.90" x2="252.90" y2="387.50" stroke="#1a1a1a" stroke-width="0.9" />
<line x1="254.10" y1="376.90" x2="254.10" y2="387.50" stroke="#1a1a1a" stroke-width="0.9" />
<line x1="256.40" y1="376.90" x2="256.40" y2="387.50" stroke="#1a1a1a" stroke-width="0.9" />
<line x1="258.50" y1="376.90" x2="258.50" y2="387.50" stroke="#1a1a1a" stroke-width="0.9" />
<line x1="262.20" y1="376.90" x2="262.20" y2="387.50" stroke="#1a1a1a" stroke-width="0.9" />
<line x1="266.00" y1="376.90" x2="266.00" y2="387.50" stroke="#1a1a1a" stroke-width="0.9" />
<line x1="266.90" y1="376.90" x2="266.90" y2="387.50" stroke="#1a1a1a" stroke-width="0.9" />
<line x1="268.00" y1="376.90" x2="268.00" y2="387.50" stroke="#1a1a1a" stroke-width="0.9" />
<line x1="269.00" y1="376.90" x2="269.00" y2="387.50" stroke="#1a1a1a" stroke-width="0.9" />
<line x1="273.40" y1="376.90" x2="273.40" y2="387.50" stroke="#1a1a1a" stroke-width="0.9" />
<line x1="275.30" y1="376.90" x2="275.30" y2="387.50" stroke="#1a1a1a" stroke-width="0.9" />
<line x1="277.10" y1="376.90" x2="277.10" y2="387.50" stroke="#1a1a1a" stroke-width="0.9" />
<line x1="280.50" y1="376.90" x2="280.50" y2="387.50" stroke="#1a1a1a" stroke-width="0.9" />
<line x1="284.00" y1="376.90" x2="284.00" y2="387.50" stroke="#1a1a1a" stroke-width="0.9" />
<line x1="292.20" y1="376.90" x2="292.20" y2="387.50" stroke="#1a1a1a" stroke-width="0.9" />
<line x1="223.10" y1="382.40" x2="344.20" y2="382.40" stroke="#111" stroke-width="0.9" />
<line x1="223.1" y1="382.4" x2="344.2" y2="382.4" stroke="#c8283c" stroke-width="0.85" stroke-dasharray="1.8,2.4"/>
<line x1="223.1" y1="296.60" x2="339.5" y2="296.60" stroke="#c8283c" stroke-width="0.85" stroke-dasharray="1.8,2.4"/>
<path d="M224.20,333.80 L225.80,325.40 L227.30,322.30 L228.50,324.50 L229.60,315.40 L230.50,318.00 L231.90,313.00 L233.50,320.00 L235.00,311.50 L236.50,314.50 L238.00,309.20 L239.60,312.50 L241.20,306.20 L242.80,308.50 L245.00,303.80 L246.50,305.50 L248.00,303.00 L249.60,306.30 L251.50,308.50 L253.50,310.00 L256.50,302.30 L258.80,297.40 L260.50,299.00 L262.70,300.00 L265.80,303.00 L268.00,300.50 L270.40,298.90 L273.50,302.30 L276.50,303.80 L278.50,303.20 L281.20,305.40 L284.20,307.70 L287.50,311.50 L292.00,317.70 L295.00,320.00 L333.20,382.30" fill="none" stroke="#6cc16a" stroke-width="0.9" stroke-linejoin="round"/>
<text transform="translate(202.6,336.3) rotate(-90) scale(0.749,1)" font-size="8.3" text-anchor="middle" fill="#231f20" stroke="#231f20" stroke-width="0.25">Enrichment score</text>
<text x="295.6" y="303.7" font-size="8.1" text-anchor="start" font-weight="normal" fill="#231f20" stroke="#231f20" stroke-width="0.15" >p = 0.0034</text>
<text x="295.6" y="311.5" font-size="8.1" text-anchor="start" font-weight="normal" fill="#231f20" stroke="#231f20" stroke-width="0.15" >p-adj = 0.0069</text>
<text x="221.9" y="402.2" font-size="7.9" text-anchor="start" font-weight="normal" fill="#231f20" stroke="#231f20" stroke-width="0.15" >Suba</text>
<text x="344.5" y="402.2" font-size="7.9" text-anchor="end" font-weight="normal" fill="#231f20" stroke="#231f20" stroke-width="0.15" >DMSO</text>
<line x1="399.60" y1="292.40" x2="399.60" y2="392.00" stroke="#231f20" stroke-width="1.2" />
<line x1="399.10" y1="392.00" x2="515.60" y2="392.00" stroke="#231f20" stroke-width="1.2" />
<line x1="396.60" y1="382.20" x2="399.60" y2="382.20" stroke="#231f20" stroke-width="1" />
<text x="392.70000000000005" y="384.8" font-size="7.4" text-anchor="end" font-weight="normal" fill="#231f20" stroke="#231f20" stroke-width="0.15" >0.0</text>
<line x1="396.60" y1="360.65" x2="399.60" y2="360.65" stroke="#231f20" stroke-width="1" />
<text x="392.70000000000005" y="363.25" font-size="7.4" text-anchor="end" font-weight="normal" fill="#231f20" stroke="#231f20" stroke-width="0.15" >0.1</text>
<line x1="396.60" y1="339.10" x2="399.60" y2="339.10" stroke="#231f20" stroke-width="1" />
<text x="392.70000000000005" y="341.7" font-size="7.4" text-anchor="end" font-weight="normal" fill="#231f20" stroke="#231f20" stroke-width="0.15" >0.2</text>
<line x1="396.60" y1="317.55" x2="399.60" y2="317.55" stroke="#231f20" stroke-width="1" />
<text x="392.70000000000005" y="320.15000000000003" font-size="7.4" text-anchor="end" font-weight="normal" fill="#231f20" stroke="#231f20" stroke-width="0.15" >0.3</text>
<line x1="396.60" y1="296.00" x2="399.60" y2="296.00" stroke="#231f20" stroke-width="1" />
<text x="392.70000000000005" y="298.6" font-size="7.4" text-anchor="end" font-weight="normal" fill="#231f20" stroke="#231f20" stroke-width="0.15" >0.4</text>
<line x1="400.90" y1="376.90" x2="400.90" y2="387.50" stroke="#1a1a1a" stroke-width="0.9" />
<line x1="401.50" y1="376.90" x2="401.50" y2="387.50" stroke="#1a1a1a" stroke-width="0.9" />
<line x1="402.20" y1="376.90" x2="402.20" y2="387.50" stroke="#1a1a1a" stroke-width="0.9" />
<line x1="403.00" y1="376.90" x2="403.00" y2="387.50" stroke="#1a1a1a" stroke-width="0.9" />
<line x1="403.70" y1="376.90" x2="403.70" y2="387.50" stroke="#1a1a1a" stroke-width="0.9" />
<line x1="404.40" y1="376.90" x2="404.40" y2="387.50" stroke="#1a1a1a" stroke-width="0.9" />
<line x1="405.20" y1="376.90" x2="405.20" y2="387.50" stroke="#1a1a1a" stroke-width="0.9" />
<line x1="405.90" y1="376.90" x2="405.90" y2="387.50" stroke="#1a1a1a" stroke-width="0.9" />
<line x1="409.50" y1="376.90" x2="409.50" y2="387.50" stroke="#1a1a1a" stroke-width="0.9" />
<line x1="410.20" y1="376.90" x2="410.20" y2="387.50" stroke="#1a1a1a" stroke-width="0.9" />
<line x1="411.50" y1="376.90" x2="411.50" y2="387.50" stroke="#1a1a1a" stroke-width="0.9" />
<line x1="412.20" y1="376.90" x2="412.20" y2="387.50" stroke="#1a1a1a" stroke-width="0.9" />
<line x1="412.90" y1="376.90" x2="412.90" y2="387.50" stroke="#1a1a1a" stroke-width="0.9" />
<line x1="413.70" y1="376.90" x2="413.70" y2="387.50" stroke="#1a1a1a" stroke-width="0.9" />
<line x1="414.50" y1="376.90" x2="414.50" y2="387.50" stroke="#1a1a1a" stroke-width="0.9" />
<line x1="415.20" y1="376.90" x2="415.20" y2="387.50" stroke="#1a1a1a" stroke-width="0.9" />
<line x1="416.00" y1="376.90" x2="416.00" y2="387.50" stroke="#1a1a1a" stroke-width="0.9" />
<line x1="417.40" y1="376.90" x2="417.40" y2="387.50" stroke="#1a1a1a" stroke-width="0.9" />
<line x1="419.30" y1="376.90" x2="419.30" y2="387.50" stroke="#1a1a1a" stroke-width="0.9" />
<line x1="420.30" y1="376.90" x2="420.30" y2="387.50" stroke="#1a1a1a" stroke-width="0.9" />
<line x1="422.50" y1="376.90" x2="422.50" y2="387.50" stroke="#1a1a1a" stroke-width="0.9" />
<line x1="423.30" y1="376.90" x2="423.30" y2="387.50" stroke="#1a1a1a" stroke-width="0.9" />
<line x1="424.50" y1="376.90" x2="424.50" y2="387.50" stroke="#1a1a1a" stroke-width="0.9" />
<line x1="426.80" y1="376.90" x2="426.80" y2="387.50" stroke="#1a1a1a" stroke-width="0.9" />
<line x1="427.60" y1="376.90" x2="427.60" y2="387.50" stroke="#1a1a1a" stroke-width="0.9" />
<line x1="428.40" y1="376.90" x2="428.40" y2="387.50" stroke="#1a1a1a" stroke-width="0.9" />
<line x1="431.60" y1="376.90" x2="431.60" y2="387.50" stroke="#1a1a1a" stroke-width="0.9" />
<line x1="432.50" y1="376.90" x2="432.50" y2="387.50" stroke="#1a1a1a" stroke-width="0.9" />
<line x1="433.60" y1="376.90" x2="433.60" y2="387.50" stroke="#1a1a1a" stroke-width="0.9" />
<line x1="435.20" y1="376.90" x2="435.20" y2="387.50" stroke="#1a1a1a" stroke-width="0.9" />
<line x1="438.30" y1="376.90" x2="438.30" y2="387.50" stroke="#1a1a1a" stroke-width="0.9" />
<line x1="440.20" y1="376.90" x2="440.20" y2="387.50" stroke="#1a1a1a" stroke-width="0.9" />
<line x1="441.00" y1="376.90" x2="441.00" y2="387.50" stroke="#1a1a1a" stroke-width="0.9" />
<line x1="441.90" y1="376.90" x2="441.90" y2="387.50" stroke="#1a1a1a" stroke-width="0.9" />
<line x1="442.80" y1="376.90" x2="442.80" y2="387.50" stroke="#1a1a1a" stroke-width="0.9" />
<line x1="444.30" y1="376.90" x2="444.30" y2="387.50" stroke="#1a1a1a" stroke-width="0.9" />
<line x1="446.30" y1="376.90" x2="446.30" y2="387.50" stroke="#1a1a1a" stroke-width="0.9" />
<line x1="449.30" y1="376.90" x2="449.30" y2="387.50" stroke="#1a1a1a" stroke-width="0.9" />
<line x1="450.20" y1="376.90" x2="450.20" y2="387.50" stroke="#1a1a1a" stroke-width="0.9" />
<line x1="452.00" y1="376.90" x2="452.00" y2="387.50" stroke="#1a1a1a" stroke-width="0.9" />
<line x1="458.30" y1="376.90" x2="458.30" y2="387.50" stroke="#1a1a1a" stroke-width="0.9" />
<line x1="466.50" y1="376.90" x2="466.50" y2="387.50" stroke="#1a1a1a" stroke-width="0.9" />
<line x1="468.40" y1="376.90" x2="468.40" y2="387.50" stroke="#1a1a1a" stroke-width="0.9" />
<line x1="471.20" y1="376.90" x2="471.20" y2="387.50" stroke="#1a1a1a" stroke-width="0.9" />
<line x1="472.60" y1="376.90" x2="472.60" y2="387.50" stroke="#1a1a1a" stroke-width="0.9" />
<line x1="474.30" y1="376.90" x2="474.30" y2="387.50" stroke="#1a1a1a" stroke-width="0.9" />
<line x1="480.50" y1="376.90" x2="480.50" y2="387.50" stroke="#1a1a1a" stroke-width="0.9" />
<line x1="489.90" y1="376.90" x2="489.90" y2="387.50" stroke="#1a1a1a" stroke-width="0.9" />
<line x1="491.00" y1="376.90" x2="491.00" y2="387.50" stroke="#1a1a1a" stroke-width="0.9" />
<line x1="497.70" y1="376.90" x2="497.70" y2="387.50" stroke="#1a1a1a" stroke-width="0.9" />
<line x1="499.50" y1="376.90" x2="499.50" y2="387.50" stroke="#1a1a1a" stroke-width="0.9" />
<line x1="501.80" y1="376.90" x2="501.80" y2="387.50" stroke="#1a1a1a" stroke-width="0.9" />
<line x1="505.80" y1="376.90" x2="505.80" y2="387.50" stroke="#1a1a1a" stroke-width="0.9" />
<line x1="507.70" y1="376.90" x2="507.70" y2="387.50" stroke="#1a1a1a" stroke-width="0.9" />
<line x1="399.60" y1="382.20" x2="515.60" y2="382.20" stroke="#111" stroke-width="0.9" />
<line x1="399.6" y1="385.1" x2="515.6" y2="385.1" stroke="#c8283c" stroke-width="0.85" stroke-dasharray="1.8,2.4"/>
<line x1="399.6" y1="296.00" x2="515.6" y2="296.00" stroke="#c8283c" stroke-width="0.85" stroke-dasharray="1.8,2.4"/>
<path d="M400.30,382.00 L401.90,345.00 L403.30,328.30 L405.40,317.20 L406.80,316.50 L408.90,320.60 L411.00,317.20 L412.40,308.80 L414.40,301.90 L416.00,299.00 L417.90,297.40 L420.70,299.10 L422.80,301.90 L424.20,299.80 L426.25,301.90 L428.30,303.30 L431.10,307.40 L433.20,306.00 L434.60,308.80 L436.70,305.40 L438.75,308.10 L440.10,309.50 L442.20,307.40 L444.30,304.70 L447.10,304.00 L449.90,306.00 L452.60,310.20 L456.10,317.20 L458.20,321.30 L460.90,325.50 L464.40,333.80 L466.10,334.40 L468.70,336.10 L472.00,341.20 L474.60,343.80 L480.60,355.70 L489.10,372.80 L491.70,369.40 L493.80,372.00 L496.70,377.80 L498.50,379.00 L500.00,378.20 L502.00,379.50 L504.00,378.50 L506.00,380.00 L508.00,379.00 L510.00,381.00" fill="none" stroke="#6cc16a" stroke-width="0.9" stroke-linejoin="round"/>
<text transform="translate(376.6,342.1) rotate(-90) scale(0.786,1)" font-size="8.3" text-anchor="middle" fill="#231f20" stroke="#231f20" stroke-width="0.25">Enrichment score</text>
<text x="476.6" y="303.7" font-size="7.8" text-anchor="start" font-weight="normal" fill="#231f20" stroke="#231f20" stroke-width="0.15" >p = 0.0039</text>
<text x="476.6" y="311.5" font-size="7.8" text-anchor="start" font-weight="normal" fill="#231f20" stroke="#231f20" stroke-width="0.15" >p-adj = 0.02</text>
<text x="398.40000000000003" y="402.2" font-size="7.9" text-anchor="start" font-weight="normal" fill="#231f20" stroke="#231f20" stroke-width="0.15" >Suba</text>
<text x="515.9" y="402.2" font-size="7.9" text-anchor="end" font-weight="normal" fill="#231f20" stroke="#231f20" stroke-width="0.15" >DMSO</text>
</svg>
</body></html>
